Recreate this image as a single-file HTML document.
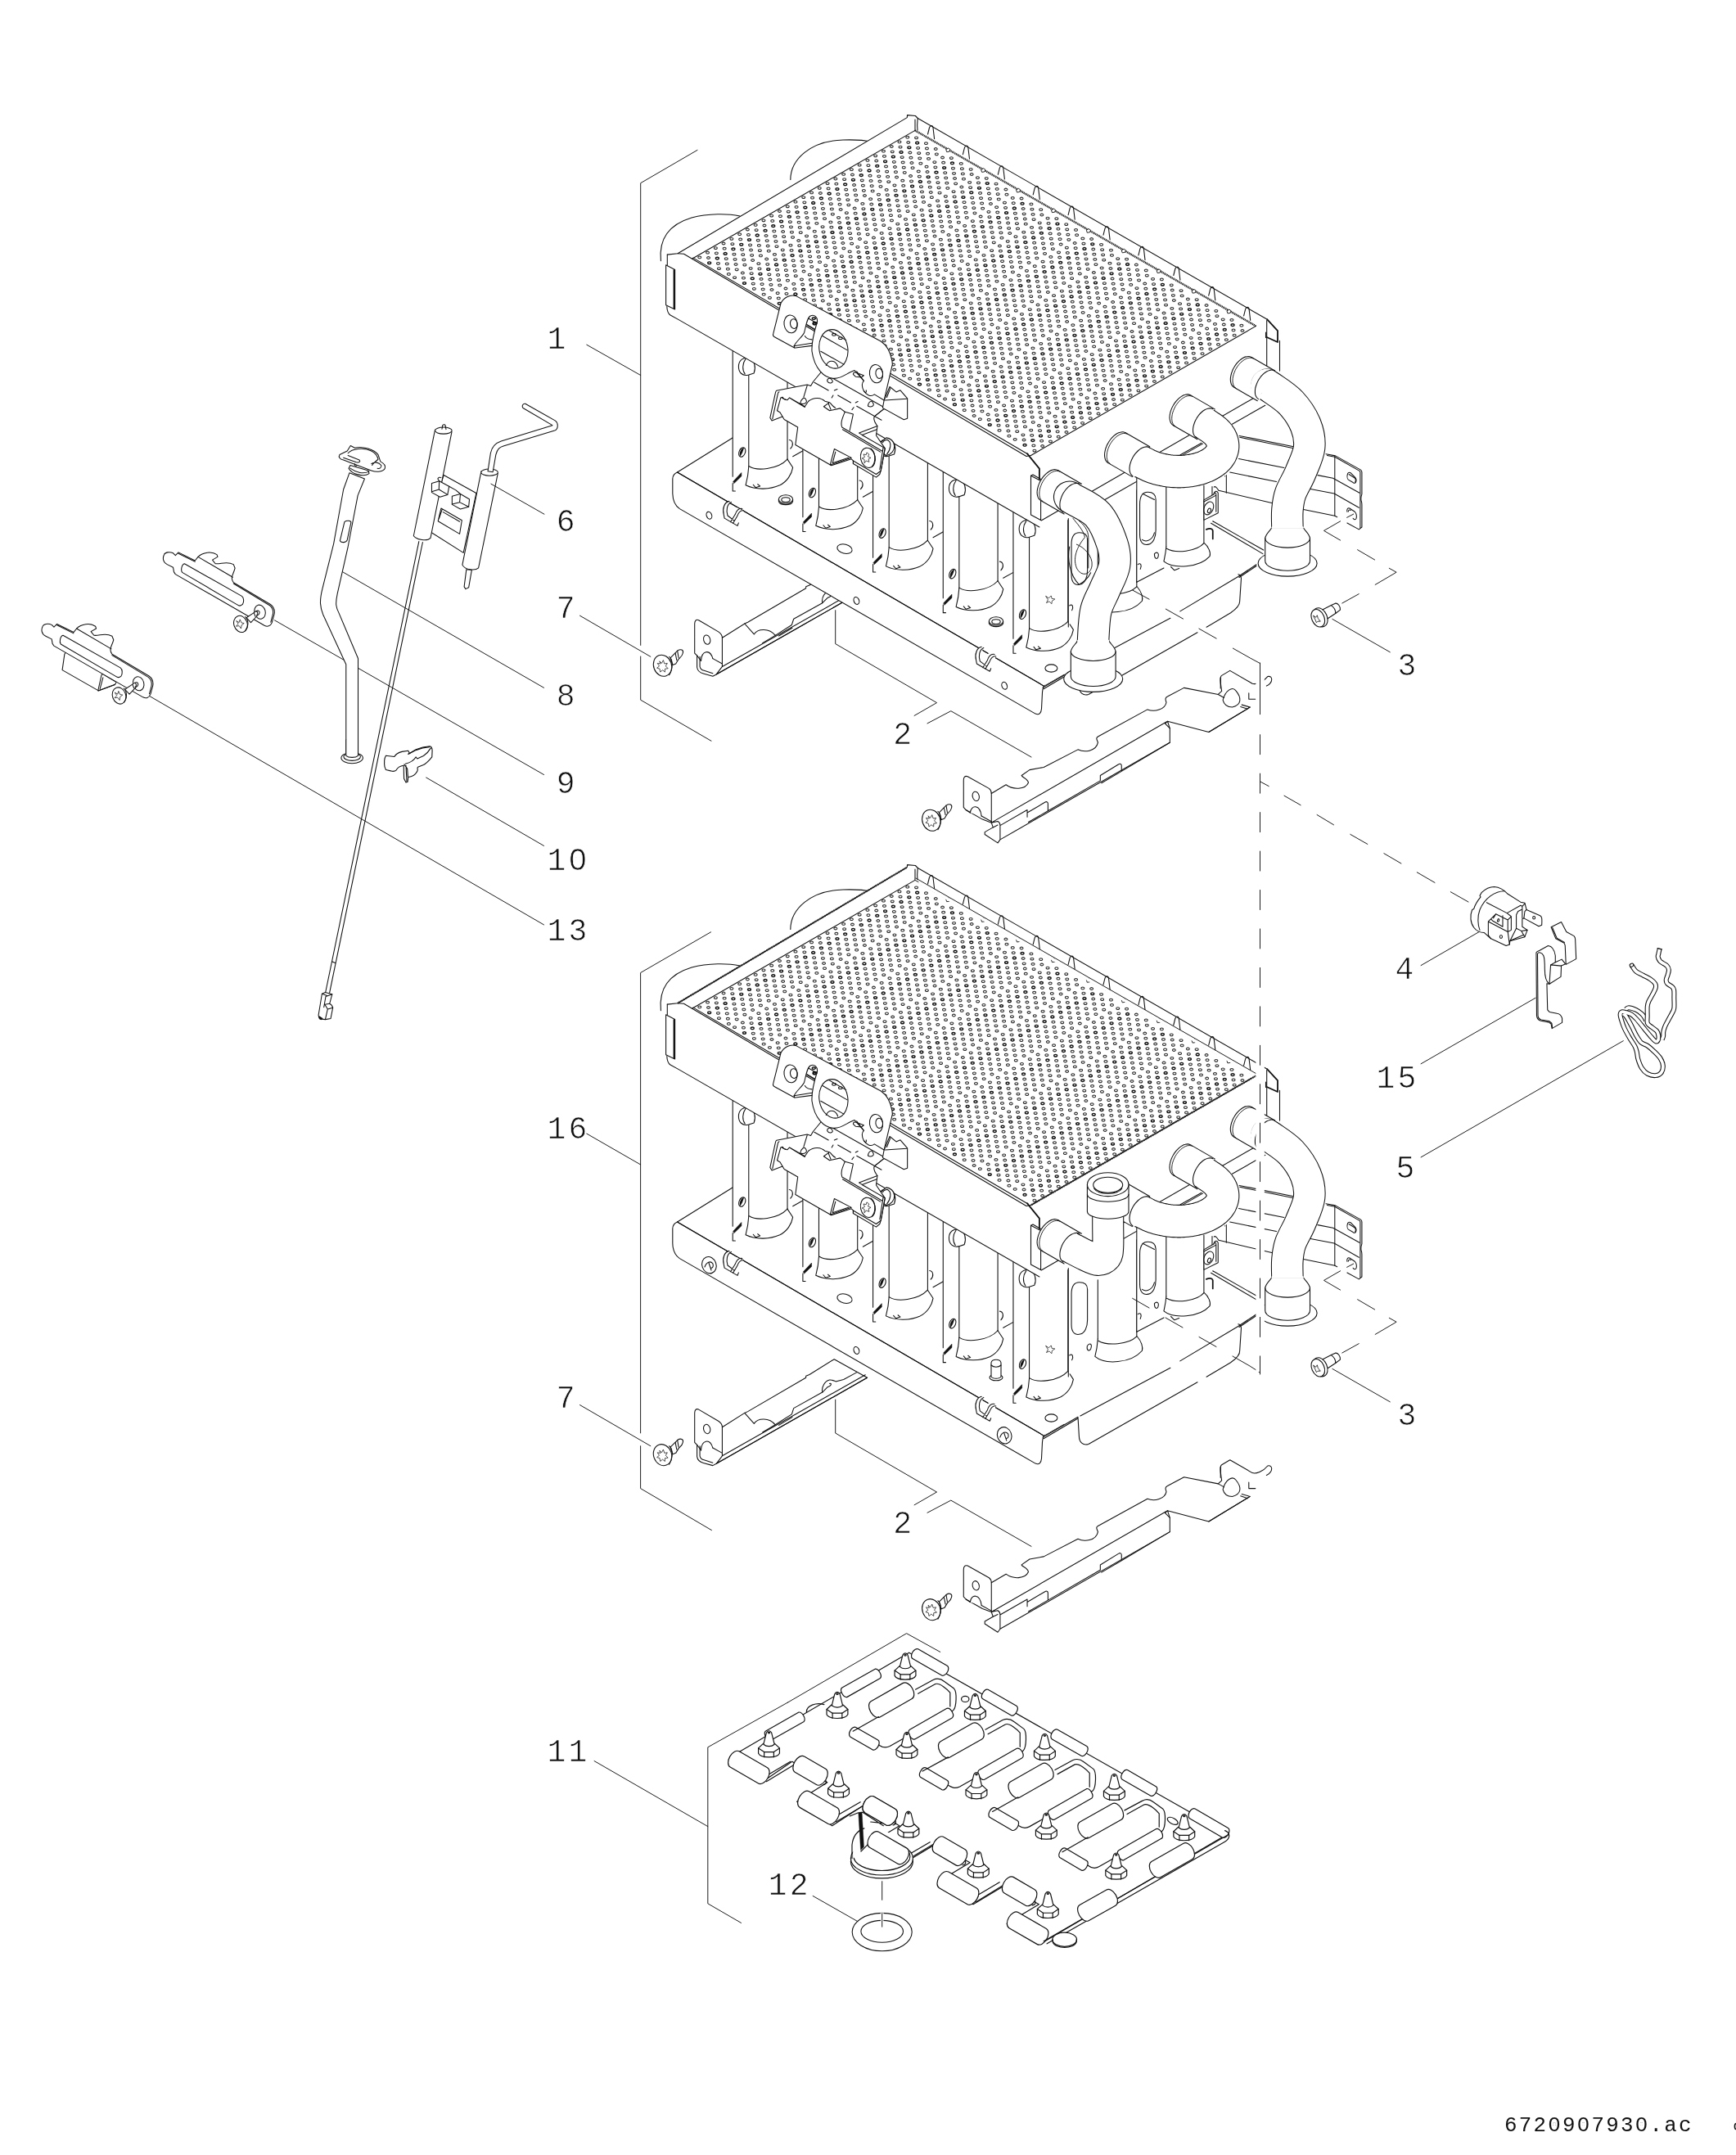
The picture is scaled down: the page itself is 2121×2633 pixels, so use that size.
<!DOCTYPE html>
<html><head><meta charset="utf-8"><title>6720907930</title>
<style>
html,body{margin:0;padding:0;background:#fff}
svg{display:block}
svg *{vector-effect:none}
.L{fill:none;stroke:#111;stroke-width:1.08;stroke-linecap:round;stroke-linejoin:round}
.L .w{fill:#fff}
.L .k{fill:#111}
.L .n{fill:none}
.L .th{stroke-width:.95}
.T3{stroke-width:3.7}
.T3 .th{stroke-width:3.2}
.T3 .b{stroke-width:6.5}
text{filter:url(#gs);font-family:"Liberation Mono",monospace;font-size:38px;fill:#111;stroke:#fff;stroke-width:.7px;letter-spacing:3.2px;}
</style></head><body>
<svg width="2121" height="2633" viewBox="0 0 2121 2633">
<defs><filter id="gs" x="-5%" y="-20%" width="110%" height="140%" color-interpolation-filters="sRGB"><feColorMatrix type="saturate" values="0"/></filter></defs>
<rect width="2121" height="2633" fill="#fff"/>
<g class="L">
<g id="part2">
<g class="T3" transform="translate(760 675.6) scale(.28802)">
<!-- left bracket piece (coords = bottom tile [760,1640]) -->
<path class="w" d="M308 300C308 288 314 280 325 285L410 335C420 342 425 350 425 360L520 300L535 293L780 150V143L795 137L900 72L1040 150L400 515L385 523L345 512C330 508 320 500 318 485V435L308 425Z"/>
<path d="M425 360V482L1032 138M425 482L400 515M400 515L1040 150"/>
<path d="M520 300L560 345C575 320 625 318 650 350L720 305L728 280L850 212C845 190 860 165 880 160C895 158 905 168 910 166L940 158L995 128"/>
<path d="M650 350L596 382M665 352L722 318M880 175C890 172 890 185 872 190L850 212"/>
<ellipse cx="360" cy="368" rx="14" ry="20" transform="rotate(-15 360 368)"/>
<path class="w" d="M335 458C337 415 372 405 385 448"/>
<path d="M318 435L335 458M385 448L425 470"/>
<path d="M330 440V482C332 492 338 497 348 499L385 511"/>
</g>
<g class="T3" transform="translate(1160 720) scale(.28802)">
<!-- right bracket piece -->
<path class="w" style="stroke:none" d="M1275 500L1100 606L925 560L935 590V650L215 1062L205 1076L150 1040V1030L185 1010L178 990L140 976L70 936L60 925V810C60 797 66 790 77 794L168 845C175 850 178 858 178 866L240 829C270 852 322 850 335 820C330 800 310 800 306 790L340 766L400 755L545 680C570 692 622 690 630 650C625 636 620 632 630 625L840 510C870 522 915 510 920 480C915 466 915 460 925 455L995 418L1140 446L1155 432C1150 400 1145 372 1155 366L1190 345L1285 400L1295 440Z"/>
<path d="M1275 500L1100 606L925 560L935 590V650L215 1062L205 1076L150 1040V1030L185 1010L178 990L140 976L70 936L60 925V810C60 797 66 790 77 794L168 845C175 850 178 858 178 866L240 829C270 852 322 850 335 820C330 800 310 800 306 790L340 766L400 755L545 680C570 692 622 690 630 650C625 636 620 632 630 625L840 510C870 522 915 510 920 480C915 466 915 460 925 455L995 418L1140 446L1155 432C1150 400 1145 372 1155 366L1190 345L1285 400C1300 405 1330 395 1350 370C1372 365 1375 395 1345 410"/>
<path d="M178 866V990L925 560M178 990L205 984C212 988 215 994 215 1002V1060M185 1010L205 1000M215 1002L330 936V966M330 948L408 902C414 900 418 904 418 910V940L335 988M418 940L640 812V790L718 742C724 738 730 742 730 748V772L645 822M730 772L935 650M925 560L915 570L935 590"/>
<ellipse cx="112" cy="878" rx="14" ry="20" transform="rotate(-15 112 878)"/>
<path class="w" d="M88 948C92 912 130 912 136 962"/>
<path d="M70 936L88 948M136 962L178 985"/>
<path d="M1160 470C1170 430 1200 410 1215 430C1240 460 1240 490 1200 500C1180 500 1165 490 1160 470Z"/>
<path d="M1140 446L1165 460M1240 490L1275 500L1100 606M1235 498L1265 508M1150 375V420M1270 440V466H1298"/>

</g>
<!-- leader/bracket lines for 2 -->
<g class="th">
<path d="M1020.7 745.7V786.6L1144.5 858.6L1117.1 874.4"/>
<path d="M1133 883.9L1161.8 868.7L1260 925"/>
</g>
<text x="1091.3" y="909">2</text>
<g id="screw7">
<g transform="translate(760 675.6) scale(.28802)" class="T3">
<path class="w" d="M205 445L235 415C250 405 262 412 258 425C255 440 245 445 240 450L228 470L215 475Z"/>
<path d="M235 415L240 445M226 425L232 455"/>
<ellipse class="w" cx="172" cy="478" rx="38" ry="46" transform="rotate(-20 172 478)"/>
<path d="M200 440C215 450 218 490 200 518"/>
<path d="M160 460L168 468L175 455L180 470L192 468L185 480L195 490L182 492L182 505L172 497L162 505L160 492L148 488L158 480L150 468L162 470Z" style="stroke-width:2.6"/>
</g>
</g>
<use href="#screw7" x="328.3" y="189"/>
</g>

<g id="U">
<g id="trayTop">
<!-- tray top surface + front face (src coords) -->
<path class="w" d="M895 535L827.5 577L1275.2 838.1L1517 698L1100 460Z" style="stroke:none"/>
<path d="M895 535L827.5 577"/>
<path class="w" d="M827.5 577C824 578.5 822 581 821.8 585V603C822 612 825 618 830.4 621.6L1265.1 872.1C1270 874 1272 871 1272.5 866L1273.5 846C1273.8 842 1274.5 840 1275.2 838.1Z"/>
<path d="M827.5 577L1275.2 838.1L1300 824"/>
<!-- holes in front face -->
<ellipse cx="866.4" cy="629.7" rx="3.2" ry="4.6" transform="rotate(-20 866.4 629.7)"/>
<ellipse cx="1046.4" cy="733.9" rx="3.2" ry="4.6" transform="rotate(-20 1046.4 733.9)"/>
<ellipse cx="1227.2" cy="837.8" rx="3.2" ry="4.6" transform="rotate(-20 1227.2 837.8)"/>
<!-- washers / oval holes on top -->
<g id="washer"><ellipse cx="960" cy="610" rx="8.6" ry="5.2"/><ellipse cx="960" cy="610.6" rx="5.2" ry="2.9"/><path d="M951.4 610V612.5C953 618 967 618 968.6 612.5V610"/></g>
<use href="#washer" x="257" y="149"/>
<ellipse cx="1032" cy="670.6" rx="9.3" ry="5.6" transform="rotate(14 1032 670.6)"/>
<ellipse cx="1284.4" cy="816.5" rx="7.5" ry="4.6"/>
<!-- clip hooks -->
<g id="hook"><path class="w" style="stroke:none" d="M890.9 612.4C885 613.5 882.3 621.6 884.3 628.8L885.1 633.1L901 642.4L908.5 624L900 620L894 625Z"/><path d="M890.9 612.4C885 613.5 882.3 621.6 884.3 628.8L885.1 633.1L901 642.4L902.4 638.9M893.5 613.5C888 616 887 624 889 630L897 636M906.7 621.6C902.5 620.2 899.5 624.5 898.1 628.8L892.5 637.8M908.5 624C905 623 902 627 900.5 631L895.5 639.5"/></g>
<use href="#hook" x="308.3" y="177.9"/>
</g>

<g id="trayRight">
<path class="w" style="stroke:none" d="M1275.2 838.1L1317 814L1318.4 842.7L1329.9 848.5L1505 749L1516.5 706L1535 690L1480 700L1317 800Z"/>
<path d="M1274.1 840L1317 815.3M1275 841.8L1317 817M1317 815.3L1318.4 839C1318.6 846 1323 850.5 1329.9 848.5L1463 772.7M1474.1 766.3L1503.6 748.8C1512 743 1515 738 1514.7 734L1516.5 706.4C1516 703 1514.5 702 1512.8 701.8"/>
<path d="M1319.9 813.9L1429.9 755.2M1441.8 746.9L1512.8 704.5L1535 689.8M1514 705.5L1535 691.5"/>
</g>

<g id="tubes" class="T3" transform="translate(780 420) scale(.28802)">
<defs>
<g id="tube">
<path d="M655 478L698 454"/>
<path class="w" d="M400 -60V625H412L455 600C500 625 600 620 655 525L632 490V-60Z" style="stroke:none"/>
<path d="M400 -60V563M400 592V625H411M468 130V520M632 60V490"/>
<path class="k" d="M402 584L437 547V562L406 592Z" style="stroke-width:2"/>
<ellipse cx="440" cy="460" rx="13" ry="21" transform="rotate(22 440 460)"/>
<path class="k" d="M431 478C426 462 436 442 448 441C444 455 440 468 431 478Z" style="stroke:none"/>
<path d="M468 520C466 560 459 585 455 600C500 622 560 618 600 600C630 585 650 555 655 525L632 490"/>
<path d="M470 520C500 540 590 535 632 490"/>
<path d="M487 598L497 610L516 604L506 596"/>
<path d="M640 408C655 410 660 430 645 445"/>
<path class="w" d="M468 132C440 140 424 120 425 95C426 70 445 55 470 62C492 68 500 100 490 125Z"/>
<path d="M452 128C440 112 440 85 455 64"/>
</g>
</defs>
<use href="#tube"/>
<use href="#tube" x="297.5" y="172"/>
<use href="#tube" x="595" y="344"/>
<use href="#tube" x="892.5" y="516"/>
<use href="#tube" x="1190" y="688"/>
</g>

<g id="box">
<!-- back cylinders -->
<path d="M965.8 219.4C966 195 990 172 1030 171C1045 170.5 1057 171.5 1065 173.3"/>
<path d="M807.4 318.7C805 295 815 275 845 266C865 260.5 890 261 904 264"/>
<!-- white faces -->
<path class="w" style="stroke:none" d="M815.3 311.1L828 309.7L1108.3 143.6L1108.5 140.6L1118.4 141.5L1121.3 144.5L1548.3 390.3L1547.7 477L1272.2 636L1269.9 644L829.2 390.6L817.1 382.5L814.8 374.5Z"/>
<!-- top frame -->
<path d="M815.3 311.1L828 309.7L1108.3 143.6L1108.5 140.6L1118.4 141.5L1121.3 144.5L1548.3 390.3"/>
<path d="M845.5 316.3L1118 159.4"/>
<path d="M1118 159.4L1534.5 398.4" style="stroke-width:2.4;stroke-dasharray:1.1 .7;stroke-linecap:butt"/>
<path d="M1534.5 398.4L1259.5 556.5"/>
<path d="M847 315.1L1256 555"/>
<path d="M828 309.7L835.5 310.2L1254 557.5L1259.5 556.5"/>
<path d="M1118 159.4L1118 146M1121 159C1120 152 1121 148 1121.3 144.5"/>
<path d="M1133.5 164.0L1135.5 156.0C1136.5 152.6 1139.5 152.6 1140.0 156.0L1141.6 169.7M1176.4 188.7L1178.4 180.7C1179.4 177.2 1182.4 177.2 1182.9 180.7L1184.5 194.3M1219.3 213.3L1221.3 205.3C1222.3 201.9 1225.3 201.9 1225.8 205.3L1227.4 219.0M1262.2 237.9L1264.2 229.9C1265.2 226.5 1268.2 226.5 1268.7 229.9L1270.3 243.6M1305.1 262.6L1307.1 254.6C1308.1 251.2 1311.1 251.2 1311.6 254.6L1313.2 268.3M1348.0 287.2L1350.0 279.2C1351.0 275.9 1354.0 275.9 1354.5 279.2L1356.1 292.9M1390.9 311.9L1392.9 303.9C1393.9 300.5 1396.9 300.5 1397.4 303.9L1399.0 317.6M1433.8 336.5L1435.8 328.5C1436.8 325.1 1439.8 325.1 1440.3 328.5L1441.9 342.2M1476.7 361.2L1478.7 353.2C1479.7 349.8 1482.7 349.8 1483.2 353.2L1484.8 366.9M1519.6 385.9L1521.6 377.9C1522.6 374.4 1525.6 374.4 1526.1 377.9L1527.7 391.5"/>
<path class="w" style="stroke-width:.9" d="M1156.1 182.4l2.6 -1.4l2.2 1.6l-1 2.6l-2.8 .4zM1199.0 207.1l2.6 -1.4l2.2 1.6l-1 2.6l-2.8 .4zM1241.9 231.7l2.6 -1.4l2.2 1.6l-1 2.6l-2.8 .4zM1284.8 256.4l2.6 -1.4l2.2 1.6l-1 2.6l-2.8 .4zM1327.7 281.0l2.6 -1.4l2.2 1.6l-1 2.6l-2.8 .4zM1370.6 305.6l2.6 -1.4l2.2 1.6l-1 2.6l-2.8 .4zM1413.5 330.3l2.6 -1.4l2.2 1.6l-1 2.6l-2.8 .4zM1456.4 354.9l2.6 -1.4l2.2 1.6l-1 2.6l-2.8 .4zM1499.3 379.6l2.6 -1.4l2.2 1.6l-1 2.6l-2.8 .4z"/>
<!-- left face -->
<path d="M815.3 311.1V323.8"/>
<path class="w" d="M813.6 323.8L824.6 329.5V378L813.6 372.7Z"/>
<path d="M823.6 330V377" style="stroke-width:2"/>
<path d="M814.8 374.5C815 380 816 383 819 385L829.2 390.6L1269.9 644"/>
<!-- front corner flap + clip -->
<path d="M1254.9 554.1L1269.9 572.6V585.3" style="stroke-width:1.8"/>
<path class="w" d="M1259.5 581.2L1271.6 587.6V635.4L1259.5 629Z"/>
<path d="M1259.5 581.2L1262 580L1271.6 585.5"/>
<path d="M1272.2 636L1547 477.5"/>
<!-- right corner flap -->
<path d="M1548.3 390.3L1561 404.1V418L1548.3 412.2" style="stroke-width:1.8"/>
<path d="M1547.7 391.5V477M1563.5 416.2V453.1M1546.5 406V412.5"/>
</g>

<g id="plate">
<path class="n" style="stroke-width:1.05;stroke:#2a2a2a" d="M1106.9 167.7a1.9 1.1 0 1 0 3.7 0a1.9 1.1 0 1 0 -3.7 0M1097.1 173.4a1.9 1.1 0 1 0 3.7 0a1.9 1.1 0 1 0 -3.7 0M1087.4 179.0a1.9 1.1 0 1 0 3.7 0a1.9 1.1 0 1 0 -3.7 0M1077.6 184.7a1.9 1.1 0 1 0 3.7 0a1.9 1.1 0 1 0 -3.7 0M1067.8 190.3a1.9 1.1 0 1 0 3.7 0a1.9 1.1 0 1 0 -3.7 0M1058.1 195.9a1.9 1.1 0 1 0 3.7 0a1.9 1.1 0 1 0 -3.7 0M1048.3 201.6a1.9 1.1 0 1 0 3.7 0a1.9 1.1 0 1 0 -3.7 0M1038.5 207.2a1.9 1.1 0 1 0 3.7 0a1.9 1.1 0 1 0 -3.7 0M1028.8 212.9a1.9 1.1 0 1 0 3.7 0a1.9 1.1 0 1 0 -3.7 0M1019.0 218.5a1.9 1.1 0 1 0 3.7 0a1.9 1.1 0 1 0 -3.7 0M1009.2 224.1a1.9 1.1 0 1 0 3.7 0a1.9 1.1 0 1 0 -3.7 0M999.4 229.8a1.9 1.1 0 1 0 3.7 0a1.9 1.1 0 1 0 -3.7 0M989.7 235.4a1.9 1.1 0 1 0 3.7 0a1.9 1.1 0 1 0 -3.7 0M979.9 241.1a1.9 1.1 0 1 0 3.7 0a1.9 1.1 0 1 0 -3.7 0M970.1 246.7a1.9 1.1 0 1 0 3.7 0a1.9 1.1 0 1 0 -3.7 0M960.4 252.3a1.9 1.1 0 1 0 3.7 0a1.9 1.1 0 1 0 -3.7 0M950.6 258.0a1.9 1.1 0 1 0 3.7 0a1.9 1.1 0 1 0 -3.7 0M940.8 263.6a1.9 1.1 0 1 0 3.7 0a1.9 1.1 0 1 0 -3.7 0M931.1 269.3a1.9 1.1 0 1 0 3.7 0a1.9 1.1 0 1 0 -3.7 0M921.3 274.9a1.9 1.1 0 1 0 3.7 0a1.9 1.1 0 1 0 -3.7 0M911.5 280.5a1.9 1.1 0 1 0 3.7 0a1.9 1.1 0 1 0 -3.7 0M901.8 286.2a1.9 1.1 0 1 0 3.7 0a1.9 1.1 0 1 0 -3.7 0M892.0 291.8a1.9 1.1 0 1 0 3.7 0a1.9 1.1 0 1 0 -3.7 0M882.2 297.5a1.9 1.1 0 1 0 3.7 0a1.9 1.1 0 1 0 -3.7 0M872.5 303.1a1.9 1.1 0 1 0 3.7 0a1.9 1.1 0 1 0 -3.7 0M862.7 308.7a1.9 1.1 0 1 0 3.7 0a1.9 1.1 0 1 0 -3.7 0M852.9 314.4a1.9 1.1 0 1 0 3.7 0a1.9 1.1 0 1 0 -3.7 0M1117.7 168.3a1.9 1.1 0 1 0 3.7 0a1.9 1.1 0 1 0 -3.7 0M1107.9 174.0a1.9 1.1 0 1 0 3.7 0a1.9 1.1 0 1 0 -3.7 0M1098.2 179.6a1.9 1.1 0 1 0 3.7 0a1.9 1.1 0 1 0 -3.7 0M1088.4 185.3a1.9 1.1 0 1 0 3.7 0a1.9 1.1 0 1 0 -3.7 0M1078.6 190.9a1.9 1.1 0 1 0 3.7 0a1.9 1.1 0 1 0 -3.7 0M1068.9 196.5a1.9 1.1 0 1 0 3.7 0a1.9 1.1 0 1 0 -3.7 0M1059.1 202.2a1.9 1.1 0 1 0 3.7 0a1.9 1.1 0 1 0 -3.7 0M1049.3 207.8a1.9 1.1 0 1 0 3.7 0a1.9 1.1 0 1 0 -3.7 0M1039.6 213.5a1.9 1.1 0 1 0 3.7 0a1.9 1.1 0 1 0 -3.7 0M1029.8 219.1a1.9 1.1 0 1 0 3.7 0a1.9 1.1 0 1 0 -3.7 0M1020.0 224.7a1.9 1.1 0 1 0 3.7 0a1.9 1.1 0 1 0 -3.7 0M1010.3 230.4a1.9 1.1 0 1 0 3.7 0a1.9 1.1 0 1 0 -3.7 0M1000.5 236.0a1.9 1.1 0 1 0 3.7 0a1.9 1.1 0 1 0 -3.7 0M990.7 241.7a1.9 1.1 0 1 0 3.7 0a1.9 1.1 0 1 0 -3.7 0M981.0 247.3a1.9 1.1 0 1 0 3.7 0a1.9 1.1 0 1 0 -3.7 0M971.2 252.9a1.9 1.1 0 1 0 3.7 0a1.9 1.1 0 1 0 -3.7 0M961.4 258.6a1.9 1.1 0 1 0 3.7 0a1.9 1.1 0 1 0 -3.7 0M951.6 264.2a1.9 1.1 0 1 0 3.7 0a1.9 1.1 0 1 0 -3.7 0M941.9 269.9a1.9 1.1 0 1 0 3.7 0a1.9 1.1 0 1 0 -3.7 0M932.1 275.5a1.9 1.1 0 1 0 3.7 0a1.9 1.1 0 1 0 -3.7 0M922.3 281.1a1.9 1.1 0 1 0 3.7 0a1.9 1.1 0 1 0 -3.7 0M912.6 286.8a1.9 1.1 0 1 0 3.7 0a1.9 1.1 0 1 0 -3.7 0M902.8 292.4a1.9 1.1 0 1 0 3.7 0a1.9 1.1 0 1 0 -3.7 0M893.0 298.1a1.9 1.1 0 1 0 3.7 0a1.9 1.1 0 1 0 -3.7 0M883.3 303.7a1.9 1.1 0 1 0 3.7 0a1.9 1.1 0 1 0 -3.7 0M873.5 309.3a1.9 1.1 0 1 0 3.7 0a1.9 1.1 0 1 0 -3.7 0M863.7 315.0a1.9 1.1 0 1 0 3.7 0a1.9 1.1 0 1 0 -3.7 0M1129.6 175.2a1.9 1.1 0 1 0 3.7 0a1.9 1.1 0 1 0 -3.7 0M1119.8 180.8a1.9 1.1 0 1 0 3.7 0a1.9 1.1 0 1 0 -3.7 0M1110.0 186.5a1.9 1.1 0 1 0 3.7 0a1.9 1.1 0 1 0 -3.7 0M1100.3 192.1a1.9 1.1 0 1 0 3.7 0a1.9 1.1 0 1 0 -3.7 0M1090.5 197.8a1.9 1.1 0 1 0 3.7 0a1.9 1.1 0 1 0 -3.7 0M1080.7 203.4a1.9 1.1 0 1 0 3.7 0a1.9 1.1 0 1 0 -3.7 0M1071.0 209.0a1.9 1.1 0 1 0 3.7 0a1.9 1.1 0 1 0 -3.7 0M1061.2 214.7a1.9 1.1 0 1 0 3.7 0a1.9 1.1 0 1 0 -3.7 0M1051.4 220.3a1.9 1.1 0 1 0 3.7 0a1.9 1.1 0 1 0 -3.7 0M1041.7 226.0a1.9 1.1 0 1 0 3.7 0a1.9 1.1 0 1 0 -3.7 0M1031.9 231.6a1.9 1.1 0 1 0 3.7 0a1.9 1.1 0 1 0 -3.7 0M1022.1 237.2a1.9 1.1 0 1 0 3.7 0a1.9 1.1 0 1 0 -3.7 0M1012.4 242.9a1.9 1.1 0 1 0 3.7 0a1.9 1.1 0 1 0 -3.7 0M1002.6 248.5a1.9 1.1 0 1 0 3.7 0a1.9 1.1 0 1 0 -3.7 0M992.8 254.2a1.9 1.1 0 1 0 3.7 0a1.9 1.1 0 1 0 -3.7 0M983.1 259.8a1.9 1.1 0 1 0 3.7 0a1.9 1.1 0 1 0 -3.7 0M973.3 265.4a1.9 1.1 0 1 0 3.7 0a1.9 1.1 0 1 0 -3.7 0M963.5 271.1a1.9 1.1 0 1 0 3.7 0a1.9 1.1 0 1 0 -3.7 0M953.7 276.7a1.9 1.1 0 1 0 3.7 0a1.9 1.1 0 1 0 -3.7 0M944.0 282.4a1.9 1.1 0 1 0 3.7 0a1.9 1.1 0 1 0 -3.7 0M934.2 288.0a1.9 1.1 0 1 0 3.7 0a1.9 1.1 0 1 0 -3.7 0M924.4 293.6a1.9 1.1 0 1 0 3.7 0a1.9 1.1 0 1 0 -3.7 0M914.7 299.3a1.9 1.1 0 1 0 3.7 0a1.9 1.1 0 1 0 -3.7 0M904.9 304.9a1.9 1.1 0 1 0 3.7 0a1.9 1.1 0 1 0 -3.7 0M895.1 310.6a1.9 1.1 0 1 0 3.7 0a1.9 1.1 0 1 0 -3.7 0M885.4 316.2a1.9 1.1 0 1 0 3.7 0a1.9 1.1 0 1 0 -3.7 0M875.6 321.8a1.9 1.1 0 1 0 3.7 0a1.9 1.1 0 1 0 -3.7 0M1130.6 181.4a1.9 1.1 0 1 0 3.7 0a1.9 1.1 0 1 0 -3.7 0M1120.9 187.1a1.9 1.1 0 1 0 3.7 0a1.9 1.1 0 1 0 -3.7 0M1111.1 192.7a1.9 1.1 0 1 0 3.7 0a1.9 1.1 0 1 0 -3.7 0M1101.3 198.4a1.9 1.1 0 1 0 3.7 0a1.9 1.1 0 1 0 -3.7 0M1091.6 204.0a1.9 1.1 0 1 0 3.7 0a1.9 1.1 0 1 0 -3.7 0M1081.8 209.6a1.9 1.1 0 1 0 3.7 0a1.9 1.1 0 1 0 -3.7 0M1072.0 215.3a1.9 1.1 0 1 0 3.7 0a1.9 1.1 0 1 0 -3.7 0M1062.2 220.9a1.9 1.1 0 1 0 3.7 0a1.9 1.1 0 1 0 -3.7 0M1052.5 226.6a1.9 1.1 0 1 0 3.7 0a1.9 1.1 0 1 0 -3.7 0M1042.7 232.2a1.9 1.1 0 1 0 3.7 0a1.9 1.1 0 1 0 -3.7 0M1032.9 237.8a1.9 1.1 0 1 0 3.7 0a1.9 1.1 0 1 0 -3.7 0M1023.2 243.5a1.9 1.1 0 1 0 3.7 0a1.9 1.1 0 1 0 -3.7 0M1013.4 249.1a1.9 1.1 0 1 0 3.7 0a1.9 1.1 0 1 0 -3.7 0M1003.6 254.8a1.9 1.1 0 1 0 3.7 0a1.9 1.1 0 1 0 -3.7 0M993.9 260.4a1.9 1.1 0 1 0 3.7 0a1.9 1.1 0 1 0 -3.7 0M984.1 266.0a1.9 1.1 0 1 0 3.7 0a1.9 1.1 0 1 0 -3.7 0M974.3 271.7a1.9 1.1 0 1 0 3.7 0a1.9 1.1 0 1 0 -3.7 0M964.6 277.3a1.9 1.1 0 1 0 3.7 0a1.9 1.1 0 1 0 -3.7 0M954.8 283.0a1.9 1.1 0 1 0 3.7 0a1.9 1.1 0 1 0 -3.7 0M945.0 288.6a1.9 1.1 0 1 0 3.7 0a1.9 1.1 0 1 0 -3.7 0M935.3 294.2a1.9 1.1 0 1 0 3.7 0a1.9 1.1 0 1 0 -3.7 0M925.5 299.9a1.9 1.1 0 1 0 3.7 0a1.9 1.1 0 1 0 -3.7 0M915.7 305.5a1.9 1.1 0 1 0 3.7 0a1.9 1.1 0 1 0 -3.7 0M905.9 311.2a1.9 1.1 0 1 0 3.7 0a1.9 1.1 0 1 0 -3.7 0M896.2 316.8a1.9 1.1 0 1 0 3.7 0a1.9 1.1 0 1 0 -3.7 0M886.4 322.4a1.9 1.1 0 1 0 3.7 0a1.9 1.1 0 1 0 -3.7 0M876.6 328.1a1.9 1.1 0 1 0 3.7 0a1.9 1.1 0 1 0 -3.7 0M1141.4 182.0a1.9 1.1 0 1 0 3.7 0a1.9 1.1 0 1 0 -3.7 0M1131.7 187.7a1.9 1.1 0 1 0 3.7 0a1.9 1.1 0 1 0 -3.7 0M1121.9 193.3a1.9 1.1 0 1 0 3.7 0a1.9 1.1 0 1 0 -3.7 0M1112.1 199.0a1.9 1.1 0 1 0 3.7 0a1.9 1.1 0 1 0 -3.7 0M1102.4 204.6a1.9 1.1 0 1 0 3.7 0a1.9 1.1 0 1 0 -3.7 0M1092.6 210.2a1.9 1.1 0 1 0 3.7 0a1.9 1.1 0 1 0 -3.7 0M1082.8 215.9a1.9 1.1 0 1 0 3.7 0a1.9 1.1 0 1 0 -3.7 0M1073.1 221.5a1.9 1.1 0 1 0 3.7 0a1.9 1.1 0 1 0 -3.7 0M1063.3 227.2a1.9 1.1 0 1 0 3.7 0a1.9 1.1 0 1 0 -3.7 0M1053.5 232.8a1.9 1.1 0 1 0 3.7 0a1.9 1.1 0 1 0 -3.7 0M1043.8 238.4a1.9 1.1 0 1 0 3.7 0a1.9 1.1 0 1 0 -3.7 0M1034.0 244.1a1.9 1.1 0 1 0 3.7 0a1.9 1.1 0 1 0 -3.7 0M1024.2 249.7a1.9 1.1 0 1 0 3.7 0a1.9 1.1 0 1 0 -3.7 0M1014.5 255.4a1.9 1.1 0 1 0 3.7 0a1.9 1.1 0 1 0 -3.7 0M1004.7 261.0a1.9 1.1 0 1 0 3.7 0a1.9 1.1 0 1 0 -3.7 0M994.9 266.6a1.9 1.1 0 1 0 3.7 0a1.9 1.1 0 1 0 -3.7 0M985.1 272.3a1.9 1.1 0 1 0 3.7 0a1.9 1.1 0 1 0 -3.7 0M975.4 277.9a1.9 1.1 0 1 0 3.7 0a1.9 1.1 0 1 0 -3.7 0M965.6 283.6a1.9 1.1 0 1 0 3.7 0a1.9 1.1 0 1 0 -3.7 0M955.8 289.2a1.9 1.1 0 1 0 3.7 0a1.9 1.1 0 1 0 -3.7 0M946.1 294.8a1.9 1.1 0 1 0 3.7 0a1.9 1.1 0 1 0 -3.7 0M936.3 300.5a1.9 1.1 0 1 0 3.7 0a1.9 1.1 0 1 0 -3.7 0M926.5 306.1a1.9 1.1 0 1 0 3.7 0a1.9 1.1 0 1 0 -3.7 0M916.8 311.8a1.9 1.1 0 1 0 3.7 0a1.9 1.1 0 1 0 -3.7 0M907.0 317.4a1.9 1.1 0 1 0 3.7 0a1.9 1.1 0 1 0 -3.7 0M897.2 323.0a1.9 1.1 0 1 0 3.7 0a1.9 1.1 0 1 0 -3.7 0M887.5 328.7a1.9 1.1 0 1 0 3.7 0a1.9 1.1 0 1 0 -3.7 0M1142.5 188.3a1.9 1.1 0 1 0 3.7 0a1.9 1.1 0 1 0 -3.7 0M1132.7 193.9a1.9 1.1 0 1 0 3.7 0a1.9 1.1 0 1 0 -3.7 0M1123.0 199.6a1.9 1.1 0 1 0 3.7 0a1.9 1.1 0 1 0 -3.7 0M1113.2 205.2a1.9 1.1 0 1 0 3.7 0a1.9 1.1 0 1 0 -3.7 0M1103.4 210.8a1.9 1.1 0 1 0 3.7 0a1.9 1.1 0 1 0 -3.7 0M1093.7 216.5a1.9 1.1 0 1 0 3.7 0a1.9 1.1 0 1 0 -3.7 0M1083.9 222.1a1.9 1.1 0 1 0 3.7 0a1.9 1.1 0 1 0 -3.7 0M1074.1 227.8a1.9 1.1 0 1 0 3.7 0a1.9 1.1 0 1 0 -3.7 0M1064.3 233.4a1.9 1.1 0 1 0 3.7 0a1.9 1.1 0 1 0 -3.7 0M1054.6 239.0a1.9 1.1 0 1 0 3.7 0a1.9 1.1 0 1 0 -3.7 0M1044.8 244.7a1.9 1.1 0 1 0 3.7 0a1.9 1.1 0 1 0 -3.7 0M1035.0 250.3a1.9 1.1 0 1 0 3.7 0a1.9 1.1 0 1 0 -3.7 0M1025.3 256.0a1.9 1.1 0 1 0 3.7 0a1.9 1.1 0 1 0 -3.7 0M1015.5 261.6a1.9 1.1 0 1 0 3.7 0a1.9 1.1 0 1 0 -3.7 0M1005.7 267.2a1.9 1.1 0 1 0 3.7 0a1.9 1.1 0 1 0 -3.7 0M996.0 272.9a1.9 1.1 0 1 0 3.7 0a1.9 1.1 0 1 0 -3.7 0M986.2 278.5a1.9 1.1 0 1 0 3.7 0a1.9 1.1 0 1 0 -3.7 0M976.4 284.2a1.9 1.1 0 1 0 3.7 0a1.9 1.1 0 1 0 -3.7 0M966.7 289.8a1.9 1.1 0 1 0 3.7 0a1.9 1.1 0 1 0 -3.7 0M956.9 295.4a1.9 1.1 0 1 0 3.7 0a1.9 1.1 0 1 0 -3.7 0M947.1 301.1a1.9 1.1 0 1 0 3.7 0a1.9 1.1 0 1 0 -3.7 0M937.4 306.7a1.9 1.1 0 1 0 3.7 0a1.9 1.1 0 1 0 -3.7 0M927.6 312.4a1.9 1.1 0 1 0 3.7 0a1.9 1.1 0 1 0 -3.7 0M917.8 318.0a1.9 1.1 0 1 0 3.7 0a1.9 1.1 0 1 0 -3.7 0M908.0 323.6a1.9 1.1 0 1 0 3.7 0a1.9 1.1 0 1 0 -3.7 0M898.3 329.3a1.9 1.1 0 1 0 3.7 0a1.9 1.1 0 1 0 -3.7 0M888.5 334.9a1.9 1.1 0 1 0 3.7 0a1.9 1.1 0 1 0 -3.7 0M1149.7 192.5a1.9 1.1 0 1 0 3.7 0a1.9 1.1 0 1 0 -3.7 0M1140.0 198.1a1.9 1.1 0 1 0 3.7 0a1.9 1.1 0 1 0 -3.7 0M1130.2 203.7a1.9 1.1 0 1 0 3.7 0a1.9 1.1 0 1 0 -3.7 0M1120.4 209.4a1.9 1.1 0 1 0 3.7 0a1.9 1.1 0 1 0 -3.7 0M1110.7 215.0a1.9 1.1 0 1 0 3.7 0a1.9 1.1 0 1 0 -3.7 0M1100.9 220.7a1.9 1.1 0 1 0 3.7 0a1.9 1.1 0 1 0 -3.7 0M1091.1 226.3a1.9 1.1 0 1 0 3.7 0a1.9 1.1 0 1 0 -3.7 0M1081.3 231.9a1.9 1.1 0 1 0 3.7 0a1.9 1.1 0 1 0 -3.7 0M1071.6 237.6a1.9 1.1 0 1 0 3.7 0a1.9 1.1 0 1 0 -3.7 0M1061.8 243.2a1.9 1.1 0 1 0 3.7 0a1.9 1.1 0 1 0 -3.7 0M1052.0 248.9a1.9 1.1 0 1 0 3.7 0a1.9 1.1 0 1 0 -3.7 0M1042.3 254.5a1.9 1.1 0 1 0 3.7 0a1.9 1.1 0 1 0 -3.7 0M1032.5 260.1a1.9 1.1 0 1 0 3.7 0a1.9 1.1 0 1 0 -3.7 0M1022.7 265.8a1.9 1.1 0 1 0 3.7 0a1.9 1.1 0 1 0 -3.7 0M1013.0 271.4a1.9 1.1 0 1 0 3.7 0a1.9 1.1 0 1 0 -3.7 0M1003.2 277.1a1.9 1.1 0 1 0 3.7 0a1.9 1.1 0 1 0 -3.7 0M993.4 282.7a1.9 1.1 0 1 0 3.7 0a1.9 1.1 0 1 0 -3.7 0M983.7 288.3a1.9 1.1 0 1 0 3.7 0a1.9 1.1 0 1 0 -3.7 0M973.9 294.0a1.9 1.1 0 1 0 3.7 0a1.9 1.1 0 1 0 -3.7 0M964.1 299.6a1.9 1.1 0 1 0 3.7 0a1.9 1.1 0 1 0 -3.7 0M954.4 305.3a1.9 1.1 0 1 0 3.7 0a1.9 1.1 0 1 0 -3.7 0M944.6 310.9a1.9 1.1 0 1 0 3.7 0a1.9 1.1 0 1 0 -3.7 0M934.8 316.5a1.9 1.1 0 1 0 3.7 0a1.9 1.1 0 1 0 -3.7 0M925.0 322.2a1.9 1.1 0 1 0 3.7 0a1.9 1.1 0 1 0 -3.7 0M915.3 327.8a1.9 1.1 0 1 0 3.7 0a1.9 1.1 0 1 0 -3.7 0M905.5 333.5a1.9 1.1 0 1 0 3.7 0a1.9 1.1 0 1 0 -3.7 0M895.7 339.1a1.9 1.1 0 1 0 3.7 0a1.9 1.1 0 1 0 -3.7 0M1160.5 193.1a1.9 1.1 0 1 0 3.7 0a1.9 1.1 0 1 0 -3.7 0M1150.8 198.7a1.9 1.1 0 1 0 3.7 0a1.9 1.1 0 1 0 -3.7 0M1141.0 204.3a1.9 1.1 0 1 0 3.7 0a1.9 1.1 0 1 0 -3.7 0M1131.2 210.0a1.9 1.1 0 1 0 3.7 0a1.9 1.1 0 1 0 -3.7 0M1121.5 215.6a1.9 1.1 0 1 0 3.7 0a1.9 1.1 0 1 0 -3.7 0M1111.7 221.3a1.9 1.1 0 1 0 3.7 0a1.9 1.1 0 1 0 -3.7 0M1101.9 226.9a1.9 1.1 0 1 0 3.7 0a1.9 1.1 0 1 0 -3.7 0M1092.2 232.6a1.9 1.1 0 1 0 3.7 0a1.9 1.1 0 1 0 -3.7 0M1082.4 238.2a1.9 1.1 0 1 0 3.7 0a1.9 1.1 0 1 0 -3.7 0M1072.6 243.8a1.9 1.1 0 1 0 3.7 0a1.9 1.1 0 1 0 -3.7 0M1062.9 249.5a1.9 1.1 0 1 0 3.7 0a1.9 1.1 0 1 0 -3.7 0M1053.1 255.1a1.9 1.1 0 1 0 3.7 0a1.9 1.1 0 1 0 -3.7 0M1043.3 260.7a1.9 1.1 0 1 0 3.7 0a1.9 1.1 0 1 0 -3.7 0M1033.5 266.4a1.9 1.1 0 1 0 3.7 0a1.9 1.1 0 1 0 -3.7 0M1023.8 272.0a1.9 1.1 0 1 0 3.7 0a1.9 1.1 0 1 0 -3.7 0M1014.0 277.7a1.9 1.1 0 1 0 3.7 0a1.9 1.1 0 1 0 -3.7 0M1004.2 283.3a1.9 1.1 0 1 0 3.7 0a1.9 1.1 0 1 0 -3.7 0M994.5 288.9a1.9 1.1 0 1 0 3.7 0a1.9 1.1 0 1 0 -3.7 0M984.7 294.6a1.9 1.1 0 1 0 3.7 0a1.9 1.1 0 1 0 -3.7 0M974.9 300.2a1.9 1.1 0 1 0 3.7 0a1.9 1.1 0 1 0 -3.7 0M965.2 305.9a1.9 1.1 0 1 0 3.7 0a1.9 1.1 0 1 0 -3.7 0M955.4 311.5a1.9 1.1 0 1 0 3.7 0a1.9 1.1 0 1 0 -3.7 0M945.6 317.1a1.9 1.1 0 1 0 3.7 0a1.9 1.1 0 1 0 -3.7 0M935.9 322.8a1.9 1.1 0 1 0 3.7 0a1.9 1.1 0 1 0 -3.7 0M926.1 328.4a1.9 1.1 0 1 0 3.7 0a1.9 1.1 0 1 0 -3.7 0M916.3 334.1a1.9 1.1 0 1 0 3.7 0a1.9 1.1 0 1 0 -3.7 0M906.6 339.7a1.9 1.1 0 1 0 3.7 0a1.9 1.1 0 1 0 -3.7 0M1172.4 199.9a1.9 1.1 0 1 0 3.7 0a1.9 1.1 0 1 0 -3.7 0M1162.6 205.6a1.9 1.1 0 1 0 3.7 0a1.9 1.1 0 1 0 -3.7 0M1152.9 211.2a1.9 1.1 0 1 0 3.7 0a1.9 1.1 0 1 0 -3.7 0M1143.1 216.8a1.9 1.1 0 1 0 3.7 0a1.9 1.1 0 1 0 -3.7 0M1133.3 222.5a1.9 1.1 0 1 0 3.7 0a1.9 1.1 0 1 0 -3.7 0M1123.6 228.1a1.9 1.1 0 1 0 3.7 0a1.9 1.1 0 1 0 -3.7 0M1113.8 233.8a1.9 1.1 0 1 0 3.7 0a1.9 1.1 0 1 0 -3.7 0M1104.0 239.4a1.9 1.1 0 1 0 3.7 0a1.9 1.1 0 1 0 -3.7 0M1094.3 245.0a1.9 1.1 0 1 0 3.7 0a1.9 1.1 0 1 0 -3.7 0M1084.5 250.7a1.9 1.1 0 1 0 3.7 0a1.9 1.1 0 1 0 -3.7 0M1074.7 256.3a1.9 1.1 0 1 0 3.7 0a1.9 1.1 0 1 0 -3.7 0M1065.0 262.0a1.9 1.1 0 1 0 3.7 0a1.9 1.1 0 1 0 -3.7 0M1055.2 267.6a1.9 1.1 0 1 0 3.7 0a1.9 1.1 0 1 0 -3.7 0M1045.4 273.2a1.9 1.1 0 1 0 3.7 0a1.9 1.1 0 1 0 -3.7 0M1035.6 278.9a1.9 1.1 0 1 0 3.7 0a1.9 1.1 0 1 0 -3.7 0M1025.9 284.5a1.9 1.1 0 1 0 3.7 0a1.9 1.1 0 1 0 -3.7 0M1016.1 290.2a1.9 1.1 0 1 0 3.7 0a1.9 1.1 0 1 0 -3.7 0M1006.3 295.8a1.9 1.1 0 1 0 3.7 0a1.9 1.1 0 1 0 -3.7 0M996.6 301.4a1.9 1.1 0 1 0 3.7 0a1.9 1.1 0 1 0 -3.7 0M986.8 307.1a1.9 1.1 0 1 0 3.7 0a1.9 1.1 0 1 0 -3.7 0M977.0 312.7a1.9 1.1 0 1 0 3.7 0a1.9 1.1 0 1 0 -3.7 0M967.3 318.4a1.9 1.1 0 1 0 3.7 0a1.9 1.1 0 1 0 -3.7 0M957.5 324.0a1.9 1.1 0 1 0 3.7 0a1.9 1.1 0 1 0 -3.7 0M947.7 329.6a1.9 1.1 0 1 0 3.7 0a1.9 1.1 0 1 0 -3.7 0M938.0 335.3a1.9 1.1 0 1 0 3.7 0a1.9 1.1 0 1 0 -3.7 0M928.2 340.9a1.9 1.1 0 1 0 3.7 0a1.9 1.1 0 1 0 -3.7 0M918.4 346.6a1.9 1.1 0 1 0 3.7 0a1.9 1.1 0 1 0 -3.7 0M1173.5 206.2a1.9 1.1 0 1 0 3.7 0a1.9 1.1 0 1 0 -3.7 0M1163.7 211.8a1.9 1.1 0 1 0 3.7 0a1.9 1.1 0 1 0 -3.7 0M1153.9 217.4a1.9 1.1 0 1 0 3.7 0a1.9 1.1 0 1 0 -3.7 0M1144.1 223.1a1.9 1.1 0 1 0 3.7 0a1.9 1.1 0 1 0 -3.7 0M1134.4 228.7a1.9 1.1 0 1 0 3.7 0a1.9 1.1 0 1 0 -3.7 0M1124.6 234.4a1.9 1.1 0 1 0 3.7 0a1.9 1.1 0 1 0 -3.7 0M1114.8 240.0a1.9 1.1 0 1 0 3.7 0a1.9 1.1 0 1 0 -3.7 0M1105.1 245.6a1.9 1.1 0 1 0 3.7 0a1.9 1.1 0 1 0 -3.7 0M1095.3 251.3a1.9 1.1 0 1 0 3.7 0a1.9 1.1 0 1 0 -3.7 0M1085.5 256.9a1.9 1.1 0 1 0 3.7 0a1.9 1.1 0 1 0 -3.7 0M1075.8 262.6a1.9 1.1 0 1 0 3.7 0a1.9 1.1 0 1 0 -3.7 0M1066.0 268.2a1.9 1.1 0 1 0 3.7 0a1.9 1.1 0 1 0 -3.7 0M1056.2 273.8a1.9 1.1 0 1 0 3.7 0a1.9 1.1 0 1 0 -3.7 0M1046.5 279.5a1.9 1.1 0 1 0 3.7 0a1.9 1.1 0 1 0 -3.7 0M1036.7 285.1a1.9 1.1 0 1 0 3.7 0a1.9 1.1 0 1 0 -3.7 0M1026.9 290.8a1.9 1.1 0 1 0 3.7 0a1.9 1.1 0 1 0 -3.7 0M1017.2 296.4a1.9 1.1 0 1 0 3.7 0a1.9 1.1 0 1 0 -3.7 0M1007.4 302.0a1.9 1.1 0 1 0 3.7 0a1.9 1.1 0 1 0 -3.7 0M997.6 307.7a1.9 1.1 0 1 0 3.7 0a1.9 1.1 0 1 0 -3.7 0M987.8 313.3a1.9 1.1 0 1 0 3.7 0a1.9 1.1 0 1 0 -3.7 0M978.1 319.0a1.9 1.1 0 1 0 3.7 0a1.9 1.1 0 1 0 -3.7 0M968.3 324.6a1.9 1.1 0 1 0 3.7 0a1.9 1.1 0 1 0 -3.7 0M958.5 330.2a1.9 1.1 0 1 0 3.7 0a1.9 1.1 0 1 0 -3.7 0M948.8 335.9a1.9 1.1 0 1 0 3.7 0a1.9 1.1 0 1 0 -3.7 0M939.0 341.5a1.9 1.1 0 1 0 3.7 0a1.9 1.1 0 1 0 -3.7 0M929.2 347.2a1.9 1.1 0 1 0 3.7 0a1.9 1.1 0 1 0 -3.7 0M919.5 352.8a1.9 1.1 0 1 0 3.7 0a1.9 1.1 0 1 0 -3.7 0M1184.3 206.8a1.9 1.1 0 1 0 3.7 0a1.9 1.1 0 1 0 -3.7 0M1174.5 212.4a1.9 1.1 0 1 0 3.7 0a1.9 1.1 0 1 0 -3.7 0M1164.7 218.0a1.9 1.1 0 1 0 3.7 0a1.9 1.1 0 1 0 -3.7 0M1155.0 223.7a1.9 1.1 0 1 0 3.7 0a1.9 1.1 0 1 0 -3.7 0M1145.2 229.3a1.9 1.1 0 1 0 3.7 0a1.9 1.1 0 1 0 -3.7 0M1135.4 235.0a1.9 1.1 0 1 0 3.7 0a1.9 1.1 0 1 0 -3.7 0M1125.7 240.6a1.9 1.1 0 1 0 3.7 0a1.9 1.1 0 1 0 -3.7 0M1115.9 246.2a1.9 1.1 0 1 0 3.7 0a1.9 1.1 0 1 0 -3.7 0M1106.1 251.9a1.9 1.1 0 1 0 3.7 0a1.9 1.1 0 1 0 -3.7 0M1096.4 257.5a1.9 1.1 0 1 0 3.7 0a1.9 1.1 0 1 0 -3.7 0M1086.6 263.2a1.9 1.1 0 1 0 3.7 0a1.9 1.1 0 1 0 -3.7 0M1076.8 268.8a1.9 1.1 0 1 0 3.7 0a1.9 1.1 0 1 0 -3.7 0M1067.0 274.4a1.9 1.1 0 1 0 3.7 0a1.9 1.1 0 1 0 -3.7 0M1057.3 280.1a1.9 1.1 0 1 0 3.7 0a1.9 1.1 0 1 0 -3.7 0M1047.5 285.7a1.9 1.1 0 1 0 3.7 0a1.9 1.1 0 1 0 -3.7 0M1037.7 291.4a1.9 1.1 0 1 0 3.7 0a1.9 1.1 0 1 0 -3.7 0M1028.0 297.0a1.9 1.1 0 1 0 3.7 0a1.9 1.1 0 1 0 -3.7 0M1018.2 302.6a1.9 1.1 0 1 0 3.7 0a1.9 1.1 0 1 0 -3.7 0M1008.4 308.3a1.9 1.1 0 1 0 3.7 0a1.9 1.1 0 1 0 -3.7 0M998.7 313.9a1.9 1.1 0 1 0 3.7 0a1.9 1.1 0 1 0 -3.7 0M988.9 319.6a1.9 1.1 0 1 0 3.7 0a1.9 1.1 0 1 0 -3.7 0M979.1 325.2a1.9 1.1 0 1 0 3.7 0a1.9 1.1 0 1 0 -3.7 0M969.4 330.9a1.9 1.1 0 1 0 3.7 0a1.9 1.1 0 1 0 -3.7 0M959.6 336.5a1.9 1.1 0 1 0 3.7 0a1.9 1.1 0 1 0 -3.7 0M949.8 342.1a1.9 1.1 0 1 0 3.7 0a1.9 1.1 0 1 0 -3.7 0M940.1 347.8a1.9 1.1 0 1 0 3.7 0a1.9 1.1 0 1 0 -3.7 0M930.3 353.4a1.9 1.1 0 1 0 3.7 0a1.9 1.1 0 1 0 -3.7 0M1185.3 213.0a1.9 1.1 0 1 0 3.7 0a1.9 1.1 0 1 0 -3.7 0M1175.6 218.7a1.9 1.1 0 1 0 3.7 0a1.9 1.1 0 1 0 -3.7 0M1165.8 224.3a1.9 1.1 0 1 0 3.7 0a1.9 1.1 0 1 0 -3.7 0M1156.0 229.9a1.9 1.1 0 1 0 3.7 0a1.9 1.1 0 1 0 -3.7 0M1146.2 235.6a1.9 1.1 0 1 0 3.7 0a1.9 1.1 0 1 0 -3.7 0M1136.5 241.2a1.9 1.1 0 1 0 3.7 0a1.9 1.1 0 1 0 -3.7 0M1126.7 246.9a1.9 1.1 0 1 0 3.7 0a1.9 1.1 0 1 0 -3.7 0M1116.9 252.5a1.9 1.1 0 1 0 3.7 0a1.9 1.1 0 1 0 -3.7 0M1107.2 258.1a1.9 1.1 0 1 0 3.7 0a1.9 1.1 0 1 0 -3.7 0M1097.4 263.8a1.9 1.1 0 1 0 3.7 0a1.9 1.1 0 1 0 -3.7 0M1087.6 269.4a1.9 1.1 0 1 0 3.7 0a1.9 1.1 0 1 0 -3.7 0M1077.9 275.1a1.9 1.1 0 1 0 3.7 0a1.9 1.1 0 1 0 -3.7 0M1068.1 280.7a1.9 1.1 0 1 0 3.7 0a1.9 1.1 0 1 0 -3.7 0M1058.3 286.3a1.9 1.1 0 1 0 3.7 0a1.9 1.1 0 1 0 -3.7 0M1048.6 292.0a1.9 1.1 0 1 0 3.7 0a1.9 1.1 0 1 0 -3.7 0M1038.8 297.6a1.9 1.1 0 1 0 3.7 0a1.9 1.1 0 1 0 -3.7 0M1029.0 303.3a1.9 1.1 0 1 0 3.7 0a1.9 1.1 0 1 0 -3.7 0M1019.3 308.9a1.9 1.1 0 1 0 3.7 0a1.9 1.1 0 1 0 -3.7 0M1009.5 314.5a1.9 1.1 0 1 0 3.7 0a1.9 1.1 0 1 0 -3.7 0M999.7 320.2a1.9 1.1 0 1 0 3.7 0a1.9 1.1 0 1 0 -3.7 0M989.9 325.8a1.9 1.1 0 1 0 3.7 0a1.9 1.1 0 1 0 -3.7 0M980.2 331.5a1.9 1.1 0 1 0 3.7 0a1.9 1.1 0 1 0 -3.7 0M970.4 337.1a1.9 1.1 0 1 0 3.7 0a1.9 1.1 0 1 0 -3.7 0M960.6 342.7a1.9 1.1 0 1 0 3.7 0a1.9 1.1 0 1 0 -3.7 0M950.9 348.4a1.9 1.1 0 1 0 3.7 0a1.9 1.1 0 1 0 -3.7 0M941.1 354.0a1.9 1.1 0 1 0 3.7 0a1.9 1.1 0 1 0 -3.7 0M931.3 359.7a1.9 1.1 0 1 0 3.7 0a1.9 1.1 0 1 0 -3.7 0M1192.6 217.2a1.9 1.1 0 1 0 3.7 0a1.9 1.1 0 1 0 -3.7 0M1182.8 222.8a1.9 1.1 0 1 0 3.7 0a1.9 1.1 0 1 0 -3.7 0M1173.0 228.5a1.9 1.1 0 1 0 3.7 0a1.9 1.1 0 1 0 -3.7 0M1163.2 234.1a1.9 1.1 0 1 0 3.7 0a1.9 1.1 0 1 0 -3.7 0M1153.5 239.8a1.9 1.1 0 1 0 3.7 0a1.9 1.1 0 1 0 -3.7 0M1143.7 245.4a1.9 1.1 0 1 0 3.7 0a1.9 1.1 0 1 0 -3.7 0M1133.9 251.0a1.9 1.1 0 1 0 3.7 0a1.9 1.1 0 1 0 -3.7 0M1124.2 256.7a1.9 1.1 0 1 0 3.7 0a1.9 1.1 0 1 0 -3.7 0M1114.4 262.3a1.9 1.1 0 1 0 3.7 0a1.9 1.1 0 1 0 -3.7 0M1104.6 267.9a1.9 1.1 0 1 0 3.7 0a1.9 1.1 0 1 0 -3.7 0M1094.9 273.6a1.9 1.1 0 1 0 3.7 0a1.9 1.1 0 1 0 -3.7 0M1085.1 279.2a1.9 1.1 0 1 0 3.7 0a1.9 1.1 0 1 0 -3.7 0M1075.3 284.9a1.9 1.1 0 1 0 3.7 0a1.9 1.1 0 1 0 -3.7 0M1065.6 290.5a1.9 1.1 0 1 0 3.7 0a1.9 1.1 0 1 0 -3.7 0M1055.8 296.1a1.9 1.1 0 1 0 3.7 0a1.9 1.1 0 1 0 -3.7 0M1046.0 301.8a1.9 1.1 0 1 0 3.7 0a1.9 1.1 0 1 0 -3.7 0M1036.3 307.4a1.9 1.1 0 1 0 3.7 0a1.9 1.1 0 1 0 -3.7 0M1026.5 313.1a1.9 1.1 0 1 0 3.7 0a1.9 1.1 0 1 0 -3.7 0M1016.7 318.7a1.9 1.1 0 1 0 3.7 0a1.9 1.1 0 1 0 -3.7 0M1006.9 324.3a1.9 1.1 0 1 0 3.7 0a1.9 1.1 0 1 0 -3.7 0M997.2 330.0a1.9 1.1 0 1 0 3.7 0a1.9 1.1 0 1 0 -3.7 0M987.4 335.6a1.9 1.1 0 1 0 3.7 0a1.9 1.1 0 1 0 -3.7 0M977.6 341.3a1.9 1.1 0 1 0 3.7 0a1.9 1.1 0 1 0 -3.7 0M967.9 346.9a1.9 1.1 0 1 0 3.7 0a1.9 1.1 0 1 0 -3.7 0M958.1 352.5a1.9 1.1 0 1 0 3.7 0a1.9 1.1 0 1 0 -3.7 0M948.3 358.2a1.9 1.1 0 1 0 3.7 0a1.9 1.1 0 1 0 -3.7 0M938.6 363.8a1.9 1.1 0 1 0 3.7 0a1.9 1.1 0 1 0 -3.7 0M1203.4 217.8a1.9 1.1 0 1 0 3.7 0a1.9 1.1 0 1 0 -3.7 0M1193.6 223.4a1.9 1.1 0 1 0 3.7 0a1.9 1.1 0 1 0 -3.7 0M1183.8 229.1a1.9 1.1 0 1 0 3.7 0a1.9 1.1 0 1 0 -3.7 0M1174.1 234.7a1.9 1.1 0 1 0 3.7 0a1.9 1.1 0 1 0 -3.7 0M1164.3 240.4a1.9 1.1 0 1 0 3.7 0a1.9 1.1 0 1 0 -3.7 0M1154.5 246.0a1.9 1.1 0 1 0 3.7 0a1.9 1.1 0 1 0 -3.7 0M1144.8 251.6a1.9 1.1 0 1 0 3.7 0a1.9 1.1 0 1 0 -3.7 0M1135.0 257.3a1.9 1.1 0 1 0 3.7 0a1.9 1.1 0 1 0 -3.7 0M1125.2 262.9a1.9 1.1 0 1 0 3.7 0a1.9 1.1 0 1 0 -3.7 0M1115.4 268.6a1.9 1.1 0 1 0 3.7 0a1.9 1.1 0 1 0 -3.7 0M1105.7 274.2a1.9 1.1 0 1 0 3.7 0a1.9 1.1 0 1 0 -3.7 0M1095.9 279.8a1.9 1.1 0 1 0 3.7 0a1.9 1.1 0 1 0 -3.7 0M1086.1 285.5a1.9 1.1 0 1 0 3.7 0a1.9 1.1 0 1 0 -3.7 0M1076.4 291.1a1.9 1.1 0 1 0 3.7 0a1.9 1.1 0 1 0 -3.7 0M1066.6 296.8a1.9 1.1 0 1 0 3.7 0a1.9 1.1 0 1 0 -3.7 0M1056.8 302.4a1.9 1.1 0 1 0 3.7 0a1.9 1.1 0 1 0 -3.7 0M1047.1 308.0a1.9 1.1 0 1 0 3.7 0a1.9 1.1 0 1 0 -3.7 0M1037.3 313.7a1.9 1.1 0 1 0 3.7 0a1.9 1.1 0 1 0 -3.7 0M1027.5 319.3a1.9 1.1 0 1 0 3.7 0a1.9 1.1 0 1 0 -3.7 0M1017.8 325.0a1.9 1.1 0 1 0 3.7 0a1.9 1.1 0 1 0 -3.7 0M1008.0 330.6a1.9 1.1 0 1 0 3.7 0a1.9 1.1 0 1 0 -3.7 0M998.2 336.2a1.9 1.1 0 1 0 3.7 0a1.9 1.1 0 1 0 -3.7 0M988.5 341.9a1.9 1.1 0 1 0 3.7 0a1.9 1.1 0 1 0 -3.7 0M978.7 347.5a1.9 1.1 0 1 0 3.7 0a1.9 1.1 0 1 0 -3.7 0M968.9 353.2a1.9 1.1 0 1 0 3.7 0a1.9 1.1 0 1 0 -3.7 0M959.1 358.8a1.9 1.1 0 1 0 3.7 0a1.9 1.1 0 1 0 -3.7 0M949.4 364.4a1.9 1.1 0 1 0 3.7 0a1.9 1.1 0 1 0 -3.7 0M1215.2 224.6a1.9 1.1 0 1 0 3.7 0a1.9 1.1 0 1 0 -3.7 0M1205.5 230.3a1.9 1.1 0 1 0 3.7 0a1.9 1.1 0 1 0 -3.7 0M1195.7 235.9a1.9 1.1 0 1 0 3.7 0a1.9 1.1 0 1 0 -3.7 0M1185.9 241.6a1.9 1.1 0 1 0 3.7 0a1.9 1.1 0 1 0 -3.7 0M1176.2 247.2a1.9 1.1 0 1 0 3.7 0a1.9 1.1 0 1 0 -3.7 0M1166.4 252.8a1.9 1.1 0 1 0 3.7 0a1.9 1.1 0 1 0 -3.7 0M1156.6 258.5a1.9 1.1 0 1 0 3.7 0a1.9 1.1 0 1 0 -3.7 0M1146.9 264.1a1.9 1.1 0 1 0 3.7 0a1.9 1.1 0 1 0 -3.7 0M1137.1 269.8a1.9 1.1 0 1 0 3.7 0a1.9 1.1 0 1 0 -3.7 0M1127.3 275.4a1.9 1.1 0 1 0 3.7 0a1.9 1.1 0 1 0 -3.7 0M1117.5 281.0a1.9 1.1 0 1 0 3.7 0a1.9 1.1 0 1 0 -3.7 0M1107.8 286.7a1.9 1.1 0 1 0 3.7 0a1.9 1.1 0 1 0 -3.7 0M1098.0 292.3a1.9 1.1 0 1 0 3.7 0a1.9 1.1 0 1 0 -3.7 0M1088.2 298.0a1.9 1.1 0 1 0 3.7 0a1.9 1.1 0 1 0 -3.7 0M1078.5 303.6a1.9 1.1 0 1 0 3.7 0a1.9 1.1 0 1 0 -3.7 0M1068.7 309.2a1.9 1.1 0 1 0 3.7 0a1.9 1.1 0 1 0 -3.7 0M1058.9 314.9a1.9 1.1 0 1 0 3.7 0a1.9 1.1 0 1 0 -3.7 0M1049.2 320.5a1.9 1.1 0 1 0 3.7 0a1.9 1.1 0 1 0 -3.7 0M1039.4 326.2a1.9 1.1 0 1 0 3.7 0a1.9 1.1 0 1 0 -3.7 0M1029.6 331.8a1.9 1.1 0 1 0 3.7 0a1.9 1.1 0 1 0 -3.7 0M1019.9 337.4a1.9 1.1 0 1 0 3.7 0a1.9 1.1 0 1 0 -3.7 0M1010.1 343.1a1.9 1.1 0 1 0 3.7 0a1.9 1.1 0 1 0 -3.7 0M1000.3 348.7a1.9 1.1 0 1 0 3.7 0a1.9 1.1 0 1 0 -3.7 0M990.6 354.4a1.9 1.1 0 1 0 3.7 0a1.9 1.1 0 1 0 -3.7 0M980.8 360.0a1.9 1.1 0 1 0 3.7 0a1.9 1.1 0 1 0 -3.7 0M971.0 365.6a1.9 1.1 0 1 0 3.7 0a1.9 1.1 0 1 0 -3.7 0M961.2 371.3a1.9 1.1 0 1 0 3.7 0a1.9 1.1 0 1 0 -3.7 0M1216.3 230.9a1.9 1.1 0 1 0 3.7 0a1.9 1.1 0 1 0 -3.7 0M1206.5 236.5a1.9 1.1 0 1 0 3.7 0a1.9 1.1 0 1 0 -3.7 0M1196.7 242.2a1.9 1.1 0 1 0 3.7 0a1.9 1.1 0 1 0 -3.7 0M1187.0 247.8a1.9 1.1 0 1 0 3.7 0a1.9 1.1 0 1 0 -3.7 0M1177.2 253.4a1.9 1.1 0 1 0 3.7 0a1.9 1.1 0 1 0 -3.7 0M1167.4 259.1a1.9 1.1 0 1 0 3.7 0a1.9 1.1 0 1 0 -3.7 0M1157.7 264.7a1.9 1.1 0 1 0 3.7 0a1.9 1.1 0 1 0 -3.7 0M1147.9 270.4a1.9 1.1 0 1 0 3.7 0a1.9 1.1 0 1 0 -3.7 0M1138.1 276.0a1.9 1.1 0 1 0 3.7 0a1.9 1.1 0 1 0 -3.7 0M1128.4 281.6a1.9 1.1 0 1 0 3.7 0a1.9 1.1 0 1 0 -3.7 0M1118.6 287.3a1.9 1.1 0 1 0 3.7 0a1.9 1.1 0 1 0 -3.7 0M1108.8 292.9a1.9 1.1 0 1 0 3.7 0a1.9 1.1 0 1 0 -3.7 0M1099.1 298.6a1.9 1.1 0 1 0 3.7 0a1.9 1.1 0 1 0 -3.7 0M1089.3 304.2a1.9 1.1 0 1 0 3.7 0a1.9 1.1 0 1 0 -3.7 0M1079.5 309.8a1.9 1.1 0 1 0 3.7 0a1.9 1.1 0 1 0 -3.7 0M1069.7 315.5a1.9 1.1 0 1 0 3.7 0a1.9 1.1 0 1 0 -3.7 0M1060.0 321.1a1.9 1.1 0 1 0 3.7 0a1.9 1.1 0 1 0 -3.7 0M1050.2 326.8a1.9 1.1 0 1 0 3.7 0a1.9 1.1 0 1 0 -3.7 0M1040.4 332.4a1.9 1.1 0 1 0 3.7 0a1.9 1.1 0 1 0 -3.7 0M1030.7 338.0a1.9 1.1 0 1 0 3.7 0a1.9 1.1 0 1 0 -3.7 0M1020.9 343.7a1.9 1.1 0 1 0 3.7 0a1.9 1.1 0 1 0 -3.7 0M1011.1 349.3a1.9 1.1 0 1 0 3.7 0a1.9 1.1 0 1 0 -3.7 0M1001.4 355.0a1.9 1.1 0 1 0 3.7 0a1.9 1.1 0 1 0 -3.7 0M991.6 360.6a1.9 1.1 0 1 0 3.7 0a1.9 1.1 0 1 0 -3.7 0M981.8 366.2a1.9 1.1 0 1 0 3.7 0a1.9 1.1 0 1 0 -3.7 0M972.1 371.9a1.9 1.1 0 1 0 3.7 0a1.9 1.1 0 1 0 -3.7 0M962.3 377.5a1.9 1.1 0 1 0 3.7 0a1.9 1.1 0 1 0 -3.7 0M1227.1 231.5a1.9 1.1 0 1 0 3.7 0a1.9 1.1 0 1 0 -3.7 0M1217.3 237.1a1.9 1.1 0 1 0 3.7 0a1.9 1.1 0 1 0 -3.7 0M1207.6 242.8a1.9 1.1 0 1 0 3.7 0a1.9 1.1 0 1 0 -3.7 0M1197.8 248.4a1.9 1.1 0 1 0 3.7 0a1.9 1.1 0 1 0 -3.7 0M1188.0 254.1a1.9 1.1 0 1 0 3.7 0a1.9 1.1 0 1 0 -3.7 0M1178.3 259.7a1.9 1.1 0 1 0 3.7 0a1.9 1.1 0 1 0 -3.7 0M1168.5 265.3a1.9 1.1 0 1 0 3.7 0a1.9 1.1 0 1 0 -3.7 0M1158.7 271.0a1.9 1.1 0 1 0 3.7 0a1.9 1.1 0 1 0 -3.7 0M1148.9 276.6a1.9 1.1 0 1 0 3.7 0a1.9 1.1 0 1 0 -3.7 0M1139.2 282.3a1.9 1.1 0 1 0 3.7 0a1.9 1.1 0 1 0 -3.7 0M1129.4 287.9a1.9 1.1 0 1 0 3.7 0a1.9 1.1 0 1 0 -3.7 0M1119.6 293.5a1.9 1.1 0 1 0 3.7 0a1.9 1.1 0 1 0 -3.7 0M1109.9 299.2a1.9 1.1 0 1 0 3.7 0a1.9 1.1 0 1 0 -3.7 0M1100.1 304.8a1.9 1.1 0 1 0 3.7 0a1.9 1.1 0 1 0 -3.7 0M1090.3 310.5a1.9 1.1 0 1 0 3.7 0a1.9 1.1 0 1 0 -3.7 0M1080.6 316.1a1.9 1.1 0 1 0 3.7 0a1.9 1.1 0 1 0 -3.7 0M1070.8 321.7a1.9 1.1 0 1 0 3.7 0a1.9 1.1 0 1 0 -3.7 0M1061.0 327.4a1.9 1.1 0 1 0 3.7 0a1.9 1.1 0 1 0 -3.7 0M1051.3 333.0a1.9 1.1 0 1 0 3.7 0a1.9 1.1 0 1 0 -3.7 0M1041.5 338.7a1.9 1.1 0 1 0 3.7 0a1.9 1.1 0 1 0 -3.7 0M1031.7 344.3a1.9 1.1 0 1 0 3.7 0a1.9 1.1 0 1 0 -3.7 0M1022.0 349.9a1.9 1.1 0 1 0 3.7 0a1.9 1.1 0 1 0 -3.7 0M1012.2 355.6a1.9 1.1 0 1 0 3.7 0a1.9 1.1 0 1 0 -3.7 0M1002.4 361.2a1.9 1.1 0 1 0 3.7 0a1.9 1.1 0 1 0 -3.7 0M992.6 366.9a1.9 1.1 0 1 0 3.7 0a1.9 1.1 0 1 0 -3.7 0M982.9 372.5a1.9 1.1 0 1 0 3.7 0a1.9 1.1 0 1 0 -3.7 0M973.1 378.1a1.9 1.1 0 1 0 3.7 0a1.9 1.1 0 1 0 -3.7 0M1228.1 237.7a1.9 1.1 0 1 0 3.7 0a1.9 1.1 0 1 0 -3.7 0M1218.4 243.4a1.9 1.1 0 1 0 3.7 0a1.9 1.1 0 1 0 -3.7 0M1208.6 249.0a1.9 1.1 0 1 0 3.7 0a1.9 1.1 0 1 0 -3.7 0M1198.8 254.7a1.9 1.1 0 1 0 3.7 0a1.9 1.1 0 1 0 -3.7 0M1189.1 260.3a1.9 1.1 0 1 0 3.7 0a1.9 1.1 0 1 0 -3.7 0M1179.3 265.9a1.9 1.1 0 1 0 3.7 0a1.9 1.1 0 1 0 -3.7 0M1169.5 271.6a1.9 1.1 0 1 0 3.7 0a1.9 1.1 0 1 0 -3.7 0M1159.8 277.2a1.9 1.1 0 1 0 3.7 0a1.9 1.1 0 1 0 -3.7 0M1150.0 282.9a1.9 1.1 0 1 0 3.7 0a1.9 1.1 0 1 0 -3.7 0M1140.2 288.5a1.9 1.1 0 1 0 3.7 0a1.9 1.1 0 1 0 -3.7 0M1130.5 294.1a1.9 1.1 0 1 0 3.7 0a1.9 1.1 0 1 0 -3.7 0M1120.7 299.8a1.9 1.1 0 1 0 3.7 0a1.9 1.1 0 1 0 -3.7 0M1110.9 305.4a1.9 1.1 0 1 0 3.7 0a1.9 1.1 0 1 0 -3.7 0M1101.2 311.1a1.9 1.1 0 1 0 3.7 0a1.9 1.1 0 1 0 -3.7 0M1091.4 316.7a1.9 1.1 0 1 0 3.7 0a1.9 1.1 0 1 0 -3.7 0M1081.6 322.3a1.9 1.1 0 1 0 3.7 0a1.9 1.1 0 1 0 -3.7 0M1071.8 328.0a1.9 1.1 0 1 0 3.7 0a1.9 1.1 0 1 0 -3.7 0M1062.1 333.6a1.9 1.1 0 1 0 3.7 0a1.9 1.1 0 1 0 -3.7 0M1052.3 339.3a1.9 1.1 0 1 0 3.7 0a1.9 1.1 0 1 0 -3.7 0M1042.5 344.9a1.9 1.1 0 1 0 3.7 0a1.9 1.1 0 1 0 -3.7 0M1032.8 350.5a1.9 1.1 0 1 0 3.7 0a1.9 1.1 0 1 0 -3.7 0M1023.0 356.2a1.9 1.1 0 1 0 3.7 0a1.9 1.1 0 1 0 -3.7 0M1013.2 361.8a1.9 1.1 0 1 0 3.7 0a1.9 1.1 0 1 0 -3.7 0M1003.5 367.5a1.9 1.1 0 1 0 3.7 0a1.9 1.1 0 1 0 -3.7 0M993.7 373.1a1.9 1.1 0 1 0 3.7 0a1.9 1.1 0 1 0 -3.7 0M983.9 378.7a1.9 1.1 0 1 0 3.7 0a1.9 1.1 0 1 0 -3.7 0M974.2 384.4a1.9 1.1 0 1 0 3.7 0a1.9 1.1 0 1 0 -3.7 0M1235.4 241.9a1.9 1.1 0 1 0 3.7 0a1.9 1.1 0 1 0 -3.7 0M1225.6 247.6a1.9 1.1 0 1 0 3.7 0a1.9 1.1 0 1 0 -3.7 0M1215.8 253.2a1.9 1.1 0 1 0 3.7 0a1.9 1.1 0 1 0 -3.7 0M1206.1 258.8a1.9 1.1 0 1 0 3.7 0a1.9 1.1 0 1 0 -3.7 0M1196.3 264.5a1.9 1.1 0 1 0 3.7 0a1.9 1.1 0 1 0 -3.7 0M1186.5 270.1a1.9 1.1 0 1 0 3.7 0a1.9 1.1 0 1 0 -3.7 0M1176.8 275.8a1.9 1.1 0 1 0 3.7 0a1.9 1.1 0 1 0 -3.7 0M1167.0 281.4a1.9 1.1 0 1 0 3.7 0a1.9 1.1 0 1 0 -3.7 0M1157.2 287.0a1.9 1.1 0 1 0 3.7 0a1.9 1.1 0 1 0 -3.7 0M1147.5 292.7a1.9 1.1 0 1 0 3.7 0a1.9 1.1 0 1 0 -3.7 0M1137.7 298.3a1.9 1.1 0 1 0 3.7 0a1.9 1.1 0 1 0 -3.7 0M1127.9 304.0a1.9 1.1 0 1 0 3.7 0a1.9 1.1 0 1 0 -3.7 0M1118.2 309.6a1.9 1.1 0 1 0 3.7 0a1.9 1.1 0 1 0 -3.7 0M1108.4 315.2a1.9 1.1 0 1 0 3.7 0a1.9 1.1 0 1 0 -3.7 0M1098.6 320.9a1.9 1.1 0 1 0 3.7 0a1.9 1.1 0 1 0 -3.7 0M1088.8 326.5a1.9 1.1 0 1 0 3.7 0a1.9 1.1 0 1 0 -3.7 0M1079.1 332.2a1.9 1.1 0 1 0 3.7 0a1.9 1.1 0 1 0 -3.7 0M1069.3 337.8a1.9 1.1 0 1 0 3.7 0a1.9 1.1 0 1 0 -3.7 0M1059.5 343.4a1.9 1.1 0 1 0 3.7 0a1.9 1.1 0 1 0 -3.7 0M1049.8 349.1a1.9 1.1 0 1 0 3.7 0a1.9 1.1 0 1 0 -3.7 0M1040.0 354.7a1.9 1.1 0 1 0 3.7 0a1.9 1.1 0 1 0 -3.7 0M1030.2 360.4a1.9 1.1 0 1 0 3.7 0a1.9 1.1 0 1 0 -3.7 0M1020.5 366.0a1.9 1.1 0 1 0 3.7 0a1.9 1.1 0 1 0 -3.7 0M1010.7 371.6a1.9 1.1 0 1 0 3.7 0a1.9 1.1 0 1 0 -3.7 0M1000.9 377.3a1.9 1.1 0 1 0 3.7 0a1.9 1.1 0 1 0 -3.7 0M991.2 382.9a1.9 1.1 0 1 0 3.7 0a1.9 1.1 0 1 0 -3.7 0M981.4 388.6a1.9 1.1 0 1 0 3.7 0a1.9 1.1 0 1 0 -3.7 0M1246.2 242.5a1.9 1.1 0 1 0 3.7 0a1.9 1.1 0 1 0 -3.7 0M1236.4 248.2a1.9 1.1 0 1 0 3.7 0a1.9 1.1 0 1 0 -3.7 0M1226.7 253.8a1.9 1.1 0 1 0 3.7 0a1.9 1.1 0 1 0 -3.7 0M1216.9 259.4a1.9 1.1 0 1 0 3.7 0a1.9 1.1 0 1 0 -3.7 0M1207.1 265.1a1.9 1.1 0 1 0 3.7 0a1.9 1.1 0 1 0 -3.7 0M1197.3 270.7a1.9 1.1 0 1 0 3.7 0a1.9 1.1 0 1 0 -3.7 0M1187.6 276.4a1.9 1.1 0 1 0 3.7 0a1.9 1.1 0 1 0 -3.7 0M1177.8 282.0a1.9 1.1 0 1 0 3.7 0a1.9 1.1 0 1 0 -3.7 0M1168.0 287.6a1.9 1.1 0 1 0 3.7 0a1.9 1.1 0 1 0 -3.7 0M1158.3 293.3a1.9 1.1 0 1 0 3.7 0a1.9 1.1 0 1 0 -3.7 0M1148.5 298.9a1.9 1.1 0 1 0 3.7 0a1.9 1.1 0 1 0 -3.7 0M1138.7 304.6a1.9 1.1 0 1 0 3.7 0a1.9 1.1 0 1 0 -3.7 0M1129.0 310.2a1.9 1.1 0 1 0 3.7 0a1.9 1.1 0 1 0 -3.7 0M1119.2 315.8a1.9 1.1 0 1 0 3.7 0a1.9 1.1 0 1 0 -3.7 0M1109.4 321.5a1.9 1.1 0 1 0 3.7 0a1.9 1.1 0 1 0 -3.7 0M1099.7 327.1a1.9 1.1 0 1 0 3.7 0a1.9 1.1 0 1 0 -3.7 0M1089.9 332.8a1.9 1.1 0 1 0 3.7 0a1.9 1.1 0 1 0 -3.7 0M1080.1 338.4a1.9 1.1 0 1 0 3.7 0a1.9 1.1 0 1 0 -3.7 0M1070.4 344.0a1.9 1.1 0 1 0 3.7 0a1.9 1.1 0 1 0 -3.7 0M1060.6 349.7a1.9 1.1 0 1 0 3.7 0a1.9 1.1 0 1 0 -3.7 0M1050.8 355.3a1.9 1.1 0 1 0 3.7 0a1.9 1.1 0 1 0 -3.7 0M1041.0 361.0a1.9 1.1 0 1 0 3.7 0a1.9 1.1 0 1 0 -3.7 0M1031.3 366.6a1.9 1.1 0 1 0 3.7 0a1.9 1.1 0 1 0 -3.7 0M1021.5 372.2a1.9 1.1 0 1 0 3.7 0a1.9 1.1 0 1 0 -3.7 0M1011.7 377.9a1.9 1.1 0 1 0 3.7 0a1.9 1.1 0 1 0 -3.7 0M1002.0 383.5a1.9 1.1 0 1 0 3.7 0a1.9 1.1 0 1 0 -3.7 0M992.2 389.2a1.9 1.1 0 1 0 3.7 0a1.9 1.1 0 1 0 -3.7 0M1258.1 249.4a1.9 1.1 0 1 0 3.7 0a1.9 1.1 0 1 0 -3.7 0M1248.3 255.0a1.9 1.1 0 1 0 3.7 0a1.9 1.1 0 1 0 -3.7 0M1238.5 260.6a1.9 1.1 0 1 0 3.7 0a1.9 1.1 0 1 0 -3.7 0M1228.8 266.3a1.9 1.1 0 1 0 3.7 0a1.9 1.1 0 1 0 -3.7 0M1219.0 271.9a1.9 1.1 0 1 0 3.7 0a1.9 1.1 0 1 0 -3.7 0M1209.2 277.6a1.9 1.1 0 1 0 3.7 0a1.9 1.1 0 1 0 -3.7 0M1199.4 283.2a1.9 1.1 0 1 0 3.7 0a1.9 1.1 0 1 0 -3.7 0M1189.7 288.9a1.9 1.1 0 1 0 3.7 0a1.9 1.1 0 1 0 -3.7 0M1179.9 294.5a1.9 1.1 0 1 0 3.7 0a1.9 1.1 0 1 0 -3.7 0M1170.1 300.1a1.9 1.1 0 1 0 3.7 0a1.9 1.1 0 1 0 -3.7 0M1160.4 305.8a1.9 1.1 0 1 0 3.7 0a1.9 1.1 0 1 0 -3.7 0M1150.6 311.4a1.9 1.1 0 1 0 3.7 0a1.9 1.1 0 1 0 -3.7 0M1140.8 317.0a1.9 1.1 0 1 0 3.7 0a1.9 1.1 0 1 0 -3.7 0M1131.1 322.7a1.9 1.1 0 1 0 3.7 0a1.9 1.1 0 1 0 -3.7 0M1121.3 328.3a1.9 1.1 0 1 0 3.7 0a1.9 1.1 0 1 0 -3.7 0M1111.5 334.0a1.9 1.1 0 1 0 3.7 0a1.9 1.1 0 1 0 -3.7 0M1101.8 339.6a1.9 1.1 0 1 0 3.7 0a1.9 1.1 0 1 0 -3.7 0M1092.0 345.2a1.9 1.1 0 1 0 3.7 0a1.9 1.1 0 1 0 -3.7 0M1082.2 350.9a1.9 1.1 0 1 0 3.7 0a1.9 1.1 0 1 0 -3.7 0M1072.5 356.5a1.9 1.1 0 1 0 3.7 0a1.9 1.1 0 1 0 -3.7 0M1062.7 362.2a1.9 1.1 0 1 0 3.7 0a1.9 1.1 0 1 0 -3.7 0M1052.9 367.8a1.9 1.1 0 1 0 3.7 0a1.9 1.1 0 1 0 -3.7 0M1043.1 373.4a1.9 1.1 0 1 0 3.7 0a1.9 1.1 0 1 0 -3.7 0M1033.4 379.1a1.9 1.1 0 1 0 3.7 0a1.9 1.1 0 1 0 -3.7 0M1023.6 384.7a1.9 1.1 0 1 0 3.7 0a1.9 1.1 0 1 0 -3.7 0M1013.8 390.4a1.9 1.1 0 1 0 3.7 0a1.9 1.1 0 1 0 -3.7 0M1004.1 396.0a1.9 1.1 0 1 0 3.7 0a1.9 1.1 0 1 0 -3.7 0M1259.1 255.6a1.9 1.1 0 1 0 3.7 0a1.9 1.1 0 1 0 -3.7 0M1249.3 261.3a1.9 1.1 0 1 0 3.7 0a1.9 1.1 0 1 0 -3.7 0M1239.6 266.9a1.9 1.1 0 1 0 3.7 0a1.9 1.1 0 1 0 -3.7 0M1229.8 272.5a1.9 1.1 0 1 0 3.7 0a1.9 1.1 0 1 0 -3.7 0M1220.0 278.2a1.9 1.1 0 1 0 3.7 0a1.9 1.1 0 1 0 -3.7 0M1210.3 283.8a1.9 1.1 0 1 0 3.7 0a1.9 1.1 0 1 0 -3.7 0M1200.5 289.5a1.9 1.1 0 1 0 3.7 0a1.9 1.1 0 1 0 -3.7 0M1190.7 295.1a1.9 1.1 0 1 0 3.7 0a1.9 1.1 0 1 0 -3.7 0M1181.0 300.7a1.9 1.1 0 1 0 3.7 0a1.9 1.1 0 1 0 -3.7 0M1171.2 306.4a1.9 1.1 0 1 0 3.7 0a1.9 1.1 0 1 0 -3.7 0M1161.4 312.0a1.9 1.1 0 1 0 3.7 0a1.9 1.1 0 1 0 -3.7 0M1151.6 317.7a1.9 1.1 0 1 0 3.7 0a1.9 1.1 0 1 0 -3.7 0M1141.9 323.3a1.9 1.1 0 1 0 3.7 0a1.9 1.1 0 1 0 -3.7 0M1132.1 328.9a1.9 1.1 0 1 0 3.7 0a1.9 1.1 0 1 0 -3.7 0M1122.3 334.6a1.9 1.1 0 1 0 3.7 0a1.9 1.1 0 1 0 -3.7 0M1112.6 340.2a1.9 1.1 0 1 0 3.7 0a1.9 1.1 0 1 0 -3.7 0M1102.8 345.9a1.9 1.1 0 1 0 3.7 0a1.9 1.1 0 1 0 -3.7 0M1093.0 351.5a1.9 1.1 0 1 0 3.7 0a1.9 1.1 0 1 0 -3.7 0M1083.3 357.1a1.9 1.1 0 1 0 3.7 0a1.9 1.1 0 1 0 -3.7 0M1073.5 362.8a1.9 1.1 0 1 0 3.7 0a1.9 1.1 0 1 0 -3.7 0M1063.7 368.4a1.9 1.1 0 1 0 3.7 0a1.9 1.1 0 1 0 -3.7 0M1054.0 374.1a1.9 1.1 0 1 0 3.7 0a1.9 1.1 0 1 0 -3.7 0M1044.2 379.7a1.9 1.1 0 1 0 3.7 0a1.9 1.1 0 1 0 -3.7 0M1034.4 385.3a1.9 1.1 0 1 0 3.7 0a1.9 1.1 0 1 0 -3.7 0M1024.7 391.0a1.9 1.1 0 1 0 3.7 0a1.9 1.1 0 1 0 -3.7 0M1014.9 396.6a1.9 1.1 0 1 0 3.7 0a1.9 1.1 0 1 0 -3.7 0M1005.1 402.3a1.9 1.1 0 1 0 3.7 0a1.9 1.1 0 1 0 -3.7 0M1269.9 256.2a1.9 1.1 0 1 0 3.7 0a1.9 1.1 0 1 0 -3.7 0M1260.2 261.9a1.9 1.1 0 1 0 3.7 0a1.9 1.1 0 1 0 -3.7 0M1250.4 267.5a1.9 1.1 0 1 0 3.7 0a1.9 1.1 0 1 0 -3.7 0M1240.6 273.1a1.9 1.1 0 1 0 3.7 0a1.9 1.1 0 1 0 -3.7 0M1230.8 278.8a1.9 1.1 0 1 0 3.7 0a1.9 1.1 0 1 0 -3.7 0M1221.1 284.4a1.9 1.1 0 1 0 3.7 0a1.9 1.1 0 1 0 -3.7 0M1211.3 290.1a1.9 1.1 0 1 0 3.7 0a1.9 1.1 0 1 0 -3.7 0M1201.5 295.7a1.9 1.1 0 1 0 3.7 0a1.9 1.1 0 1 0 -3.7 0M1191.8 301.3a1.9 1.1 0 1 0 3.7 0a1.9 1.1 0 1 0 -3.7 0M1182.0 307.0a1.9 1.1 0 1 0 3.7 0a1.9 1.1 0 1 0 -3.7 0M1172.2 312.6a1.9 1.1 0 1 0 3.7 0a1.9 1.1 0 1 0 -3.7 0M1162.5 318.3a1.9 1.1 0 1 0 3.7 0a1.9 1.1 0 1 0 -3.7 0M1152.7 323.9a1.9 1.1 0 1 0 3.7 0a1.9 1.1 0 1 0 -3.7 0M1142.9 329.5a1.9 1.1 0 1 0 3.7 0a1.9 1.1 0 1 0 -3.7 0M1133.2 335.2a1.9 1.1 0 1 0 3.7 0a1.9 1.1 0 1 0 -3.7 0M1123.4 340.8a1.9 1.1 0 1 0 3.7 0a1.9 1.1 0 1 0 -3.7 0M1113.6 346.5a1.9 1.1 0 1 0 3.7 0a1.9 1.1 0 1 0 -3.7 0M1103.9 352.1a1.9 1.1 0 1 0 3.7 0a1.9 1.1 0 1 0 -3.7 0M1094.1 357.7a1.9 1.1 0 1 0 3.7 0a1.9 1.1 0 1 0 -3.7 0M1084.3 363.4a1.9 1.1 0 1 0 3.7 0a1.9 1.1 0 1 0 -3.7 0M1074.5 369.0a1.9 1.1 0 1 0 3.7 0a1.9 1.1 0 1 0 -3.7 0M1064.8 374.7a1.9 1.1 0 1 0 3.7 0a1.9 1.1 0 1 0 -3.7 0M1055.0 380.3a1.9 1.1 0 1 0 3.7 0a1.9 1.1 0 1 0 -3.7 0M1045.2 385.9a1.9 1.1 0 1 0 3.7 0a1.9 1.1 0 1 0 -3.7 0M1035.5 391.6a1.9 1.1 0 1 0 3.7 0a1.9 1.1 0 1 0 -3.7 0M1025.7 397.2a1.9 1.1 0 1 0 3.7 0a1.9 1.1 0 1 0 -3.7 0M1015.9 402.9a1.9 1.1 0 1 0 3.7 0a1.9 1.1 0 1 0 -3.7 0M1271.0 262.5a1.9 1.1 0 1 0 3.7 0a1.9 1.1 0 1 0 -3.7 0M1261.2 268.1a1.9 1.1 0 1 0 3.7 0a1.9 1.1 0 1 0 -3.7 0M1251.4 273.7a1.9 1.1 0 1 0 3.7 0a1.9 1.1 0 1 0 -3.7 0M1241.7 279.4a1.9 1.1 0 1 0 3.7 0a1.9 1.1 0 1 0 -3.7 0M1231.9 285.0a1.9 1.1 0 1 0 3.7 0a1.9 1.1 0 1 0 -3.7 0M1222.1 290.7a1.9 1.1 0 1 0 3.7 0a1.9 1.1 0 1 0 -3.7 0M1212.4 296.3a1.9 1.1 0 1 0 3.7 0a1.9 1.1 0 1 0 -3.7 0M1202.6 301.9a1.9 1.1 0 1 0 3.7 0a1.9 1.1 0 1 0 -3.7 0M1192.8 307.6a1.9 1.1 0 1 0 3.7 0a1.9 1.1 0 1 0 -3.7 0M1183.1 313.2a1.9 1.1 0 1 0 3.7 0a1.9 1.1 0 1 0 -3.7 0M1173.3 318.9a1.9 1.1 0 1 0 3.7 0a1.9 1.1 0 1 0 -3.7 0M1163.5 324.5a1.9 1.1 0 1 0 3.7 0a1.9 1.1 0 1 0 -3.7 0M1153.7 330.1a1.9 1.1 0 1 0 3.7 0a1.9 1.1 0 1 0 -3.7 0M1144.0 335.8a1.9 1.1 0 1 0 3.7 0a1.9 1.1 0 1 0 -3.7 0M1134.2 341.4a1.9 1.1 0 1 0 3.7 0a1.9 1.1 0 1 0 -3.7 0M1124.4 347.1a1.9 1.1 0 1 0 3.7 0a1.9 1.1 0 1 0 -3.7 0M1114.7 352.7a1.9 1.1 0 1 0 3.7 0a1.9 1.1 0 1 0 -3.7 0M1104.9 358.3a1.9 1.1 0 1 0 3.7 0a1.9 1.1 0 1 0 -3.7 0M1095.1 364.0a1.9 1.1 0 1 0 3.7 0a1.9 1.1 0 1 0 -3.7 0M1085.4 369.6a1.9 1.1 0 1 0 3.7 0a1.9 1.1 0 1 0 -3.7 0M1075.6 375.3a1.9 1.1 0 1 0 3.7 0a1.9 1.1 0 1 0 -3.7 0M1065.8 380.9a1.9 1.1 0 1 0 3.7 0a1.9 1.1 0 1 0 -3.7 0M1056.1 386.5a1.9 1.1 0 1 0 3.7 0a1.9 1.1 0 1 0 -3.7 0M1046.3 392.2a1.9 1.1 0 1 0 3.7 0a1.9 1.1 0 1 0 -3.7 0M1036.5 397.8a1.9 1.1 0 1 0 3.7 0a1.9 1.1 0 1 0 -3.7 0M1026.8 403.5a1.9 1.1 0 1 0 3.7 0a1.9 1.1 0 1 0 -3.7 0M1017.0 409.1a1.9 1.1 0 1 0 3.7 0a1.9 1.1 0 1 0 -3.7 0M1278.2 266.6a1.9 1.1 0 1 0 3.7 0a1.9 1.1 0 1 0 -3.7 0M1268.4 272.3a1.9 1.1 0 1 0 3.7 0a1.9 1.1 0 1 0 -3.7 0M1258.7 277.9a1.9 1.1 0 1 0 3.7 0a1.9 1.1 0 1 0 -3.7 0M1248.9 283.6a1.9 1.1 0 1 0 3.7 0a1.9 1.1 0 1 0 -3.7 0M1239.1 289.2a1.9 1.1 0 1 0 3.7 0a1.9 1.1 0 1 0 -3.7 0M1229.4 294.8a1.9 1.1 0 1 0 3.7 0a1.9 1.1 0 1 0 -3.7 0M1219.6 300.5a1.9 1.1 0 1 0 3.7 0a1.9 1.1 0 1 0 -3.7 0M1209.8 306.1a1.9 1.1 0 1 0 3.7 0a1.9 1.1 0 1 0 -3.7 0M1200.1 311.8a1.9 1.1 0 1 0 3.7 0a1.9 1.1 0 1 0 -3.7 0M1190.3 317.4a1.9 1.1 0 1 0 3.7 0a1.9 1.1 0 1 0 -3.7 0M1180.5 323.0a1.9 1.1 0 1 0 3.7 0a1.9 1.1 0 1 0 -3.7 0M1170.7 328.7a1.9 1.1 0 1 0 3.7 0a1.9 1.1 0 1 0 -3.7 0M1161.0 334.3a1.9 1.1 0 1 0 3.7 0a1.9 1.1 0 1 0 -3.7 0M1151.2 340.0a1.9 1.1 0 1 0 3.7 0a1.9 1.1 0 1 0 -3.7 0M1141.4 345.6a1.9 1.1 0 1 0 3.7 0a1.9 1.1 0 1 0 -3.7 0M1131.7 351.2a1.9 1.1 0 1 0 3.7 0a1.9 1.1 0 1 0 -3.7 0M1121.9 356.9a1.9 1.1 0 1 0 3.7 0a1.9 1.1 0 1 0 -3.7 0M1112.1 362.5a1.9 1.1 0 1 0 3.7 0a1.9 1.1 0 1 0 -3.7 0M1102.4 368.2a1.9 1.1 0 1 0 3.7 0a1.9 1.1 0 1 0 -3.7 0M1092.6 373.8a1.9 1.1 0 1 0 3.7 0a1.9 1.1 0 1 0 -3.7 0M1082.8 379.4a1.9 1.1 0 1 0 3.7 0a1.9 1.1 0 1 0 -3.7 0M1073.1 385.1a1.9 1.1 0 1 0 3.7 0a1.9 1.1 0 1 0 -3.7 0M1063.3 390.7a1.9 1.1 0 1 0 3.7 0a1.9 1.1 0 1 0 -3.7 0M1053.5 396.4a1.9 1.1 0 1 0 3.7 0a1.9 1.1 0 1 0 -3.7 0M1043.8 402.0a1.9 1.1 0 1 0 3.7 0a1.9 1.1 0 1 0 -3.7 0M1034.0 407.6a1.9 1.1 0 1 0 3.7 0a1.9 1.1 0 1 0 -3.7 0M1024.2 413.3a1.9 1.1 0 1 0 3.7 0a1.9 1.1 0 1 0 -3.7 0M1289.0 267.2a1.9 1.1 0 1 0 3.7 0a1.9 1.1 0 1 0 -3.7 0M1279.2 272.9a1.9 1.1 0 1 0 3.7 0a1.9 1.1 0 1 0 -3.7 0M1269.5 278.5a1.9 1.1 0 1 0 3.7 0a1.9 1.1 0 1 0 -3.7 0M1259.7 284.2a1.9 1.1 0 1 0 3.7 0a1.9 1.1 0 1 0 -3.7 0M1249.9 289.8a1.9 1.1 0 1 0 3.7 0a1.9 1.1 0 1 0 -3.7 0M1240.2 295.4a1.9 1.1 0 1 0 3.7 0a1.9 1.1 0 1 0 -3.7 0M1230.4 301.1a1.9 1.1 0 1 0 3.7 0a1.9 1.1 0 1 0 -3.7 0M1220.6 306.7a1.9 1.1 0 1 0 3.7 0a1.9 1.1 0 1 0 -3.7 0M1210.9 312.4a1.9 1.1 0 1 0 3.7 0a1.9 1.1 0 1 0 -3.7 0M1201.1 318.0a1.9 1.1 0 1 0 3.7 0a1.9 1.1 0 1 0 -3.7 0M1191.3 323.6a1.9 1.1 0 1 0 3.7 0a1.9 1.1 0 1 0 -3.7 0M1181.6 329.3a1.9 1.1 0 1 0 3.7 0a1.9 1.1 0 1 0 -3.7 0M1171.8 334.9a1.9 1.1 0 1 0 3.7 0a1.9 1.1 0 1 0 -3.7 0M1162.0 340.6a1.9 1.1 0 1 0 3.7 0a1.9 1.1 0 1 0 -3.7 0M1152.3 346.2a1.9 1.1 0 1 0 3.7 0a1.9 1.1 0 1 0 -3.7 0M1142.5 351.8a1.9 1.1 0 1 0 3.7 0a1.9 1.1 0 1 0 -3.7 0M1132.7 357.5a1.9 1.1 0 1 0 3.7 0a1.9 1.1 0 1 0 -3.7 0M1122.9 363.1a1.9 1.1 0 1 0 3.7 0a1.9 1.1 0 1 0 -3.7 0M1113.2 368.8a1.9 1.1 0 1 0 3.7 0a1.9 1.1 0 1 0 -3.7 0M1103.4 374.4a1.9 1.1 0 1 0 3.7 0a1.9 1.1 0 1 0 -3.7 0M1093.6 380.0a1.9 1.1 0 1 0 3.7 0a1.9 1.1 0 1 0 -3.7 0M1083.9 385.7a1.9 1.1 0 1 0 3.7 0a1.9 1.1 0 1 0 -3.7 0M1074.1 391.3a1.9 1.1 0 1 0 3.7 0a1.9 1.1 0 1 0 -3.7 0M1064.3 397.0a1.9 1.1 0 1 0 3.7 0a1.9 1.1 0 1 0 -3.7 0M1054.6 402.6a1.9 1.1 0 1 0 3.7 0a1.9 1.1 0 1 0 -3.7 0M1044.8 408.2a1.9 1.1 0 1 0 3.7 0a1.9 1.1 0 1 0 -3.7 0M1035.0 413.9a1.9 1.1 0 1 0 3.7 0a1.9 1.1 0 1 0 -3.7 0M1300.9 274.1a1.9 1.1 0 1 0 3.7 0a1.9 1.1 0 1 0 -3.7 0M1291.1 279.7a1.9 1.1 0 1 0 3.7 0a1.9 1.1 0 1 0 -3.7 0M1281.3 285.4a1.9 1.1 0 1 0 3.7 0a1.9 1.1 0 1 0 -3.7 0M1271.6 291.0a1.9 1.1 0 1 0 3.7 0a1.9 1.1 0 1 0 -3.7 0M1261.8 296.7a1.9 1.1 0 1 0 3.7 0a1.9 1.1 0 1 0 -3.7 0M1252.0 302.3a1.9 1.1 0 1 0 3.7 0a1.9 1.1 0 1 0 -3.7 0M1242.3 307.9a1.9 1.1 0 1 0 3.7 0a1.9 1.1 0 1 0 -3.7 0M1232.5 313.6a1.9 1.1 0 1 0 3.7 0a1.9 1.1 0 1 0 -3.7 0M1222.7 319.2a1.9 1.1 0 1 0 3.7 0a1.9 1.1 0 1 0 -3.7 0M1213.0 324.9a1.9 1.1 0 1 0 3.7 0a1.9 1.1 0 1 0 -3.7 0M1203.2 330.5a1.9 1.1 0 1 0 3.7 0a1.9 1.1 0 1 0 -3.7 0M1193.4 336.1a1.9 1.1 0 1 0 3.7 0a1.9 1.1 0 1 0 -3.7 0M1183.7 341.8a1.9 1.1 0 1 0 3.7 0a1.9 1.1 0 1 0 -3.7 0M1173.9 347.4a1.9 1.1 0 1 0 3.7 0a1.9 1.1 0 1 0 -3.7 0M1164.1 353.1a1.9 1.1 0 1 0 3.7 0a1.9 1.1 0 1 0 -3.7 0M1154.4 358.7a1.9 1.1 0 1 0 3.7 0a1.9 1.1 0 1 0 -3.7 0M1144.6 364.3a1.9 1.1 0 1 0 3.7 0a1.9 1.1 0 1 0 -3.7 0M1134.8 370.0a1.9 1.1 0 1 0 3.7 0a1.9 1.1 0 1 0 -3.7 0M1125.0 375.6a1.9 1.1 0 1 0 3.7 0a1.9 1.1 0 1 0 -3.7 0M1115.3 381.3a1.9 1.1 0 1 0 3.7 0a1.9 1.1 0 1 0 -3.7 0M1105.5 386.9a1.9 1.1 0 1 0 3.7 0a1.9 1.1 0 1 0 -3.7 0M1095.7 392.5a1.9 1.1 0 1 0 3.7 0a1.9 1.1 0 1 0 -3.7 0M1086.0 398.2a1.9 1.1 0 1 0 3.7 0a1.9 1.1 0 1 0 -3.7 0M1076.2 403.8a1.9 1.1 0 1 0 3.7 0a1.9 1.1 0 1 0 -3.7 0M1066.4 409.5a1.9 1.1 0 1 0 3.7 0a1.9 1.1 0 1 0 -3.7 0M1056.7 415.1a1.9 1.1 0 1 0 3.7 0a1.9 1.1 0 1 0 -3.7 0M1046.9 420.7a1.9 1.1 0 1 0 3.7 0a1.9 1.1 0 1 0 -3.7 0M1301.9 280.3a1.9 1.1 0 1 0 3.7 0a1.9 1.1 0 1 0 -3.7 0M1292.2 286.0a1.9 1.1 0 1 0 3.7 0a1.9 1.1 0 1 0 -3.7 0M1282.4 291.6a1.9 1.1 0 1 0 3.7 0a1.9 1.1 0 1 0 -3.7 0M1272.6 297.3a1.9 1.1 0 1 0 3.7 0a1.9 1.1 0 1 0 -3.7 0M1262.9 302.9a1.9 1.1 0 1 0 3.7 0a1.9 1.1 0 1 0 -3.7 0M1253.1 308.5a1.9 1.1 0 1 0 3.7 0a1.9 1.1 0 1 0 -3.7 0M1243.3 314.2a1.9 1.1 0 1 0 3.7 0a1.9 1.1 0 1 0 -3.7 0M1233.5 319.8a1.9 1.1 0 1 0 3.7 0a1.9 1.1 0 1 0 -3.7 0M1223.8 325.5a1.9 1.1 0 1 0 3.7 0a1.9 1.1 0 1 0 -3.7 0M1214.0 331.1a1.9 1.1 0 1 0 3.7 0a1.9 1.1 0 1 0 -3.7 0M1204.2 336.7a1.9 1.1 0 1 0 3.7 0a1.9 1.1 0 1 0 -3.7 0M1194.5 342.4a1.9 1.1 0 1 0 3.7 0a1.9 1.1 0 1 0 -3.7 0M1184.7 348.0a1.9 1.1 0 1 0 3.7 0a1.9 1.1 0 1 0 -3.7 0M1174.9 353.7a1.9 1.1 0 1 0 3.7 0a1.9 1.1 0 1 0 -3.7 0M1165.2 359.3a1.9 1.1 0 1 0 3.7 0a1.9 1.1 0 1 0 -3.7 0M1155.4 364.9a1.9 1.1 0 1 0 3.7 0a1.9 1.1 0 1 0 -3.7 0M1145.6 370.6a1.9 1.1 0 1 0 3.7 0a1.9 1.1 0 1 0 -3.7 0M1135.9 376.2a1.9 1.1 0 1 0 3.7 0a1.9 1.1 0 1 0 -3.7 0M1126.1 381.9a1.9 1.1 0 1 0 3.7 0a1.9 1.1 0 1 0 -3.7 0M1116.3 387.5a1.9 1.1 0 1 0 3.7 0a1.9 1.1 0 1 0 -3.7 0M1106.6 393.1a1.9 1.1 0 1 0 3.7 0a1.9 1.1 0 1 0 -3.7 0M1096.8 398.8a1.9 1.1 0 1 0 3.7 0a1.9 1.1 0 1 0 -3.7 0M1087.0 404.4a1.9 1.1 0 1 0 3.7 0a1.9 1.1 0 1 0 -3.7 0M1077.2 410.1a1.9 1.1 0 1 0 3.7 0a1.9 1.1 0 1 0 -3.7 0M1067.5 415.7a1.9 1.1 0 1 0 3.7 0a1.9 1.1 0 1 0 -3.7 0M1057.7 421.3a1.9 1.1 0 1 0 3.7 0a1.9 1.1 0 1 0 -3.7 0M1047.9 427.0a1.9 1.1 0 1 0 3.7 0a1.9 1.1 0 1 0 -3.7 0M1312.7 280.9a1.9 1.1 0 1 0 3.7 0a1.9 1.1 0 1 0 -3.7 0M1303.0 286.6a1.9 1.1 0 1 0 3.7 0a1.9 1.1 0 1 0 -3.7 0M1293.2 292.2a1.9 1.1 0 1 0 3.7 0a1.9 1.1 0 1 0 -3.7 0M1283.4 297.9a1.9 1.1 0 1 0 3.7 0a1.9 1.1 0 1 0 -3.7 0M1273.7 303.5a1.9 1.1 0 1 0 3.7 0a1.9 1.1 0 1 0 -3.7 0M1263.9 309.1a1.9 1.1 0 1 0 3.7 0a1.9 1.1 0 1 0 -3.7 0M1254.1 314.8a1.9 1.1 0 1 0 3.7 0a1.9 1.1 0 1 0 -3.7 0M1244.4 320.4a1.9 1.1 0 1 0 3.7 0a1.9 1.1 0 1 0 -3.7 0M1234.6 326.1a1.9 1.1 0 1 0 3.7 0a1.9 1.1 0 1 0 -3.7 0M1224.8 331.7a1.9 1.1 0 1 0 3.7 0a1.9 1.1 0 1 0 -3.7 0M1215.1 337.3a1.9 1.1 0 1 0 3.7 0a1.9 1.1 0 1 0 -3.7 0M1205.3 343.0a1.9 1.1 0 1 0 3.7 0a1.9 1.1 0 1 0 -3.7 0M1195.5 348.6a1.9 1.1 0 1 0 3.7 0a1.9 1.1 0 1 0 -3.7 0M1185.8 354.3a1.9 1.1 0 1 0 3.7 0a1.9 1.1 0 1 0 -3.7 0M1176.0 359.9a1.9 1.1 0 1 0 3.7 0a1.9 1.1 0 1 0 -3.7 0M1166.2 365.5a1.9 1.1 0 1 0 3.7 0a1.9 1.1 0 1 0 -3.7 0M1156.4 371.2a1.9 1.1 0 1 0 3.7 0a1.9 1.1 0 1 0 -3.7 0M1146.7 376.8a1.9 1.1 0 1 0 3.7 0a1.9 1.1 0 1 0 -3.7 0M1136.9 382.5a1.9 1.1 0 1 0 3.7 0a1.9 1.1 0 1 0 -3.7 0M1127.1 388.1a1.9 1.1 0 1 0 3.7 0a1.9 1.1 0 1 0 -3.7 0M1117.4 393.7a1.9 1.1 0 1 0 3.7 0a1.9 1.1 0 1 0 -3.7 0M1107.6 399.4a1.9 1.1 0 1 0 3.7 0a1.9 1.1 0 1 0 -3.7 0M1097.8 405.0a1.9 1.1 0 1 0 3.7 0a1.9 1.1 0 1 0 -3.7 0M1088.1 410.7a1.9 1.1 0 1 0 3.7 0a1.9 1.1 0 1 0 -3.7 0M1078.3 416.3a1.9 1.1 0 1 0 3.7 0a1.9 1.1 0 1 0 -3.7 0M1068.5 421.9a1.9 1.1 0 1 0 3.7 0a1.9 1.1 0 1 0 -3.7 0M1058.8 427.6a1.9 1.1 0 1 0 3.7 0a1.9 1.1 0 1 0 -3.7 0M1313.8 287.2a1.9 1.1 0 1 0 3.7 0a1.9 1.1 0 1 0 -3.7 0M1304.0 292.8a1.9 1.1 0 1 0 3.7 0a1.9 1.1 0 1 0 -3.7 0M1294.3 298.5a1.9 1.1 0 1 0 3.7 0a1.9 1.1 0 1 0 -3.7 0M1284.5 304.1a1.9 1.1 0 1 0 3.7 0a1.9 1.1 0 1 0 -3.7 0M1274.7 309.8a1.9 1.1 0 1 0 3.7 0a1.9 1.1 0 1 0 -3.7 0M1265.0 315.4a1.9 1.1 0 1 0 3.7 0a1.9 1.1 0 1 0 -3.7 0M1255.2 321.0a1.9 1.1 0 1 0 3.7 0a1.9 1.1 0 1 0 -3.7 0M1245.4 326.7a1.9 1.1 0 1 0 3.7 0a1.9 1.1 0 1 0 -3.7 0M1235.6 332.3a1.9 1.1 0 1 0 3.7 0a1.9 1.1 0 1 0 -3.7 0M1225.9 337.9a1.9 1.1 0 1 0 3.7 0a1.9 1.1 0 1 0 -3.7 0M1216.1 343.6a1.9 1.1 0 1 0 3.7 0a1.9 1.1 0 1 0 -3.7 0M1206.3 349.2a1.9 1.1 0 1 0 3.7 0a1.9 1.1 0 1 0 -3.7 0M1196.6 354.9a1.9 1.1 0 1 0 3.7 0a1.9 1.1 0 1 0 -3.7 0M1186.8 360.5a1.9 1.1 0 1 0 3.7 0a1.9 1.1 0 1 0 -3.7 0M1177.0 366.1a1.9 1.1 0 1 0 3.7 0a1.9 1.1 0 1 0 -3.7 0M1167.3 371.8a1.9 1.1 0 1 0 3.7 0a1.9 1.1 0 1 0 -3.7 0M1157.5 377.4a1.9 1.1 0 1 0 3.7 0a1.9 1.1 0 1 0 -3.7 0M1147.7 383.1a1.9 1.1 0 1 0 3.7 0a1.9 1.1 0 1 0 -3.7 0M1138.0 388.7a1.9 1.1 0 1 0 3.7 0a1.9 1.1 0 1 0 -3.7 0M1128.2 394.3a1.9 1.1 0 1 0 3.7 0a1.9 1.1 0 1 0 -3.7 0M1118.4 400.0a1.9 1.1 0 1 0 3.7 0a1.9 1.1 0 1 0 -3.7 0M1108.7 405.6a1.9 1.1 0 1 0 3.7 0a1.9 1.1 0 1 0 -3.7 0M1098.9 411.3a1.9 1.1 0 1 0 3.7 0a1.9 1.1 0 1 0 -3.7 0M1089.1 416.9a1.9 1.1 0 1 0 3.7 0a1.9 1.1 0 1 0 -3.7 0M1079.3 422.5a1.9 1.1 0 1 0 3.7 0a1.9 1.1 0 1 0 -3.7 0M1069.6 428.2a1.9 1.1 0 1 0 3.7 0a1.9 1.1 0 1 0 -3.7 0M1059.8 433.8a1.9 1.1 0 1 0 3.7 0a1.9 1.1 0 1 0 -3.7 0M1321.0 291.4a1.9 1.1 0 1 0 3.7 0a1.9 1.1 0 1 0 -3.7 0M1311.3 297.0a1.9 1.1 0 1 0 3.7 0a1.9 1.1 0 1 0 -3.7 0M1301.5 302.6a1.9 1.1 0 1 0 3.7 0a1.9 1.1 0 1 0 -3.7 0M1291.7 308.3a1.9 1.1 0 1 0 3.7 0a1.9 1.1 0 1 0 -3.7 0M1282.0 313.9a1.9 1.1 0 1 0 3.7 0a1.9 1.1 0 1 0 -3.7 0M1272.2 319.6a1.9 1.1 0 1 0 3.7 0a1.9 1.1 0 1 0 -3.7 0M1262.4 325.2a1.9 1.1 0 1 0 3.7 0a1.9 1.1 0 1 0 -3.7 0M1252.6 330.8a1.9 1.1 0 1 0 3.7 0a1.9 1.1 0 1 0 -3.7 0M1242.9 336.5a1.9 1.1 0 1 0 3.7 0a1.9 1.1 0 1 0 -3.7 0M1233.1 342.1a1.9 1.1 0 1 0 3.7 0a1.9 1.1 0 1 0 -3.7 0M1223.3 347.8a1.9 1.1 0 1 0 3.7 0a1.9 1.1 0 1 0 -3.7 0M1213.6 353.4a1.9 1.1 0 1 0 3.7 0a1.9 1.1 0 1 0 -3.7 0M1203.8 359.0a1.9 1.1 0 1 0 3.7 0a1.9 1.1 0 1 0 -3.7 0M1194.0 364.7a1.9 1.1 0 1 0 3.7 0a1.9 1.1 0 1 0 -3.7 0M1184.3 370.3a1.9 1.1 0 1 0 3.7 0a1.9 1.1 0 1 0 -3.7 0M1174.5 376.0a1.9 1.1 0 1 0 3.7 0a1.9 1.1 0 1 0 -3.7 0M1164.7 381.6a1.9 1.1 0 1 0 3.7 0a1.9 1.1 0 1 0 -3.7 0M1155.0 387.2a1.9 1.1 0 1 0 3.7 0a1.9 1.1 0 1 0 -3.7 0M1145.2 392.9a1.9 1.1 0 1 0 3.7 0a1.9 1.1 0 1 0 -3.7 0M1135.4 398.5a1.9 1.1 0 1 0 3.7 0a1.9 1.1 0 1 0 -3.7 0M1125.7 404.2a1.9 1.1 0 1 0 3.7 0a1.9 1.1 0 1 0 -3.7 0M1115.9 409.8a1.9 1.1 0 1 0 3.7 0a1.9 1.1 0 1 0 -3.7 0M1106.1 415.4a1.9 1.1 0 1 0 3.7 0a1.9 1.1 0 1 0 -3.7 0M1096.3 421.1a1.9 1.1 0 1 0 3.7 0a1.9 1.1 0 1 0 -3.7 0M1086.6 426.7a1.9 1.1 0 1 0 3.7 0a1.9 1.1 0 1 0 -3.7 0M1076.8 432.4a1.9 1.1 0 1 0 3.7 0a1.9 1.1 0 1 0 -3.7 0M1067.0 438.0a1.9 1.1 0 1 0 3.7 0a1.9 1.1 0 1 0 -3.7 0M1331.8 292.0a1.9 1.1 0 1 0 3.7 0a1.9 1.1 0 1 0 -3.7 0M1322.1 297.6a1.9 1.1 0 1 0 3.7 0a1.9 1.1 0 1 0 -3.7 0M1312.3 303.2a1.9 1.1 0 1 0 3.7 0a1.9 1.1 0 1 0 -3.7 0M1302.5 308.9a1.9 1.1 0 1 0 3.7 0a1.9 1.1 0 1 0 -3.7 0M1292.8 314.5a1.9 1.1 0 1 0 3.7 0a1.9 1.1 0 1 0 -3.7 0M1283.0 320.2a1.9 1.1 0 1 0 3.7 0a1.9 1.1 0 1 0 -3.7 0M1273.2 325.8a1.9 1.1 0 1 0 3.7 0a1.9 1.1 0 1 0 -3.7 0M1263.5 331.4a1.9 1.1 0 1 0 3.7 0a1.9 1.1 0 1 0 -3.7 0M1253.7 337.1a1.9 1.1 0 1 0 3.7 0a1.9 1.1 0 1 0 -3.7 0M1243.9 342.7a1.9 1.1 0 1 0 3.7 0a1.9 1.1 0 1 0 -3.7 0M1234.2 348.4a1.9 1.1 0 1 0 3.7 0a1.9 1.1 0 1 0 -3.7 0M1224.4 354.0a1.9 1.1 0 1 0 3.7 0a1.9 1.1 0 1 0 -3.7 0M1214.6 359.6a1.9 1.1 0 1 0 3.7 0a1.9 1.1 0 1 0 -3.7 0M1204.8 365.3a1.9 1.1 0 1 0 3.7 0a1.9 1.1 0 1 0 -3.7 0M1195.1 370.9a1.9 1.1 0 1 0 3.7 0a1.9 1.1 0 1 0 -3.7 0M1185.3 376.6a1.9 1.1 0 1 0 3.7 0a1.9 1.1 0 1 0 -3.7 0M1175.5 382.2a1.9 1.1 0 1 0 3.7 0a1.9 1.1 0 1 0 -3.7 0M1165.8 387.8a1.9 1.1 0 1 0 3.7 0a1.9 1.1 0 1 0 -3.7 0M1156.0 393.5a1.9 1.1 0 1 0 3.7 0a1.9 1.1 0 1 0 -3.7 0M1146.2 399.1a1.9 1.1 0 1 0 3.7 0a1.9 1.1 0 1 0 -3.7 0M1136.5 404.8a1.9 1.1 0 1 0 3.7 0a1.9 1.1 0 1 0 -3.7 0M1126.7 410.4a1.9 1.1 0 1 0 3.7 0a1.9 1.1 0 1 0 -3.7 0M1116.9 416.0a1.9 1.1 0 1 0 3.7 0a1.9 1.1 0 1 0 -3.7 0M1107.2 421.7a1.9 1.1 0 1 0 3.7 0a1.9 1.1 0 1 0 -3.7 0M1097.4 427.3a1.9 1.1 0 1 0 3.7 0a1.9 1.1 0 1 0 -3.7 0M1087.6 433.0a1.9 1.1 0 1 0 3.7 0a1.9 1.1 0 1 0 -3.7 0M1077.9 438.6a1.9 1.1 0 1 0 3.7 0a1.9 1.1 0 1 0 -3.7 0M1343.7 298.8a1.9 1.1 0 1 0 3.7 0a1.9 1.1 0 1 0 -3.7 0M1333.9 304.5a1.9 1.1 0 1 0 3.7 0a1.9 1.1 0 1 0 -3.7 0M1324.2 310.1a1.9 1.1 0 1 0 3.7 0a1.9 1.1 0 1 0 -3.7 0M1314.4 315.7a1.9 1.1 0 1 0 3.7 0a1.9 1.1 0 1 0 -3.7 0M1304.6 321.4a1.9 1.1 0 1 0 3.7 0a1.9 1.1 0 1 0 -3.7 0M1294.9 327.0a1.9 1.1 0 1 0 3.7 0a1.9 1.1 0 1 0 -3.7 0M1285.1 332.7a1.9 1.1 0 1 0 3.7 0a1.9 1.1 0 1 0 -3.7 0M1275.3 338.3a1.9 1.1 0 1 0 3.7 0a1.9 1.1 0 1 0 -3.7 0M1265.6 343.9a1.9 1.1 0 1 0 3.7 0a1.9 1.1 0 1 0 -3.7 0M1255.8 349.6a1.9 1.1 0 1 0 3.7 0a1.9 1.1 0 1 0 -3.7 0M1246.0 355.2a1.9 1.1 0 1 0 3.7 0a1.9 1.1 0 1 0 -3.7 0M1236.3 360.9a1.9 1.1 0 1 0 3.7 0a1.9 1.1 0 1 0 -3.7 0M1226.5 366.5a1.9 1.1 0 1 0 3.7 0a1.9 1.1 0 1 0 -3.7 0M1216.7 372.1a1.9 1.1 0 1 0 3.7 0a1.9 1.1 0 1 0 -3.7 0M1206.9 377.8a1.9 1.1 0 1 0 3.7 0a1.9 1.1 0 1 0 -3.7 0M1197.2 383.4a1.9 1.1 0 1 0 3.7 0a1.9 1.1 0 1 0 -3.7 0M1187.4 389.1a1.9 1.1 0 1 0 3.7 0a1.9 1.1 0 1 0 -3.7 0M1177.6 394.7a1.9 1.1 0 1 0 3.7 0a1.9 1.1 0 1 0 -3.7 0M1167.9 400.3a1.9 1.1 0 1 0 3.7 0a1.9 1.1 0 1 0 -3.7 0M1158.1 406.0a1.9 1.1 0 1 0 3.7 0a1.9 1.1 0 1 0 -3.7 0M1148.3 411.6a1.9 1.1 0 1 0 3.7 0a1.9 1.1 0 1 0 -3.7 0M1138.6 417.3a1.9 1.1 0 1 0 3.7 0a1.9 1.1 0 1 0 -3.7 0M1128.8 422.9a1.9 1.1 0 1 0 3.7 0a1.9 1.1 0 1 0 -3.7 0M1119.0 428.5a1.9 1.1 0 1 0 3.7 0a1.9 1.1 0 1 0 -3.7 0M1109.3 434.2a1.9 1.1 0 1 0 3.7 0a1.9 1.1 0 1 0 -3.7 0M1099.5 439.8a1.9 1.1 0 1 0 3.7 0a1.9 1.1 0 1 0 -3.7 0M1089.7 445.5a1.9 1.1 0 1 0 3.7 0a1.9 1.1 0 1 0 -3.7 0M1344.8 305.1a1.9 1.1 0 1 0 3.7 0a1.9 1.1 0 1 0 -3.7 0M1335.0 310.7a1.9 1.1 0 1 0 3.7 0a1.9 1.1 0 1 0 -3.7 0M1325.2 316.3a1.9 1.1 0 1 0 3.7 0a1.9 1.1 0 1 0 -3.7 0M1315.4 322.0a1.9 1.1 0 1 0 3.7 0a1.9 1.1 0 1 0 -3.7 0M1305.7 327.6a1.9 1.1 0 1 0 3.7 0a1.9 1.1 0 1 0 -3.7 0M1295.9 333.3a1.9 1.1 0 1 0 3.7 0a1.9 1.1 0 1 0 -3.7 0M1286.1 338.9a1.9 1.1 0 1 0 3.7 0a1.9 1.1 0 1 0 -3.7 0M1276.4 344.5a1.9 1.1 0 1 0 3.7 0a1.9 1.1 0 1 0 -3.7 0M1266.6 350.2a1.9 1.1 0 1 0 3.7 0a1.9 1.1 0 1 0 -3.7 0M1256.8 355.8a1.9 1.1 0 1 0 3.7 0a1.9 1.1 0 1 0 -3.7 0M1247.1 361.5a1.9 1.1 0 1 0 3.7 0a1.9 1.1 0 1 0 -3.7 0M1237.3 367.1a1.9 1.1 0 1 0 3.7 0a1.9 1.1 0 1 0 -3.7 0M1227.5 372.7a1.9 1.1 0 1 0 3.7 0a1.9 1.1 0 1 0 -3.7 0M1217.8 378.4a1.9 1.1 0 1 0 3.7 0a1.9 1.1 0 1 0 -3.7 0M1208.0 384.0a1.9 1.1 0 1 0 3.7 0a1.9 1.1 0 1 0 -3.7 0M1198.2 389.7a1.9 1.1 0 1 0 3.7 0a1.9 1.1 0 1 0 -3.7 0M1188.5 395.3a1.9 1.1 0 1 0 3.7 0a1.9 1.1 0 1 0 -3.7 0M1178.7 400.9a1.9 1.1 0 1 0 3.7 0a1.9 1.1 0 1 0 -3.7 0M1168.9 406.6a1.9 1.1 0 1 0 3.7 0a1.9 1.1 0 1 0 -3.7 0M1159.1 412.2a1.9 1.1 0 1 0 3.7 0a1.9 1.1 0 1 0 -3.7 0M1149.4 417.9a1.9 1.1 0 1 0 3.7 0a1.9 1.1 0 1 0 -3.7 0M1139.6 423.5a1.9 1.1 0 1 0 3.7 0a1.9 1.1 0 1 0 -3.7 0M1129.8 429.1a1.9 1.1 0 1 0 3.7 0a1.9 1.1 0 1 0 -3.7 0M1120.1 434.8a1.9 1.1 0 1 0 3.7 0a1.9 1.1 0 1 0 -3.7 0M1110.3 440.4a1.9 1.1 0 1 0 3.7 0a1.9 1.1 0 1 0 -3.7 0M1100.5 446.1a1.9 1.1 0 1 0 3.7 0a1.9 1.1 0 1 0 -3.7 0M1090.8 451.7a1.9 1.1 0 1 0 3.7 0a1.9 1.1 0 1 0 -3.7 0M1355.6 305.7a1.9 1.1 0 1 0 3.7 0a1.9 1.1 0 1 0 -3.7 0M1345.8 311.3a1.9 1.1 0 1 0 3.7 0a1.9 1.1 0 1 0 -3.7 0M1336.0 316.9a1.9 1.1 0 1 0 3.7 0a1.9 1.1 0 1 0 -3.7 0M1326.3 322.6a1.9 1.1 0 1 0 3.7 0a1.9 1.1 0 1 0 -3.7 0M1316.5 328.2a1.9 1.1 0 1 0 3.7 0a1.9 1.1 0 1 0 -3.7 0M1306.7 333.9a1.9 1.1 0 1 0 3.7 0a1.9 1.1 0 1 0 -3.7 0M1297.0 339.5a1.9 1.1 0 1 0 3.7 0a1.9 1.1 0 1 0 -3.7 0M1287.2 345.1a1.9 1.1 0 1 0 3.7 0a1.9 1.1 0 1 0 -3.7 0M1277.4 350.8a1.9 1.1 0 1 0 3.7 0a1.9 1.1 0 1 0 -3.7 0M1267.7 356.4a1.9 1.1 0 1 0 3.7 0a1.9 1.1 0 1 0 -3.7 0M1257.9 362.1a1.9 1.1 0 1 0 3.7 0a1.9 1.1 0 1 0 -3.7 0M1248.1 367.7a1.9 1.1 0 1 0 3.7 0a1.9 1.1 0 1 0 -3.7 0M1238.3 373.3a1.9 1.1 0 1 0 3.7 0a1.9 1.1 0 1 0 -3.7 0M1228.6 379.0a1.9 1.1 0 1 0 3.7 0a1.9 1.1 0 1 0 -3.7 0M1218.8 384.6a1.9 1.1 0 1 0 3.7 0a1.9 1.1 0 1 0 -3.7 0M1209.0 390.3a1.9 1.1 0 1 0 3.7 0a1.9 1.1 0 1 0 -3.7 0M1199.3 395.9a1.9 1.1 0 1 0 3.7 0a1.9 1.1 0 1 0 -3.7 0M1189.5 401.5a1.9 1.1 0 1 0 3.7 0a1.9 1.1 0 1 0 -3.7 0M1179.7 407.2a1.9 1.1 0 1 0 3.7 0a1.9 1.1 0 1 0 -3.7 0M1170.0 412.8a1.9 1.1 0 1 0 3.7 0a1.9 1.1 0 1 0 -3.7 0M1160.2 418.5a1.9 1.1 0 1 0 3.7 0a1.9 1.1 0 1 0 -3.7 0M1150.4 424.1a1.9 1.1 0 1 0 3.7 0a1.9 1.1 0 1 0 -3.7 0M1140.7 429.8a1.9 1.1 0 1 0 3.7 0a1.9 1.1 0 1 0 -3.7 0M1130.9 435.4a1.9 1.1 0 1 0 3.7 0a1.9 1.1 0 1 0 -3.7 0M1121.1 441.0a1.9 1.1 0 1 0 3.7 0a1.9 1.1 0 1 0 -3.7 0M1111.4 446.7a1.9 1.1 0 1 0 3.7 0a1.9 1.1 0 1 0 -3.7 0M1101.6 452.3a1.9 1.1 0 1 0 3.7 0a1.9 1.1 0 1 0 -3.7 0M1356.6 311.9a1.9 1.1 0 1 0 3.7 0a1.9 1.1 0 1 0 -3.7 0M1346.9 317.6a1.9 1.1 0 1 0 3.7 0a1.9 1.1 0 1 0 -3.7 0M1337.1 323.2a1.9 1.1 0 1 0 3.7 0a1.9 1.1 0 1 0 -3.7 0M1327.3 328.8a1.9 1.1 0 1 0 3.7 0a1.9 1.1 0 1 0 -3.7 0M1317.5 334.5a1.9 1.1 0 1 0 3.7 0a1.9 1.1 0 1 0 -3.7 0M1307.8 340.1a1.9 1.1 0 1 0 3.7 0a1.9 1.1 0 1 0 -3.7 0M1298.0 345.8a1.9 1.1 0 1 0 3.7 0a1.9 1.1 0 1 0 -3.7 0M1288.2 351.4a1.9 1.1 0 1 0 3.7 0a1.9 1.1 0 1 0 -3.7 0M1278.5 357.0a1.9 1.1 0 1 0 3.7 0a1.9 1.1 0 1 0 -3.7 0M1268.7 362.7a1.9 1.1 0 1 0 3.7 0a1.9 1.1 0 1 0 -3.7 0M1258.9 368.3a1.9 1.1 0 1 0 3.7 0a1.9 1.1 0 1 0 -3.7 0M1249.2 374.0a1.9 1.1 0 1 0 3.7 0a1.9 1.1 0 1 0 -3.7 0M1239.4 379.6a1.9 1.1 0 1 0 3.7 0a1.9 1.1 0 1 0 -3.7 0M1229.6 385.2a1.9 1.1 0 1 0 3.7 0a1.9 1.1 0 1 0 -3.7 0M1219.9 390.9a1.9 1.1 0 1 0 3.7 0a1.9 1.1 0 1 0 -3.7 0M1210.1 396.5a1.9 1.1 0 1 0 3.7 0a1.9 1.1 0 1 0 -3.7 0M1200.3 402.2a1.9 1.1 0 1 0 3.7 0a1.9 1.1 0 1 0 -3.7 0M1190.6 407.8a1.9 1.1 0 1 0 3.7 0a1.9 1.1 0 1 0 -3.7 0M1180.8 413.4a1.9 1.1 0 1 0 3.7 0a1.9 1.1 0 1 0 -3.7 0M1171.0 419.1a1.9 1.1 0 1 0 3.7 0a1.9 1.1 0 1 0 -3.7 0M1161.2 424.7a1.9 1.1 0 1 0 3.7 0a1.9 1.1 0 1 0 -3.7 0M1151.5 430.4a1.9 1.1 0 1 0 3.7 0a1.9 1.1 0 1 0 -3.7 0M1141.7 436.0a1.9 1.1 0 1 0 3.7 0a1.9 1.1 0 1 0 -3.7 0M1131.9 441.6a1.9 1.1 0 1 0 3.7 0a1.9 1.1 0 1 0 -3.7 0M1122.2 447.3a1.9 1.1 0 1 0 3.7 0a1.9 1.1 0 1 0 -3.7 0M1112.4 452.9a1.9 1.1 0 1 0 3.7 0a1.9 1.1 0 1 0 -3.7 0M1102.6 458.6a1.9 1.1 0 1 0 3.7 0a1.9 1.1 0 1 0 -3.7 0M1363.9 316.1a1.9 1.1 0 1 0 3.7 0a1.9 1.1 0 1 0 -3.7 0M1354.1 321.7a1.9 1.1 0 1 0 3.7 0a1.9 1.1 0 1 0 -3.7 0M1344.3 327.4a1.9 1.1 0 1 0 3.7 0a1.9 1.1 0 1 0 -3.7 0M1334.5 333.0a1.9 1.1 0 1 0 3.7 0a1.9 1.1 0 1 0 -3.7 0M1324.8 338.6a1.9 1.1 0 1 0 3.7 0a1.9 1.1 0 1 0 -3.7 0M1315.0 344.3a1.9 1.1 0 1 0 3.7 0a1.9 1.1 0 1 0 -3.7 0M1305.2 349.9a1.9 1.1 0 1 0 3.7 0a1.9 1.1 0 1 0 -3.7 0M1295.5 355.6a1.9 1.1 0 1 0 3.7 0a1.9 1.1 0 1 0 -3.7 0M1285.7 361.2a1.9 1.1 0 1 0 3.7 0a1.9 1.1 0 1 0 -3.7 0M1275.9 366.9a1.9 1.1 0 1 0 3.7 0a1.9 1.1 0 1 0 -3.7 0M1266.2 372.5a1.9 1.1 0 1 0 3.7 0a1.9 1.1 0 1 0 -3.7 0M1256.4 378.1a1.9 1.1 0 1 0 3.7 0a1.9 1.1 0 1 0 -3.7 0M1246.6 383.8a1.9 1.1 0 1 0 3.7 0a1.9 1.1 0 1 0 -3.7 0M1236.9 389.4a1.9 1.1 0 1 0 3.7 0a1.9 1.1 0 1 0 -3.7 0M1227.1 395.0a1.9 1.1 0 1 0 3.7 0a1.9 1.1 0 1 0 -3.7 0M1217.3 400.7a1.9 1.1 0 1 0 3.7 0a1.9 1.1 0 1 0 -3.7 0M1207.6 406.3a1.9 1.1 0 1 0 3.7 0a1.9 1.1 0 1 0 -3.7 0M1197.8 412.0a1.9 1.1 0 1 0 3.7 0a1.9 1.1 0 1 0 -3.7 0M1188.0 417.6a1.9 1.1 0 1 0 3.7 0a1.9 1.1 0 1 0 -3.7 0M1178.2 423.2a1.9 1.1 0 1 0 3.7 0a1.9 1.1 0 1 0 -3.7 0M1168.5 428.9a1.9 1.1 0 1 0 3.7 0a1.9 1.1 0 1 0 -3.7 0M1158.7 434.5a1.9 1.1 0 1 0 3.7 0a1.9 1.1 0 1 0 -3.7 0M1148.9 440.2a1.9 1.1 0 1 0 3.7 0a1.9 1.1 0 1 0 -3.7 0M1139.2 445.8a1.9 1.1 0 1 0 3.7 0a1.9 1.1 0 1 0 -3.7 0M1129.4 451.4a1.9 1.1 0 1 0 3.7 0a1.9 1.1 0 1 0 -3.7 0M1119.6 457.1a1.9 1.1 0 1 0 3.7 0a1.9 1.1 0 1 0 -3.7 0M1109.9 462.7a1.9 1.1 0 1 0 3.7 0a1.9 1.1 0 1 0 -3.7 0M1374.7 316.7a1.9 1.1 0 1 0 3.7 0a1.9 1.1 0 1 0 -3.7 0M1364.9 322.3a1.9 1.1 0 1 0 3.7 0a1.9 1.1 0 1 0 -3.7 0M1355.1 328.0a1.9 1.1 0 1 0 3.7 0a1.9 1.1 0 1 0 -3.7 0M1345.4 333.6a1.9 1.1 0 1 0 3.7 0a1.9 1.1 0 1 0 -3.7 0M1335.6 339.3a1.9 1.1 0 1 0 3.7 0a1.9 1.1 0 1 0 -3.7 0M1325.8 344.9a1.9 1.1 0 1 0 3.7 0a1.9 1.1 0 1 0 -3.7 0M1316.1 350.5a1.9 1.1 0 1 0 3.7 0a1.9 1.1 0 1 0 -3.7 0M1306.3 356.2a1.9 1.1 0 1 0 3.7 0a1.9 1.1 0 1 0 -3.7 0M1296.5 361.8a1.9 1.1 0 1 0 3.7 0a1.9 1.1 0 1 0 -3.7 0M1286.7 367.5a1.9 1.1 0 1 0 3.7 0a1.9 1.1 0 1 0 -3.7 0M1277.0 373.1a1.9 1.1 0 1 0 3.7 0a1.9 1.1 0 1 0 -3.7 0M1267.2 378.7a1.9 1.1 0 1 0 3.7 0a1.9 1.1 0 1 0 -3.7 0M1257.4 384.4a1.9 1.1 0 1 0 3.7 0a1.9 1.1 0 1 0 -3.7 0M1247.7 390.0a1.9 1.1 0 1 0 3.7 0a1.9 1.1 0 1 0 -3.7 0M1237.9 395.7a1.9 1.1 0 1 0 3.7 0a1.9 1.1 0 1 0 -3.7 0M1228.1 401.3a1.9 1.1 0 1 0 3.7 0a1.9 1.1 0 1 0 -3.7 0M1218.4 406.9a1.9 1.1 0 1 0 3.7 0a1.9 1.1 0 1 0 -3.7 0M1208.6 412.6a1.9 1.1 0 1 0 3.7 0a1.9 1.1 0 1 0 -3.7 0M1198.8 418.2a1.9 1.1 0 1 0 3.7 0a1.9 1.1 0 1 0 -3.7 0M1189.1 423.9a1.9 1.1 0 1 0 3.7 0a1.9 1.1 0 1 0 -3.7 0M1179.3 429.5a1.9 1.1 0 1 0 3.7 0a1.9 1.1 0 1 0 -3.7 0M1169.5 435.1a1.9 1.1 0 1 0 3.7 0a1.9 1.1 0 1 0 -3.7 0M1159.8 440.8a1.9 1.1 0 1 0 3.7 0a1.9 1.1 0 1 0 -3.7 0M1150.0 446.4a1.9 1.1 0 1 0 3.7 0a1.9 1.1 0 1 0 -3.7 0M1140.2 452.1a1.9 1.1 0 1 0 3.7 0a1.9 1.1 0 1 0 -3.7 0M1130.4 457.7a1.9 1.1 0 1 0 3.7 0a1.9 1.1 0 1 0 -3.7 0M1120.7 463.3a1.9 1.1 0 1 0 3.7 0a1.9 1.1 0 1 0 -3.7 0M1386.5 323.5a1.9 1.1 0 1 0 3.7 0a1.9 1.1 0 1 0 -3.7 0M1376.8 329.2a1.9 1.1 0 1 0 3.7 0a1.9 1.1 0 1 0 -3.7 0M1367.0 334.8a1.9 1.1 0 1 0 3.7 0a1.9 1.1 0 1 0 -3.7 0M1357.2 340.5a1.9 1.1 0 1 0 3.7 0a1.9 1.1 0 1 0 -3.7 0M1347.5 346.1a1.9 1.1 0 1 0 3.7 0a1.9 1.1 0 1 0 -3.7 0M1337.7 351.7a1.9 1.1 0 1 0 3.7 0a1.9 1.1 0 1 0 -3.7 0M1327.9 357.4a1.9 1.1 0 1 0 3.7 0a1.9 1.1 0 1 0 -3.7 0M1318.2 363.0a1.9 1.1 0 1 0 3.7 0a1.9 1.1 0 1 0 -3.7 0M1308.4 368.7a1.9 1.1 0 1 0 3.7 0a1.9 1.1 0 1 0 -3.7 0M1298.6 374.3a1.9 1.1 0 1 0 3.7 0a1.9 1.1 0 1 0 -3.7 0M1288.8 379.9a1.9 1.1 0 1 0 3.7 0a1.9 1.1 0 1 0 -3.7 0M1279.1 385.6a1.9 1.1 0 1 0 3.7 0a1.9 1.1 0 1 0 -3.7 0M1269.3 391.2a1.9 1.1 0 1 0 3.7 0a1.9 1.1 0 1 0 -3.7 0M1259.5 396.9a1.9 1.1 0 1 0 3.7 0a1.9 1.1 0 1 0 -3.7 0M1249.8 402.5a1.9 1.1 0 1 0 3.7 0a1.9 1.1 0 1 0 -3.7 0M1240.0 408.1a1.9 1.1 0 1 0 3.7 0a1.9 1.1 0 1 0 -3.7 0M1230.2 413.8a1.9 1.1 0 1 0 3.7 0a1.9 1.1 0 1 0 -3.7 0M1220.5 419.4a1.9 1.1 0 1 0 3.7 0a1.9 1.1 0 1 0 -3.7 0M1210.7 425.1a1.9 1.1 0 1 0 3.7 0a1.9 1.1 0 1 0 -3.7 0M1200.9 430.7a1.9 1.1 0 1 0 3.7 0a1.9 1.1 0 1 0 -3.7 0M1191.2 436.3a1.9 1.1 0 1 0 3.7 0a1.9 1.1 0 1 0 -3.7 0M1181.4 442.0a1.9 1.1 0 1 0 3.7 0a1.9 1.1 0 1 0 -3.7 0M1171.6 447.6a1.9 1.1 0 1 0 3.7 0a1.9 1.1 0 1 0 -3.7 0M1161.9 453.3a1.9 1.1 0 1 0 3.7 0a1.9 1.1 0 1 0 -3.7 0M1152.1 458.9a1.9 1.1 0 1 0 3.7 0a1.9 1.1 0 1 0 -3.7 0M1142.3 464.5a1.9 1.1 0 1 0 3.7 0a1.9 1.1 0 1 0 -3.7 0M1132.5 470.2a1.9 1.1 0 1 0 3.7 0a1.9 1.1 0 1 0 -3.7 0M1387.6 329.8a1.9 1.1 0 1 0 3.7 0a1.9 1.1 0 1 0 -3.7 0M1377.8 335.4a1.9 1.1 0 1 0 3.7 0a1.9 1.1 0 1 0 -3.7 0M1368.0 341.1a1.9 1.1 0 1 0 3.7 0a1.9 1.1 0 1 0 -3.7 0M1358.3 346.7a1.9 1.1 0 1 0 3.7 0a1.9 1.1 0 1 0 -3.7 0M1348.5 352.4a1.9 1.1 0 1 0 3.7 0a1.9 1.1 0 1 0 -3.7 0M1338.7 358.0a1.9 1.1 0 1 0 3.7 0a1.9 1.1 0 1 0 -3.7 0M1329.0 363.6a1.9 1.1 0 1 0 3.7 0a1.9 1.1 0 1 0 -3.7 0M1319.2 369.3a1.9 1.1 0 1 0 3.7 0a1.9 1.1 0 1 0 -3.7 0M1309.4 374.9a1.9 1.1 0 1 0 3.7 0a1.9 1.1 0 1 0 -3.7 0M1299.7 380.5a1.9 1.1 0 1 0 3.7 0a1.9 1.1 0 1 0 -3.7 0M1289.9 386.2a1.9 1.1 0 1 0 3.7 0a1.9 1.1 0 1 0 -3.7 0M1280.1 391.8a1.9 1.1 0 1 0 3.7 0a1.9 1.1 0 1 0 -3.7 0M1270.4 397.5a1.9 1.1 0 1 0 3.7 0a1.9 1.1 0 1 0 -3.7 0M1260.6 403.1a1.9 1.1 0 1 0 3.7 0a1.9 1.1 0 1 0 -3.7 0M1250.8 408.8a1.9 1.1 0 1 0 3.7 0a1.9 1.1 0 1 0 -3.7 0M1241.0 414.4a1.9 1.1 0 1 0 3.7 0a1.9 1.1 0 1 0 -3.7 0M1231.3 420.0a1.9 1.1 0 1 0 3.7 0a1.9 1.1 0 1 0 -3.7 0M1221.5 425.7a1.9 1.1 0 1 0 3.7 0a1.9 1.1 0 1 0 -3.7 0M1211.7 431.3a1.9 1.1 0 1 0 3.7 0a1.9 1.1 0 1 0 -3.7 0M1202.0 436.9a1.9 1.1 0 1 0 3.7 0a1.9 1.1 0 1 0 -3.7 0M1192.2 442.6a1.9 1.1 0 1 0 3.7 0a1.9 1.1 0 1 0 -3.7 0M1182.4 448.2a1.9 1.1 0 1 0 3.7 0a1.9 1.1 0 1 0 -3.7 0M1172.7 453.9a1.9 1.1 0 1 0 3.7 0a1.9 1.1 0 1 0 -3.7 0M1162.9 459.5a1.9 1.1 0 1 0 3.7 0a1.9 1.1 0 1 0 -3.7 0M1153.1 465.1a1.9 1.1 0 1 0 3.7 0a1.9 1.1 0 1 0 -3.7 0M1143.4 470.8a1.9 1.1 0 1 0 3.7 0a1.9 1.1 0 1 0 -3.7 0M1133.6 476.4a1.9 1.1 0 1 0 3.7 0a1.9 1.1 0 1 0 -3.7 0M1398.4 330.4a1.9 1.1 0 1 0 3.7 0a1.9 1.1 0 1 0 -3.7 0M1388.6 336.0a1.9 1.1 0 1 0 3.7 0a1.9 1.1 0 1 0 -3.7 0M1378.9 341.7a1.9 1.1 0 1 0 3.7 0a1.9 1.1 0 1 0 -3.7 0M1369.1 347.3a1.9 1.1 0 1 0 3.7 0a1.9 1.1 0 1 0 -3.7 0M1359.3 353.0a1.9 1.1 0 1 0 3.7 0a1.9 1.1 0 1 0 -3.7 0M1349.6 358.6a1.9 1.1 0 1 0 3.7 0a1.9 1.1 0 1 0 -3.7 0M1339.8 364.2a1.9 1.1 0 1 0 3.7 0a1.9 1.1 0 1 0 -3.7 0M1330.0 369.9a1.9 1.1 0 1 0 3.7 0a1.9 1.1 0 1 0 -3.7 0M1320.2 375.5a1.9 1.1 0 1 0 3.7 0a1.9 1.1 0 1 0 -3.7 0M1310.5 381.2a1.9 1.1 0 1 0 3.7 0a1.9 1.1 0 1 0 -3.7 0M1300.7 386.8a1.9 1.1 0 1 0 3.7 0a1.9 1.1 0 1 0 -3.7 0M1290.9 392.4a1.9 1.1 0 1 0 3.7 0a1.9 1.1 0 1 0 -3.7 0M1281.2 398.1a1.9 1.1 0 1 0 3.7 0a1.9 1.1 0 1 0 -3.7 0M1271.4 403.7a1.9 1.1 0 1 0 3.7 0a1.9 1.1 0 1 0 -3.7 0M1261.6 409.4a1.9 1.1 0 1 0 3.7 0a1.9 1.1 0 1 0 -3.7 0M1251.9 415.0a1.9 1.1 0 1 0 3.7 0a1.9 1.1 0 1 0 -3.7 0M1242.1 420.6a1.9 1.1 0 1 0 3.7 0a1.9 1.1 0 1 0 -3.7 0M1232.3 426.3a1.9 1.1 0 1 0 3.7 0a1.9 1.1 0 1 0 -3.7 0M1222.6 431.9a1.9 1.1 0 1 0 3.7 0a1.9 1.1 0 1 0 -3.7 0M1212.8 437.6a1.9 1.1 0 1 0 3.7 0a1.9 1.1 0 1 0 -3.7 0M1203.0 443.2a1.9 1.1 0 1 0 3.7 0a1.9 1.1 0 1 0 -3.7 0M1193.3 448.8a1.9 1.1 0 1 0 3.7 0a1.9 1.1 0 1 0 -3.7 0M1183.5 454.5a1.9 1.1 0 1 0 3.7 0a1.9 1.1 0 1 0 -3.7 0M1173.7 460.1a1.9 1.1 0 1 0 3.7 0a1.9 1.1 0 1 0 -3.7 0M1163.9 465.8a1.9 1.1 0 1 0 3.7 0a1.9 1.1 0 1 0 -3.7 0M1154.2 471.4a1.9 1.1 0 1 0 3.7 0a1.9 1.1 0 1 0 -3.7 0M1144.4 477.0a1.9 1.1 0 1 0 3.7 0a1.9 1.1 0 1 0 -3.7 0M1399.4 336.6a1.9 1.1 0 1 0 3.7 0a1.9 1.1 0 1 0 -3.7 0M1389.7 342.3a1.9 1.1 0 1 0 3.7 0a1.9 1.1 0 1 0 -3.7 0M1379.9 347.9a1.9 1.1 0 1 0 3.7 0a1.9 1.1 0 1 0 -3.7 0M1370.1 353.6a1.9 1.1 0 1 0 3.7 0a1.9 1.1 0 1 0 -3.7 0M1360.4 359.2a1.9 1.1 0 1 0 3.7 0a1.9 1.1 0 1 0 -3.7 0M1350.6 364.8a1.9 1.1 0 1 0 3.7 0a1.9 1.1 0 1 0 -3.7 0M1340.8 370.5a1.9 1.1 0 1 0 3.7 0a1.9 1.1 0 1 0 -3.7 0M1331.1 376.1a1.9 1.1 0 1 0 3.7 0a1.9 1.1 0 1 0 -3.7 0M1321.3 381.8a1.9 1.1 0 1 0 3.7 0a1.9 1.1 0 1 0 -3.7 0M1311.5 387.4a1.9 1.1 0 1 0 3.7 0a1.9 1.1 0 1 0 -3.7 0M1301.8 393.0a1.9 1.1 0 1 0 3.7 0a1.9 1.1 0 1 0 -3.7 0M1292.0 398.7a1.9 1.1 0 1 0 3.7 0a1.9 1.1 0 1 0 -3.7 0M1282.2 404.3a1.9 1.1 0 1 0 3.7 0a1.9 1.1 0 1 0 -3.7 0M1272.5 410.0a1.9 1.1 0 1 0 3.7 0a1.9 1.1 0 1 0 -3.7 0M1262.7 415.6a1.9 1.1 0 1 0 3.7 0a1.9 1.1 0 1 0 -3.7 0M1252.9 421.2a1.9 1.1 0 1 0 3.7 0a1.9 1.1 0 1 0 -3.7 0M1243.1 426.9a1.9 1.1 0 1 0 3.7 0a1.9 1.1 0 1 0 -3.7 0M1233.4 432.5a1.9 1.1 0 1 0 3.7 0a1.9 1.1 0 1 0 -3.7 0M1223.6 438.2a1.9 1.1 0 1 0 3.7 0a1.9 1.1 0 1 0 -3.7 0M1213.8 443.8a1.9 1.1 0 1 0 3.7 0a1.9 1.1 0 1 0 -3.7 0M1204.1 449.4a1.9 1.1 0 1 0 3.7 0a1.9 1.1 0 1 0 -3.7 0M1194.3 455.1a1.9 1.1 0 1 0 3.7 0a1.9 1.1 0 1 0 -3.7 0M1184.5 460.7a1.9 1.1 0 1 0 3.7 0a1.9 1.1 0 1 0 -3.7 0M1174.8 466.4a1.9 1.1 0 1 0 3.7 0a1.9 1.1 0 1 0 -3.7 0M1165.0 472.0a1.9 1.1 0 1 0 3.7 0a1.9 1.1 0 1 0 -3.7 0M1155.2 477.6a1.9 1.1 0 1 0 3.7 0a1.9 1.1 0 1 0 -3.7 0M1145.5 483.3a1.9 1.1 0 1 0 3.7 0a1.9 1.1 0 1 0 -3.7 0M1406.7 340.8a1.9 1.1 0 1 0 3.7 0a1.9 1.1 0 1 0 -3.7 0M1396.9 346.5a1.9 1.1 0 1 0 3.7 0a1.9 1.1 0 1 0 -3.7 0M1387.1 352.1a1.9 1.1 0 1 0 3.7 0a1.9 1.1 0 1 0 -3.7 0M1377.4 357.7a1.9 1.1 0 1 0 3.7 0a1.9 1.1 0 1 0 -3.7 0M1367.6 363.4a1.9 1.1 0 1 0 3.7 0a1.9 1.1 0 1 0 -3.7 0M1357.8 369.0a1.9 1.1 0 1 0 3.7 0a1.9 1.1 0 1 0 -3.7 0M1348.1 374.7a1.9 1.1 0 1 0 3.7 0a1.9 1.1 0 1 0 -3.7 0M1338.3 380.3a1.9 1.1 0 1 0 3.7 0a1.9 1.1 0 1 0 -3.7 0M1328.5 385.9a1.9 1.1 0 1 0 3.7 0a1.9 1.1 0 1 0 -3.7 0M1318.8 391.6a1.9 1.1 0 1 0 3.7 0a1.9 1.1 0 1 0 -3.7 0M1309.0 397.2a1.9 1.1 0 1 0 3.7 0a1.9 1.1 0 1 0 -3.7 0M1299.2 402.9a1.9 1.1 0 1 0 3.7 0a1.9 1.1 0 1 0 -3.7 0M1289.5 408.5a1.9 1.1 0 1 0 3.7 0a1.9 1.1 0 1 0 -3.7 0M1279.7 414.1a1.9 1.1 0 1 0 3.7 0a1.9 1.1 0 1 0 -3.7 0M1269.9 419.8a1.9 1.1 0 1 0 3.7 0a1.9 1.1 0 1 0 -3.7 0M1260.1 425.4a1.9 1.1 0 1 0 3.7 0a1.9 1.1 0 1 0 -3.7 0M1250.4 431.1a1.9 1.1 0 1 0 3.7 0a1.9 1.1 0 1 0 -3.7 0M1240.6 436.7a1.9 1.1 0 1 0 3.7 0a1.9 1.1 0 1 0 -3.7 0M1230.8 442.3a1.9 1.1 0 1 0 3.7 0a1.9 1.1 0 1 0 -3.7 0M1221.1 448.0a1.9 1.1 0 1 0 3.7 0a1.9 1.1 0 1 0 -3.7 0M1211.3 453.6a1.9 1.1 0 1 0 3.7 0a1.9 1.1 0 1 0 -3.7 0M1201.5 459.3a1.9 1.1 0 1 0 3.7 0a1.9 1.1 0 1 0 -3.7 0M1191.8 464.9a1.9 1.1 0 1 0 3.7 0a1.9 1.1 0 1 0 -3.7 0M1182.0 470.5a1.9 1.1 0 1 0 3.7 0a1.9 1.1 0 1 0 -3.7 0M1172.2 476.2a1.9 1.1 0 1 0 3.7 0a1.9 1.1 0 1 0 -3.7 0M1162.5 481.8a1.9 1.1 0 1 0 3.7 0a1.9 1.1 0 1 0 -3.7 0M1152.7 487.5a1.9 1.1 0 1 0 3.7 0a1.9 1.1 0 1 0 -3.7 0M1417.5 341.4a1.9 1.1 0 1 0 3.7 0a1.9 1.1 0 1 0 -3.7 0M1407.7 347.1a1.9 1.1 0 1 0 3.7 0a1.9 1.1 0 1 0 -3.7 0M1398.0 352.7a1.9 1.1 0 1 0 3.7 0a1.9 1.1 0 1 0 -3.7 0M1388.2 358.3a1.9 1.1 0 1 0 3.7 0a1.9 1.1 0 1 0 -3.7 0M1378.4 364.0a1.9 1.1 0 1 0 3.7 0a1.9 1.1 0 1 0 -3.7 0M1368.6 369.6a1.9 1.1 0 1 0 3.7 0a1.9 1.1 0 1 0 -3.7 0M1358.9 375.3a1.9 1.1 0 1 0 3.7 0a1.9 1.1 0 1 0 -3.7 0M1349.1 380.9a1.9 1.1 0 1 0 3.7 0a1.9 1.1 0 1 0 -3.7 0M1339.3 386.5a1.9 1.1 0 1 0 3.7 0a1.9 1.1 0 1 0 -3.7 0M1329.6 392.2a1.9 1.1 0 1 0 3.7 0a1.9 1.1 0 1 0 -3.7 0M1319.8 397.8a1.9 1.1 0 1 0 3.7 0a1.9 1.1 0 1 0 -3.7 0M1310.0 403.5a1.9 1.1 0 1 0 3.7 0a1.9 1.1 0 1 0 -3.7 0M1300.3 409.1a1.9 1.1 0 1 0 3.7 0a1.9 1.1 0 1 0 -3.7 0M1290.5 414.7a1.9 1.1 0 1 0 3.7 0a1.9 1.1 0 1 0 -3.7 0M1280.7 420.4a1.9 1.1 0 1 0 3.7 0a1.9 1.1 0 1 0 -3.7 0M1271.0 426.0a1.9 1.1 0 1 0 3.7 0a1.9 1.1 0 1 0 -3.7 0M1261.2 431.7a1.9 1.1 0 1 0 3.7 0a1.9 1.1 0 1 0 -3.7 0M1251.4 437.3a1.9 1.1 0 1 0 3.7 0a1.9 1.1 0 1 0 -3.7 0M1241.7 442.9a1.9 1.1 0 1 0 3.7 0a1.9 1.1 0 1 0 -3.7 0M1231.9 448.6a1.9 1.1 0 1 0 3.7 0a1.9 1.1 0 1 0 -3.7 0M1222.1 454.2a1.9 1.1 0 1 0 3.7 0a1.9 1.1 0 1 0 -3.7 0M1212.3 459.9a1.9 1.1 0 1 0 3.7 0a1.9 1.1 0 1 0 -3.7 0M1202.6 465.5a1.9 1.1 0 1 0 3.7 0a1.9 1.1 0 1 0 -3.7 0M1192.8 471.1a1.9 1.1 0 1 0 3.7 0a1.9 1.1 0 1 0 -3.7 0M1183.0 476.8a1.9 1.1 0 1 0 3.7 0a1.9 1.1 0 1 0 -3.7 0M1173.3 482.4a1.9 1.1 0 1 0 3.7 0a1.9 1.1 0 1 0 -3.7 0M1163.5 488.1a1.9 1.1 0 1 0 3.7 0a1.9 1.1 0 1 0 -3.7 0M1429.4 348.3a1.9 1.1 0 1 0 3.7 0a1.9 1.1 0 1 0 -3.7 0M1419.6 353.9a1.9 1.1 0 1 0 3.7 0a1.9 1.1 0 1 0 -3.7 0M1409.8 359.5a1.9 1.1 0 1 0 3.7 0a1.9 1.1 0 1 0 -3.7 0M1400.1 365.2a1.9 1.1 0 1 0 3.7 0a1.9 1.1 0 1 0 -3.7 0M1390.3 370.8a1.9 1.1 0 1 0 3.7 0a1.9 1.1 0 1 0 -3.7 0M1380.5 376.5a1.9 1.1 0 1 0 3.7 0a1.9 1.1 0 1 0 -3.7 0M1370.7 382.1a1.9 1.1 0 1 0 3.7 0a1.9 1.1 0 1 0 -3.7 0M1361.0 387.8a1.9 1.1 0 1 0 3.7 0a1.9 1.1 0 1 0 -3.7 0M1351.2 393.4a1.9 1.1 0 1 0 3.7 0a1.9 1.1 0 1 0 -3.7 0M1341.4 399.0a1.9 1.1 0 1 0 3.7 0a1.9 1.1 0 1 0 -3.7 0M1331.7 404.7a1.9 1.1 0 1 0 3.7 0a1.9 1.1 0 1 0 -3.7 0M1321.9 410.3a1.9 1.1 0 1 0 3.7 0a1.9 1.1 0 1 0 -3.7 0M1312.1 415.9a1.9 1.1 0 1 0 3.7 0a1.9 1.1 0 1 0 -3.7 0M1302.4 421.6a1.9 1.1 0 1 0 3.7 0a1.9 1.1 0 1 0 -3.7 0M1292.6 427.2a1.9 1.1 0 1 0 3.7 0a1.9 1.1 0 1 0 -3.7 0M1282.8 432.9a1.9 1.1 0 1 0 3.7 0a1.9 1.1 0 1 0 -3.7 0M1273.1 438.5a1.9 1.1 0 1 0 3.7 0a1.9 1.1 0 1 0 -3.7 0M1263.3 444.1a1.9 1.1 0 1 0 3.7 0a1.9 1.1 0 1 0 -3.7 0M1253.5 449.8a1.9 1.1 0 1 0 3.7 0a1.9 1.1 0 1 0 -3.7 0M1243.8 455.4a1.9 1.1 0 1 0 3.7 0a1.9 1.1 0 1 0 -3.7 0M1234.0 461.1a1.9 1.1 0 1 0 3.7 0a1.9 1.1 0 1 0 -3.7 0M1224.2 466.7a1.9 1.1 0 1 0 3.7 0a1.9 1.1 0 1 0 -3.7 0M1214.4 472.4a1.9 1.1 0 1 0 3.7 0a1.9 1.1 0 1 0 -3.7 0M1204.7 478.0a1.9 1.1 0 1 0 3.7 0a1.9 1.1 0 1 0 -3.7 0M1194.9 483.6a1.9 1.1 0 1 0 3.7 0a1.9 1.1 0 1 0 -3.7 0M1185.1 489.3a1.9 1.1 0 1 0 3.7 0a1.9 1.1 0 1 0 -3.7 0M1175.4 494.9a1.9 1.1 0 1 0 3.7 0a1.9 1.1 0 1 0 -3.7 0M1430.4 354.5a1.9 1.1 0 1 0 3.7 0a1.9 1.1 0 1 0 -3.7 0M1420.6 360.2a1.9 1.1 0 1 0 3.7 0a1.9 1.1 0 1 0 -3.7 0M1410.9 365.8a1.9 1.1 0 1 0 3.7 0a1.9 1.1 0 1 0 -3.7 0M1401.1 371.4a1.9 1.1 0 1 0 3.7 0a1.9 1.1 0 1 0 -3.7 0M1391.3 377.1a1.9 1.1 0 1 0 3.7 0a1.9 1.1 0 1 0 -3.7 0M1381.6 382.7a1.9 1.1 0 1 0 3.7 0a1.9 1.1 0 1 0 -3.7 0M1371.8 388.4a1.9 1.1 0 1 0 3.7 0a1.9 1.1 0 1 0 -3.7 0M1362.0 394.0a1.9 1.1 0 1 0 3.7 0a1.9 1.1 0 1 0 -3.7 0M1352.3 399.6a1.9 1.1 0 1 0 3.7 0a1.9 1.1 0 1 0 -3.7 0M1342.5 405.3a1.9 1.1 0 1 0 3.7 0a1.9 1.1 0 1 0 -3.7 0M1332.7 410.9a1.9 1.1 0 1 0 3.7 0a1.9 1.1 0 1 0 -3.7 0M1322.9 416.6a1.9 1.1 0 1 0 3.7 0a1.9 1.1 0 1 0 -3.7 0M1313.2 422.2a1.9 1.1 0 1 0 3.7 0a1.9 1.1 0 1 0 -3.7 0M1303.4 427.8a1.9 1.1 0 1 0 3.7 0a1.9 1.1 0 1 0 -3.7 0M1293.6 433.5a1.9 1.1 0 1 0 3.7 0a1.9 1.1 0 1 0 -3.7 0M1283.9 439.1a1.9 1.1 0 1 0 3.7 0a1.9 1.1 0 1 0 -3.7 0M1274.1 444.8a1.9 1.1 0 1 0 3.7 0a1.9 1.1 0 1 0 -3.7 0M1264.3 450.4a1.9 1.1 0 1 0 3.7 0a1.9 1.1 0 1 0 -3.7 0M1254.6 456.0a1.9 1.1 0 1 0 3.7 0a1.9 1.1 0 1 0 -3.7 0M1244.8 461.7a1.9 1.1 0 1 0 3.7 0a1.9 1.1 0 1 0 -3.7 0M1235.0 467.3a1.9 1.1 0 1 0 3.7 0a1.9 1.1 0 1 0 -3.7 0M1225.3 473.0a1.9 1.1 0 1 0 3.7 0a1.9 1.1 0 1 0 -3.7 0M1215.5 478.6a1.9 1.1 0 1 0 3.7 0a1.9 1.1 0 1 0 -3.7 0M1205.7 484.2a1.9 1.1 0 1 0 3.7 0a1.9 1.1 0 1 0 -3.7 0M1196.0 489.9a1.9 1.1 0 1 0 3.7 0a1.9 1.1 0 1 0 -3.7 0M1186.2 495.5a1.9 1.1 0 1 0 3.7 0a1.9 1.1 0 1 0 -3.7 0M1176.4 501.2a1.9 1.1 0 1 0 3.7 0a1.9 1.1 0 1 0 -3.7 0M1441.2 355.1a1.9 1.1 0 1 0 3.7 0a1.9 1.1 0 1 0 -3.7 0M1431.5 360.8a1.9 1.1 0 1 0 3.7 0a1.9 1.1 0 1 0 -3.7 0M1421.7 366.4a1.9 1.1 0 1 0 3.7 0a1.9 1.1 0 1 0 -3.7 0M1411.9 372.0a1.9 1.1 0 1 0 3.7 0a1.9 1.1 0 1 0 -3.7 0M1402.1 377.7a1.9 1.1 0 1 0 3.7 0a1.9 1.1 0 1 0 -3.7 0M1392.4 383.3a1.9 1.1 0 1 0 3.7 0a1.9 1.1 0 1 0 -3.7 0M1382.6 389.0a1.9 1.1 0 1 0 3.7 0a1.9 1.1 0 1 0 -3.7 0M1372.8 394.6a1.9 1.1 0 1 0 3.7 0a1.9 1.1 0 1 0 -3.7 0M1363.1 400.2a1.9 1.1 0 1 0 3.7 0a1.9 1.1 0 1 0 -3.7 0M1353.3 405.9a1.9 1.1 0 1 0 3.7 0a1.9 1.1 0 1 0 -3.7 0M1343.5 411.5a1.9 1.1 0 1 0 3.7 0a1.9 1.1 0 1 0 -3.7 0M1333.8 417.2a1.9 1.1 0 1 0 3.7 0a1.9 1.1 0 1 0 -3.7 0M1324.0 422.8a1.9 1.1 0 1 0 3.7 0a1.9 1.1 0 1 0 -3.7 0M1314.2 428.4a1.9 1.1 0 1 0 3.7 0a1.9 1.1 0 1 0 -3.7 0M1304.5 434.1a1.9 1.1 0 1 0 3.7 0a1.9 1.1 0 1 0 -3.7 0M1294.7 439.7a1.9 1.1 0 1 0 3.7 0a1.9 1.1 0 1 0 -3.7 0M1284.9 445.4a1.9 1.1 0 1 0 3.7 0a1.9 1.1 0 1 0 -3.7 0M1275.2 451.0a1.9 1.1 0 1 0 3.7 0a1.9 1.1 0 1 0 -3.7 0M1265.4 456.6a1.9 1.1 0 1 0 3.7 0a1.9 1.1 0 1 0 -3.7 0M1255.6 462.3a1.9 1.1 0 1 0 3.7 0a1.9 1.1 0 1 0 -3.7 0M1245.8 467.9a1.9 1.1 0 1 0 3.7 0a1.9 1.1 0 1 0 -3.7 0M1236.1 473.6a1.9 1.1 0 1 0 3.7 0a1.9 1.1 0 1 0 -3.7 0M1226.3 479.2a1.9 1.1 0 1 0 3.7 0a1.9 1.1 0 1 0 -3.7 0M1216.5 484.8a1.9 1.1 0 1 0 3.7 0a1.9 1.1 0 1 0 -3.7 0M1206.8 490.5a1.9 1.1 0 1 0 3.7 0a1.9 1.1 0 1 0 -3.7 0M1197.0 496.1a1.9 1.1 0 1 0 3.7 0a1.9 1.1 0 1 0 -3.7 0M1187.2 501.8a1.9 1.1 0 1 0 3.7 0a1.9 1.1 0 1 0 -3.7 0M1442.3 361.4a1.9 1.1 0 1 0 3.7 0a1.9 1.1 0 1 0 -3.7 0M1432.5 367.0a1.9 1.1 0 1 0 3.7 0a1.9 1.1 0 1 0 -3.7 0M1422.7 372.6a1.9 1.1 0 1 0 3.7 0a1.9 1.1 0 1 0 -3.7 0M1413.0 378.3a1.9 1.1 0 1 0 3.7 0a1.9 1.1 0 1 0 -3.7 0M1403.2 383.9a1.9 1.1 0 1 0 3.7 0a1.9 1.1 0 1 0 -3.7 0M1393.4 389.6a1.9 1.1 0 1 0 3.7 0a1.9 1.1 0 1 0 -3.7 0M1383.7 395.2a1.9 1.1 0 1 0 3.7 0a1.9 1.1 0 1 0 -3.7 0M1373.9 400.8a1.9 1.1 0 1 0 3.7 0a1.9 1.1 0 1 0 -3.7 0M1364.1 406.5a1.9 1.1 0 1 0 3.7 0a1.9 1.1 0 1 0 -3.7 0M1354.4 412.1a1.9 1.1 0 1 0 3.7 0a1.9 1.1 0 1 0 -3.7 0M1344.6 417.8a1.9 1.1 0 1 0 3.7 0a1.9 1.1 0 1 0 -3.7 0M1334.8 423.4a1.9 1.1 0 1 0 3.7 0a1.9 1.1 0 1 0 -3.7 0M1325.0 429.0a1.9 1.1 0 1 0 3.7 0a1.9 1.1 0 1 0 -3.7 0M1315.3 434.7a1.9 1.1 0 1 0 3.7 0a1.9 1.1 0 1 0 -3.7 0M1305.5 440.3a1.9 1.1 0 1 0 3.7 0a1.9 1.1 0 1 0 -3.7 0M1295.7 446.0a1.9 1.1 0 1 0 3.7 0a1.9 1.1 0 1 0 -3.7 0M1286.0 451.6a1.9 1.1 0 1 0 3.7 0a1.9 1.1 0 1 0 -3.7 0M1276.2 457.2a1.9 1.1 0 1 0 3.7 0a1.9 1.1 0 1 0 -3.7 0M1266.4 462.9a1.9 1.1 0 1 0 3.7 0a1.9 1.1 0 1 0 -3.7 0M1256.7 468.5a1.9 1.1 0 1 0 3.7 0a1.9 1.1 0 1 0 -3.7 0M1246.9 474.2a1.9 1.1 0 1 0 3.7 0a1.9 1.1 0 1 0 -3.7 0M1237.1 479.8a1.9 1.1 0 1 0 3.7 0a1.9 1.1 0 1 0 -3.7 0M1227.4 485.4a1.9 1.1 0 1 0 3.7 0a1.9 1.1 0 1 0 -3.7 0M1217.6 491.1a1.9 1.1 0 1 0 3.7 0a1.9 1.1 0 1 0 -3.7 0M1207.8 496.7a1.9 1.1 0 1 0 3.7 0a1.9 1.1 0 1 0 -3.7 0M1198.1 502.4a1.9 1.1 0 1 0 3.7 0a1.9 1.1 0 1 0 -3.7 0M1188.3 508.0a1.9 1.1 0 1 0 3.7 0a1.9 1.1 0 1 0 -3.7 0M1449.5 365.5a1.9 1.1 0 1 0 3.7 0a1.9 1.1 0 1 0 -3.7 0M1439.7 371.2a1.9 1.1 0 1 0 3.7 0a1.9 1.1 0 1 0 -3.7 0M1430.0 376.8a1.9 1.1 0 1 0 3.7 0a1.9 1.1 0 1 0 -3.7 0M1420.2 382.5a1.9 1.1 0 1 0 3.7 0a1.9 1.1 0 1 0 -3.7 0M1410.4 388.1a1.9 1.1 0 1 0 3.7 0a1.9 1.1 0 1 0 -3.7 0M1400.7 393.7a1.9 1.1 0 1 0 3.7 0a1.9 1.1 0 1 0 -3.7 0M1390.9 399.4a1.9 1.1 0 1 0 3.7 0a1.9 1.1 0 1 0 -3.7 0M1381.1 405.0a1.9 1.1 0 1 0 3.7 0a1.9 1.1 0 1 0 -3.7 0M1371.4 410.7a1.9 1.1 0 1 0 3.7 0a1.9 1.1 0 1 0 -3.7 0M1361.6 416.3a1.9 1.1 0 1 0 3.7 0a1.9 1.1 0 1 0 -3.7 0M1351.8 421.9a1.9 1.1 0 1 0 3.7 0a1.9 1.1 0 1 0 -3.7 0M1342.0 427.6a1.9 1.1 0 1 0 3.7 0a1.9 1.1 0 1 0 -3.7 0M1332.3 433.2a1.9 1.1 0 1 0 3.7 0a1.9 1.1 0 1 0 -3.7 0M1322.5 438.9a1.9 1.1 0 1 0 3.7 0a1.9 1.1 0 1 0 -3.7 0M1312.7 444.5a1.9 1.1 0 1 0 3.7 0a1.9 1.1 0 1 0 -3.7 0M1303.0 450.1a1.9 1.1 0 1 0 3.7 0a1.9 1.1 0 1 0 -3.7 0M1293.2 455.8a1.9 1.1 0 1 0 3.7 0a1.9 1.1 0 1 0 -3.7 0M1283.4 461.4a1.9 1.1 0 1 0 3.7 0a1.9 1.1 0 1 0 -3.7 0M1273.7 467.1a1.9 1.1 0 1 0 3.7 0a1.9 1.1 0 1 0 -3.7 0M1263.9 472.7a1.9 1.1 0 1 0 3.7 0a1.9 1.1 0 1 0 -3.7 0M1254.1 478.3a1.9 1.1 0 1 0 3.7 0a1.9 1.1 0 1 0 -3.7 0M1244.4 484.0a1.9 1.1 0 1 0 3.7 0a1.9 1.1 0 1 0 -3.7 0M1234.6 489.6a1.9 1.1 0 1 0 3.7 0a1.9 1.1 0 1 0 -3.7 0M1224.8 495.3a1.9 1.1 0 1 0 3.7 0a1.9 1.1 0 1 0 -3.7 0M1215.1 500.9a1.9 1.1 0 1 0 3.7 0a1.9 1.1 0 1 0 -3.7 0M1205.3 506.5a1.9 1.1 0 1 0 3.7 0a1.9 1.1 0 1 0 -3.7 0M1195.5 512.2a1.9 1.1 0 1 0 3.7 0a1.9 1.1 0 1 0 -3.7 0M1460.3 366.1a1.9 1.1 0 1 0 3.7 0a1.9 1.1 0 1 0 -3.7 0M1450.5 371.8a1.9 1.1 0 1 0 3.7 0a1.9 1.1 0 1 0 -3.7 0M1440.8 377.4a1.9 1.1 0 1 0 3.7 0a1.9 1.1 0 1 0 -3.7 0M1431.0 383.1a1.9 1.1 0 1 0 3.7 0a1.9 1.1 0 1 0 -3.7 0M1421.2 388.7a1.9 1.1 0 1 0 3.7 0a1.9 1.1 0 1 0 -3.7 0M1411.5 394.3a1.9 1.1 0 1 0 3.7 0a1.9 1.1 0 1 0 -3.7 0M1401.7 400.0a1.9 1.1 0 1 0 3.7 0a1.9 1.1 0 1 0 -3.7 0M1391.9 405.6a1.9 1.1 0 1 0 3.7 0a1.9 1.1 0 1 0 -3.7 0M1382.2 411.3a1.9 1.1 0 1 0 3.7 0a1.9 1.1 0 1 0 -3.7 0M1372.4 416.9a1.9 1.1 0 1 0 3.7 0a1.9 1.1 0 1 0 -3.7 0M1362.6 422.5a1.9 1.1 0 1 0 3.7 0a1.9 1.1 0 1 0 -3.7 0M1352.9 428.2a1.9 1.1 0 1 0 3.7 0a1.9 1.1 0 1 0 -3.7 0M1343.1 433.8a1.9 1.1 0 1 0 3.7 0a1.9 1.1 0 1 0 -3.7 0M1333.3 439.5a1.9 1.1 0 1 0 3.7 0a1.9 1.1 0 1 0 -3.7 0M1323.6 445.1a1.9 1.1 0 1 0 3.7 0a1.9 1.1 0 1 0 -3.7 0M1313.8 450.7a1.9 1.1 0 1 0 3.7 0a1.9 1.1 0 1 0 -3.7 0M1304.0 456.4a1.9 1.1 0 1 0 3.7 0a1.9 1.1 0 1 0 -3.7 0M1294.2 462.0a1.9 1.1 0 1 0 3.7 0a1.9 1.1 0 1 0 -3.7 0M1284.5 467.7a1.9 1.1 0 1 0 3.7 0a1.9 1.1 0 1 0 -3.7 0M1274.7 473.3a1.9 1.1 0 1 0 3.7 0a1.9 1.1 0 1 0 -3.7 0M1264.9 478.9a1.9 1.1 0 1 0 3.7 0a1.9 1.1 0 1 0 -3.7 0M1255.2 484.6a1.9 1.1 0 1 0 3.7 0a1.9 1.1 0 1 0 -3.7 0M1245.4 490.2a1.9 1.1 0 1 0 3.7 0a1.9 1.1 0 1 0 -3.7 0M1235.6 495.9a1.9 1.1 0 1 0 3.7 0a1.9 1.1 0 1 0 -3.7 0M1225.9 501.5a1.9 1.1 0 1 0 3.7 0a1.9 1.1 0 1 0 -3.7 0M1216.1 507.1a1.9 1.1 0 1 0 3.7 0a1.9 1.1 0 1 0 -3.7 0M1206.3 512.8a1.9 1.1 0 1 0 3.7 0a1.9 1.1 0 1 0 -3.7 0M1472.2 373.0a1.9 1.1 0 1 0 3.7 0a1.9 1.1 0 1 0 -3.7 0M1462.4 378.6a1.9 1.1 0 1 0 3.7 0a1.9 1.1 0 1 0 -3.7 0M1452.6 384.3a1.9 1.1 0 1 0 3.7 0a1.9 1.1 0 1 0 -3.7 0M1442.9 389.9a1.9 1.1 0 1 0 3.7 0a1.9 1.1 0 1 0 -3.7 0M1433.1 395.6a1.9 1.1 0 1 0 3.7 0a1.9 1.1 0 1 0 -3.7 0M1423.3 401.2a1.9 1.1 0 1 0 3.7 0a1.9 1.1 0 1 0 -3.7 0M1413.6 406.8a1.9 1.1 0 1 0 3.7 0a1.9 1.1 0 1 0 -3.7 0M1403.8 412.5a1.9 1.1 0 1 0 3.7 0a1.9 1.1 0 1 0 -3.7 0M1394.0 418.1a1.9 1.1 0 1 0 3.7 0a1.9 1.1 0 1 0 -3.7 0M1384.3 423.8a1.9 1.1 0 1 0 3.7 0a1.9 1.1 0 1 0 -3.7 0M1374.5 429.4a1.9 1.1 0 1 0 3.7 0a1.9 1.1 0 1 0 -3.7 0M1364.7 435.0a1.9 1.1 0 1 0 3.7 0a1.9 1.1 0 1 0 -3.7 0M1355.0 440.7a1.9 1.1 0 1 0 3.7 0a1.9 1.1 0 1 0 -3.7 0M1345.2 446.3a1.9 1.1 0 1 0 3.7 0a1.9 1.1 0 1 0 -3.7 0M1335.4 452.0a1.9 1.1 0 1 0 3.7 0a1.9 1.1 0 1 0 -3.7 0M1325.7 457.6a1.9 1.1 0 1 0 3.7 0a1.9 1.1 0 1 0 -3.7 0M1315.9 463.2a1.9 1.1 0 1 0 3.7 0a1.9 1.1 0 1 0 -3.7 0M1306.1 468.9a1.9 1.1 0 1 0 3.7 0a1.9 1.1 0 1 0 -3.7 0M1296.3 474.5a1.9 1.1 0 1 0 3.7 0a1.9 1.1 0 1 0 -3.7 0M1286.6 480.2a1.9 1.1 0 1 0 3.7 0a1.9 1.1 0 1 0 -3.7 0M1276.8 485.8a1.9 1.1 0 1 0 3.7 0a1.9 1.1 0 1 0 -3.7 0M1267.0 491.4a1.9 1.1 0 1 0 3.7 0a1.9 1.1 0 1 0 -3.7 0M1257.3 497.1a1.9 1.1 0 1 0 3.7 0a1.9 1.1 0 1 0 -3.7 0M1247.5 502.7a1.9 1.1 0 1 0 3.7 0a1.9 1.1 0 1 0 -3.7 0M1237.7 508.4a1.9 1.1 0 1 0 3.7 0a1.9 1.1 0 1 0 -3.7 0M1228.0 514.0a1.9 1.1 0 1 0 3.7 0a1.9 1.1 0 1 0 -3.7 0M1218.2 519.6a1.9 1.1 0 1 0 3.7 0a1.9 1.1 0 1 0 -3.7 0M1473.2 379.2a1.9 1.1 0 1 0 3.7 0a1.9 1.1 0 1 0 -3.7 0M1463.5 384.9a1.9 1.1 0 1 0 3.7 0a1.9 1.1 0 1 0 -3.7 0M1453.7 390.5a1.9 1.1 0 1 0 3.7 0a1.9 1.1 0 1 0 -3.7 0M1443.9 396.2a1.9 1.1 0 1 0 3.7 0a1.9 1.1 0 1 0 -3.7 0M1434.2 401.8a1.9 1.1 0 1 0 3.7 0a1.9 1.1 0 1 0 -3.7 0M1424.4 407.4a1.9 1.1 0 1 0 3.7 0a1.9 1.1 0 1 0 -3.7 0M1414.6 413.1a1.9 1.1 0 1 0 3.7 0a1.9 1.1 0 1 0 -3.7 0M1404.8 418.7a1.9 1.1 0 1 0 3.7 0a1.9 1.1 0 1 0 -3.7 0M1395.1 424.4a1.9 1.1 0 1 0 3.7 0a1.9 1.1 0 1 0 -3.7 0M1385.3 430.0a1.9 1.1 0 1 0 3.7 0a1.9 1.1 0 1 0 -3.7 0M1375.5 435.6a1.9 1.1 0 1 0 3.7 0a1.9 1.1 0 1 0 -3.7 0M1365.8 441.3a1.9 1.1 0 1 0 3.7 0a1.9 1.1 0 1 0 -3.7 0M1356.0 446.9a1.9 1.1 0 1 0 3.7 0a1.9 1.1 0 1 0 -3.7 0M1346.2 452.6a1.9 1.1 0 1 0 3.7 0a1.9 1.1 0 1 0 -3.7 0M1336.5 458.2a1.9 1.1 0 1 0 3.7 0a1.9 1.1 0 1 0 -3.7 0M1326.7 463.8a1.9 1.1 0 1 0 3.7 0a1.9 1.1 0 1 0 -3.7 0M1316.9 469.5a1.9 1.1 0 1 0 3.7 0a1.9 1.1 0 1 0 -3.7 0M1307.2 475.1a1.9 1.1 0 1 0 3.7 0a1.9 1.1 0 1 0 -3.7 0M1297.4 480.8a1.9 1.1 0 1 0 3.7 0a1.9 1.1 0 1 0 -3.7 0M1287.6 486.4a1.9 1.1 0 1 0 3.7 0a1.9 1.1 0 1 0 -3.7 0M1277.9 492.0a1.9 1.1 0 1 0 3.7 0a1.9 1.1 0 1 0 -3.7 0M1268.1 497.7a1.9 1.1 0 1 0 3.7 0a1.9 1.1 0 1 0 -3.7 0M1258.3 503.3a1.9 1.1 0 1 0 3.7 0a1.9 1.1 0 1 0 -3.7 0M1248.5 509.0a1.9 1.1 0 1 0 3.7 0a1.9 1.1 0 1 0 -3.7 0M1238.8 514.6a1.9 1.1 0 1 0 3.7 0a1.9 1.1 0 1 0 -3.7 0M1229.0 520.2a1.9 1.1 0 1 0 3.7 0a1.9 1.1 0 1 0 -3.7 0M1219.2 525.9a1.9 1.1 0 1 0 3.7 0a1.9 1.1 0 1 0 -3.7 0M1484.0 379.8a1.9 1.1 0 1 0 3.7 0a1.9 1.1 0 1 0 -3.7 0M1474.3 385.5a1.9 1.1 0 1 0 3.7 0a1.9 1.1 0 1 0 -3.7 0M1464.5 391.1a1.9 1.1 0 1 0 3.7 0a1.9 1.1 0 1 0 -3.7 0M1454.7 396.8a1.9 1.1 0 1 0 3.7 0a1.9 1.1 0 1 0 -3.7 0M1445.0 402.4a1.9 1.1 0 1 0 3.7 0a1.9 1.1 0 1 0 -3.7 0M1435.2 408.0a1.9 1.1 0 1 0 3.7 0a1.9 1.1 0 1 0 -3.7 0M1425.4 413.7a1.9 1.1 0 1 0 3.7 0a1.9 1.1 0 1 0 -3.7 0M1415.7 419.3a1.9 1.1 0 1 0 3.7 0a1.9 1.1 0 1 0 -3.7 0M1405.9 425.0a1.9 1.1 0 1 0 3.7 0a1.9 1.1 0 1 0 -3.7 0M1396.1 430.6a1.9 1.1 0 1 0 3.7 0a1.9 1.1 0 1 0 -3.7 0M1386.4 436.2a1.9 1.1 0 1 0 3.7 0a1.9 1.1 0 1 0 -3.7 0M1376.6 441.9a1.9 1.1 0 1 0 3.7 0a1.9 1.1 0 1 0 -3.7 0M1366.8 447.5a1.9 1.1 0 1 0 3.7 0a1.9 1.1 0 1 0 -3.7 0M1357.1 453.2a1.9 1.1 0 1 0 3.7 0a1.9 1.1 0 1 0 -3.7 0M1347.3 458.8a1.9 1.1 0 1 0 3.7 0a1.9 1.1 0 1 0 -3.7 0M1337.5 464.4a1.9 1.1 0 1 0 3.7 0a1.9 1.1 0 1 0 -3.7 0M1327.7 470.1a1.9 1.1 0 1 0 3.7 0a1.9 1.1 0 1 0 -3.7 0M1318.0 475.7a1.9 1.1 0 1 0 3.7 0a1.9 1.1 0 1 0 -3.7 0M1308.2 481.4a1.9 1.1 0 1 0 3.7 0a1.9 1.1 0 1 0 -3.7 0M1298.4 487.0a1.9 1.1 0 1 0 3.7 0a1.9 1.1 0 1 0 -3.7 0M1288.7 492.6a1.9 1.1 0 1 0 3.7 0a1.9 1.1 0 1 0 -3.7 0M1278.9 498.3a1.9 1.1 0 1 0 3.7 0a1.9 1.1 0 1 0 -3.7 0M1269.1 503.9a1.9 1.1 0 1 0 3.7 0a1.9 1.1 0 1 0 -3.7 0M1259.4 509.6a1.9 1.1 0 1 0 3.7 0a1.9 1.1 0 1 0 -3.7 0M1249.6 515.2a1.9 1.1 0 1 0 3.7 0a1.9 1.1 0 1 0 -3.7 0M1239.8 520.8a1.9 1.1 0 1 0 3.7 0a1.9 1.1 0 1 0 -3.7 0M1230.1 526.5a1.9 1.1 0 1 0 3.7 0a1.9 1.1 0 1 0 -3.7 0M1485.1 386.1a1.9 1.1 0 1 0 3.7 0a1.9 1.1 0 1 0 -3.7 0M1475.3 391.7a1.9 1.1 0 1 0 3.7 0a1.9 1.1 0 1 0 -3.7 0M1465.6 397.4a1.9 1.1 0 1 0 3.7 0a1.9 1.1 0 1 0 -3.7 0M1455.8 403.0a1.9 1.1 0 1 0 3.7 0a1.9 1.1 0 1 0 -3.7 0M1446.0 408.6a1.9 1.1 0 1 0 3.7 0a1.9 1.1 0 1 0 -3.7 0M1436.3 414.3a1.9 1.1 0 1 0 3.7 0a1.9 1.1 0 1 0 -3.7 0M1426.5 419.9a1.9 1.1 0 1 0 3.7 0a1.9 1.1 0 1 0 -3.7 0M1416.7 425.6a1.9 1.1 0 1 0 3.7 0a1.9 1.1 0 1 0 -3.7 0M1406.9 431.2a1.9 1.1 0 1 0 3.7 0a1.9 1.1 0 1 0 -3.7 0M1397.2 436.9a1.9 1.1 0 1 0 3.7 0a1.9 1.1 0 1 0 -3.7 0M1387.4 442.5a1.9 1.1 0 1 0 3.7 0a1.9 1.1 0 1 0 -3.7 0M1377.6 448.1a1.9 1.1 0 1 0 3.7 0a1.9 1.1 0 1 0 -3.7 0M1367.9 453.8a1.9 1.1 0 1 0 3.7 0a1.9 1.1 0 1 0 -3.7 0M1358.1 459.4a1.9 1.1 0 1 0 3.7 0a1.9 1.1 0 1 0 -3.7 0M1348.3 465.0a1.9 1.1 0 1 0 3.7 0a1.9 1.1 0 1 0 -3.7 0M1338.6 470.7a1.9 1.1 0 1 0 3.7 0a1.9 1.1 0 1 0 -3.7 0M1328.8 476.3a1.9 1.1 0 1 0 3.7 0a1.9 1.1 0 1 0 -3.7 0M1319.0 482.0a1.9 1.1 0 1 0 3.7 0a1.9 1.1 0 1 0 -3.7 0M1309.3 487.6a1.9 1.1 0 1 0 3.7 0a1.9 1.1 0 1 0 -3.7 0M1299.5 493.2a1.9 1.1 0 1 0 3.7 0a1.9 1.1 0 1 0 -3.7 0M1289.7 498.9a1.9 1.1 0 1 0 3.7 0a1.9 1.1 0 1 0 -3.7 0M1280.0 504.5a1.9 1.1 0 1 0 3.7 0a1.9 1.1 0 1 0 -3.7 0M1270.2 510.2a1.9 1.1 0 1 0 3.7 0a1.9 1.1 0 1 0 -3.7 0M1260.4 515.8a1.9 1.1 0 1 0 3.7 0a1.9 1.1 0 1 0 -3.7 0M1250.6 521.4a1.9 1.1 0 1 0 3.7 0a1.9 1.1 0 1 0 -3.7 0M1240.9 527.1a1.9 1.1 0 1 0 3.7 0a1.9 1.1 0 1 0 -3.7 0M1231.1 532.7a1.9 1.1 0 1 0 3.7 0a1.9 1.1 0 1 0 -3.7 0M1492.3 390.3a1.9 1.1 0 1 0 3.7 0a1.9 1.1 0 1 0 -3.7 0M1482.6 395.9a1.9 1.1 0 1 0 3.7 0a1.9 1.1 0 1 0 -3.7 0M1472.8 401.5a1.9 1.1 0 1 0 3.7 0a1.9 1.1 0 1 0 -3.7 0M1463.0 407.2a1.9 1.1 0 1 0 3.7 0a1.9 1.1 0 1 0 -3.7 0M1453.3 412.8a1.9 1.1 0 1 0 3.7 0a1.9 1.1 0 1 0 -3.7 0M1443.5 418.5a1.9 1.1 0 1 0 3.7 0a1.9 1.1 0 1 0 -3.7 0M1433.7 424.1a1.9 1.1 0 1 0 3.7 0a1.9 1.1 0 1 0 -3.7 0M1423.9 429.7a1.9 1.1 0 1 0 3.7 0a1.9 1.1 0 1 0 -3.7 0M1414.2 435.4a1.9 1.1 0 1 0 3.7 0a1.9 1.1 0 1 0 -3.7 0M1404.4 441.0a1.9 1.1 0 1 0 3.7 0a1.9 1.1 0 1 0 -3.7 0M1394.6 446.7a1.9 1.1 0 1 0 3.7 0a1.9 1.1 0 1 0 -3.7 0M1384.9 452.3a1.9 1.1 0 1 0 3.7 0a1.9 1.1 0 1 0 -3.7 0M1375.1 457.9a1.9 1.1 0 1 0 3.7 0a1.9 1.1 0 1 0 -3.7 0M1365.3 463.6a1.9 1.1 0 1 0 3.7 0a1.9 1.1 0 1 0 -3.7 0M1355.6 469.2a1.9 1.1 0 1 0 3.7 0a1.9 1.1 0 1 0 -3.7 0M1345.8 474.9a1.9 1.1 0 1 0 3.7 0a1.9 1.1 0 1 0 -3.7 0M1336.0 480.5a1.9 1.1 0 1 0 3.7 0a1.9 1.1 0 1 0 -3.7 0M1326.3 486.1a1.9 1.1 0 1 0 3.7 0a1.9 1.1 0 1 0 -3.7 0M1316.5 491.8a1.9 1.1 0 1 0 3.7 0a1.9 1.1 0 1 0 -3.7 0M1306.7 497.4a1.9 1.1 0 1 0 3.7 0a1.9 1.1 0 1 0 -3.7 0M1297.0 503.1a1.9 1.1 0 1 0 3.7 0a1.9 1.1 0 1 0 -3.7 0M1287.2 508.7a1.9 1.1 0 1 0 3.7 0a1.9 1.1 0 1 0 -3.7 0M1277.4 514.3a1.9 1.1 0 1 0 3.7 0a1.9 1.1 0 1 0 -3.7 0M1267.6 520.0a1.9 1.1 0 1 0 3.7 0a1.9 1.1 0 1 0 -3.7 0M1257.9 525.6a1.9 1.1 0 1 0 3.7 0a1.9 1.1 0 1 0 -3.7 0M1248.1 531.3a1.9 1.1 0 1 0 3.7 0a1.9 1.1 0 1 0 -3.7 0M1238.3 536.9a1.9 1.1 0 1 0 3.7 0a1.9 1.1 0 1 0 -3.7 0M1503.1 390.9a1.9 1.1 0 1 0 3.7 0a1.9 1.1 0 1 0 -3.7 0M1493.4 396.5a1.9 1.1 0 1 0 3.7 0a1.9 1.1 0 1 0 -3.7 0M1483.6 402.1a1.9 1.1 0 1 0 3.7 0a1.9 1.1 0 1 0 -3.7 0M1473.8 407.8a1.9 1.1 0 1 0 3.7 0a1.9 1.1 0 1 0 -3.7 0M1464.1 413.4a1.9 1.1 0 1 0 3.7 0a1.9 1.1 0 1 0 -3.7 0M1454.3 419.1a1.9 1.1 0 1 0 3.7 0a1.9 1.1 0 1 0 -3.7 0M1444.5 424.7a1.9 1.1 0 1 0 3.7 0a1.9 1.1 0 1 0 -3.7 0M1434.8 430.4a1.9 1.1 0 1 0 3.7 0a1.9 1.1 0 1 0 -3.7 0M1425.0 436.0a1.9 1.1 0 1 0 3.7 0a1.9 1.1 0 1 0 -3.7 0M1415.2 441.6a1.9 1.1 0 1 0 3.7 0a1.9 1.1 0 1 0 -3.7 0M1405.5 447.3a1.9 1.1 0 1 0 3.7 0a1.9 1.1 0 1 0 -3.7 0M1395.7 452.9a1.9 1.1 0 1 0 3.7 0a1.9 1.1 0 1 0 -3.7 0M1385.9 458.5a1.9 1.1 0 1 0 3.7 0a1.9 1.1 0 1 0 -3.7 0M1376.1 464.2a1.9 1.1 0 1 0 3.7 0a1.9 1.1 0 1 0 -3.7 0M1366.4 469.8a1.9 1.1 0 1 0 3.7 0a1.9 1.1 0 1 0 -3.7 0M1356.6 475.5a1.9 1.1 0 1 0 3.7 0a1.9 1.1 0 1 0 -3.7 0M1346.8 481.1a1.9 1.1 0 1 0 3.7 0a1.9 1.1 0 1 0 -3.7 0M1337.1 486.7a1.9 1.1 0 1 0 3.7 0a1.9 1.1 0 1 0 -3.7 0M1327.3 492.4a1.9 1.1 0 1 0 3.7 0a1.9 1.1 0 1 0 -3.7 0M1317.5 498.0a1.9 1.1 0 1 0 3.7 0a1.9 1.1 0 1 0 -3.7 0M1307.8 503.7a1.9 1.1 0 1 0 3.7 0a1.9 1.1 0 1 0 -3.7 0M1298.0 509.3a1.9 1.1 0 1 0 3.7 0a1.9 1.1 0 1 0 -3.7 0M1288.2 515.0a1.9 1.1 0 1 0 3.7 0a1.9 1.1 0 1 0 -3.7 0M1278.5 520.6a1.9 1.1 0 1 0 3.7 0a1.9 1.1 0 1 0 -3.7 0M1268.7 526.2a1.9 1.1 0 1 0 3.7 0a1.9 1.1 0 1 0 -3.7 0M1258.9 531.9a1.9 1.1 0 1 0 3.7 0a1.9 1.1 0 1 0 -3.7 0M1249.2 537.5a1.9 1.1 0 1 0 3.7 0a1.9 1.1 0 1 0 -3.7 0M1515.0 397.7a1.9 1.1 0 1 0 3.7 0a1.9 1.1 0 1 0 -3.7 0M1505.2 403.4a1.9 1.1 0 1 0 3.7 0a1.9 1.1 0 1 0 -3.7 0M1495.5 409.0a1.9 1.1 0 1 0 3.7 0a1.9 1.1 0 1 0 -3.7 0M1485.7 414.6a1.9 1.1 0 1 0 3.7 0a1.9 1.1 0 1 0 -3.7 0M1475.9 420.3a1.9 1.1 0 1 0 3.7 0a1.9 1.1 0 1 0 -3.7 0M1466.2 425.9a1.9 1.1 0 1 0 3.7 0a1.9 1.1 0 1 0 -3.7 0M1456.4 431.6a1.9 1.1 0 1 0 3.7 0a1.9 1.1 0 1 0 -3.7 0M1446.6 437.2a1.9 1.1 0 1 0 3.7 0a1.9 1.1 0 1 0 -3.7 0M1436.9 442.8a1.9 1.1 0 1 0 3.7 0a1.9 1.1 0 1 0 -3.7 0M1427.1 448.5a1.9 1.1 0 1 0 3.7 0a1.9 1.1 0 1 0 -3.7 0M1417.3 454.1a1.9 1.1 0 1 0 3.7 0a1.9 1.1 0 1 0 -3.7 0M1407.6 459.8a1.9 1.1 0 1 0 3.7 0a1.9 1.1 0 1 0 -3.7 0M1397.8 465.4a1.9 1.1 0 1 0 3.7 0a1.9 1.1 0 1 0 -3.7 0M1388.0 471.0a1.9 1.1 0 1 0 3.7 0a1.9 1.1 0 1 0 -3.7 0M1378.2 476.7a1.9 1.1 0 1 0 3.7 0a1.9 1.1 0 1 0 -3.7 0M1368.5 482.3a1.9 1.1 0 1 0 3.7 0a1.9 1.1 0 1 0 -3.7 0M1358.7 488.0a1.9 1.1 0 1 0 3.7 0a1.9 1.1 0 1 0 -3.7 0M1348.9 493.6a1.9 1.1 0 1 0 3.7 0a1.9 1.1 0 1 0 -3.7 0M1339.2 499.2a1.9 1.1 0 1 0 3.7 0a1.9 1.1 0 1 0 -3.7 0M1329.4 504.9a1.9 1.1 0 1 0 3.7 0a1.9 1.1 0 1 0 -3.7 0M1319.6 510.5a1.9 1.1 0 1 0 3.7 0a1.9 1.1 0 1 0 -3.7 0M1309.9 516.2a1.9 1.1 0 1 0 3.7 0a1.9 1.1 0 1 0 -3.7 0M1300.1 521.8a1.9 1.1 0 1 0 3.7 0a1.9 1.1 0 1 0 -3.7 0M1290.3 527.4a1.9 1.1 0 1 0 3.7 0a1.9 1.1 0 1 0 -3.7 0M1280.6 533.1a1.9 1.1 0 1 0 3.7 0a1.9 1.1 0 1 0 -3.7 0M1270.8 538.7a1.9 1.1 0 1 0 3.7 0a1.9 1.1 0 1 0 -3.7 0M1261.0 544.4a1.9 1.1 0 1 0 3.7 0a1.9 1.1 0 1 0 -3.7 0M1516.1 404.0a1.9 1.1 0 1 0 3.7 0a1.9 1.1 0 1 0 -3.7 0M1506.3 409.6a1.9 1.1 0 1 0 3.7 0a1.9 1.1 0 1 0 -3.7 0M1496.5 415.2a1.9 1.1 0 1 0 3.7 0a1.9 1.1 0 1 0 -3.7 0M1486.7 420.9a1.9 1.1 0 1 0 3.7 0a1.9 1.1 0 1 0 -3.7 0M1477.0 426.5a1.9 1.1 0 1 0 3.7 0a1.9 1.1 0 1 0 -3.7 0M1467.2 432.2a1.9 1.1 0 1 0 3.7 0a1.9 1.1 0 1 0 -3.7 0M1457.4 437.8a1.9 1.1 0 1 0 3.7 0a1.9 1.1 0 1 0 -3.7 0M1447.7 443.4a1.9 1.1 0 1 0 3.7 0a1.9 1.1 0 1 0 -3.7 0M1437.9 449.1a1.9 1.1 0 1 0 3.7 0a1.9 1.1 0 1 0 -3.7 0M1428.1 454.7a1.9 1.1 0 1 0 3.7 0a1.9 1.1 0 1 0 -3.7 0M1418.4 460.4a1.9 1.1 0 1 0 3.7 0a1.9 1.1 0 1 0 -3.7 0M1408.6 466.0a1.9 1.1 0 1 0 3.7 0a1.9 1.1 0 1 0 -3.7 0M1398.8 471.6a1.9 1.1 0 1 0 3.7 0a1.9 1.1 0 1 0 -3.7 0M1389.1 477.3a1.9 1.1 0 1 0 3.7 0a1.9 1.1 0 1 0 -3.7 0M1379.3 482.9a1.9 1.1 0 1 0 3.7 0a1.9 1.1 0 1 0 -3.7 0M1369.5 488.6a1.9 1.1 0 1 0 3.7 0a1.9 1.1 0 1 0 -3.7 0M1359.8 494.2a1.9 1.1 0 1 0 3.7 0a1.9 1.1 0 1 0 -3.7 0M1350.0 499.8a1.9 1.1 0 1 0 3.7 0a1.9 1.1 0 1 0 -3.7 0M1340.2 505.5a1.9 1.1 0 1 0 3.7 0a1.9 1.1 0 1 0 -3.7 0M1330.4 511.1a1.9 1.1 0 1 0 3.7 0a1.9 1.1 0 1 0 -3.7 0M1320.7 516.8a1.9 1.1 0 1 0 3.7 0a1.9 1.1 0 1 0 -3.7 0M1310.9 522.4a1.9 1.1 0 1 0 3.7 0a1.9 1.1 0 1 0 -3.7 0M1301.1 528.0a1.9 1.1 0 1 0 3.7 0a1.9 1.1 0 1 0 -3.7 0M1291.4 533.7a1.9 1.1 0 1 0 3.7 0a1.9 1.1 0 1 0 -3.7 0M1281.6 539.3a1.9 1.1 0 1 0 3.7 0a1.9 1.1 0 1 0 -3.7 0M1271.8 545.0a1.9 1.1 0 1 0 3.7 0a1.9 1.1 0 1 0 -3.7 0M1262.1 550.6a1.9 1.1 0 1 0 3.7 0a1.9 1.1 0 1 0 -3.7 0"/>
<path class="n" style="stroke-width:1.4;stroke:#111" d="M1118.8 174.6a1.9 1.1 0 1 0 3.7 0a1.9 1.1 0 1 0 -3.7 0M1109.0 180.2a1.9 1.1 0 1 0 3.7 0a1.9 1.1 0 1 0 -3.7 0M1099.2 185.9a1.9 1.1 0 1 0 3.7 0a1.9 1.1 0 1 0 -3.7 0M1089.5 191.5a1.9 1.1 0 1 0 3.7 0a1.9 1.1 0 1 0 -3.7 0M1079.7 197.2a1.9 1.1 0 1 0 3.7 0a1.9 1.1 0 1 0 -3.7 0M1069.9 202.8a1.9 1.1 0 1 0 3.7 0a1.9 1.1 0 1 0 -3.7 0M1060.2 208.4a1.9 1.1 0 1 0 3.7 0a1.9 1.1 0 1 0 -3.7 0M1050.4 214.1a1.9 1.1 0 1 0 3.7 0a1.9 1.1 0 1 0 -3.7 0M1040.6 219.7a1.9 1.1 0 1 0 3.7 0a1.9 1.1 0 1 0 -3.7 0M1030.8 225.3a1.9 1.1 0 1 0 3.7 0a1.9 1.1 0 1 0 -3.7 0M1021.1 231.0a1.9 1.1 0 1 0 3.7 0a1.9 1.1 0 1 0 -3.7 0M1011.3 236.6a1.9 1.1 0 1 0 3.7 0a1.9 1.1 0 1 0 -3.7 0M1001.5 242.3a1.9 1.1 0 1 0 3.7 0a1.9 1.1 0 1 0 -3.7 0M991.8 247.9a1.9 1.1 0 1 0 3.7 0a1.9 1.1 0 1 0 -3.7 0M982.0 253.5a1.9 1.1 0 1 0 3.7 0a1.9 1.1 0 1 0 -3.7 0M972.2 259.2a1.9 1.1 0 1 0 3.7 0a1.9 1.1 0 1 0 -3.7 0M962.5 264.8a1.9 1.1 0 1 0 3.7 0a1.9 1.1 0 1 0 -3.7 0M952.7 270.5a1.9 1.1 0 1 0 3.7 0a1.9 1.1 0 1 0 -3.7 0M942.9 276.1a1.9 1.1 0 1 0 3.7 0a1.9 1.1 0 1 0 -3.7 0M933.2 281.8a1.9 1.1 0 1 0 3.7 0a1.9 1.1 0 1 0 -3.7 0M923.4 287.4a1.9 1.1 0 1 0 3.7 0a1.9 1.1 0 1 0 -3.7 0M913.6 293.0a1.9 1.1 0 1 0 3.7 0a1.9 1.1 0 1 0 -3.7 0M903.9 298.7a1.9 1.1 0 1 0 3.7 0a1.9 1.1 0 1 0 -3.7 0M894.1 304.3a1.9 1.1 0 1 0 3.7 0a1.9 1.1 0 1 0 -3.7 0M884.3 309.9a1.9 1.1 0 1 0 3.7 0a1.9 1.1 0 1 0 -3.7 0M874.5 315.6a1.9 1.1 0 1 0 3.7 0a1.9 1.1 0 1 0 -3.7 0M864.8 321.2a1.9 1.1 0 1 0 3.7 0a1.9 1.1 0 1 0 -3.7 0M1161.6 199.3a1.9 1.1 0 1 0 3.7 0a1.9 1.1 0 1 0 -3.7 0M1151.8 205.0a1.9 1.1 0 1 0 3.7 0a1.9 1.1 0 1 0 -3.7 0M1142.1 210.6a1.9 1.1 0 1 0 3.7 0a1.9 1.1 0 1 0 -3.7 0M1132.3 216.2a1.9 1.1 0 1 0 3.7 0a1.9 1.1 0 1 0 -3.7 0M1122.5 221.9a1.9 1.1 0 1 0 3.7 0a1.9 1.1 0 1 0 -3.7 0M1112.7 227.5a1.9 1.1 0 1 0 3.7 0a1.9 1.1 0 1 0 -3.7 0M1103.0 233.2a1.9 1.1 0 1 0 3.7 0a1.9 1.1 0 1 0 -3.7 0M1093.2 238.8a1.9 1.1 0 1 0 3.7 0a1.9 1.1 0 1 0 -3.7 0M1083.4 244.4a1.9 1.1 0 1 0 3.7 0a1.9 1.1 0 1 0 -3.7 0M1073.7 250.1a1.9 1.1 0 1 0 3.7 0a1.9 1.1 0 1 0 -3.7 0M1063.9 255.7a1.9 1.1 0 1 0 3.7 0a1.9 1.1 0 1 0 -3.7 0M1054.1 261.4a1.9 1.1 0 1 0 3.7 0a1.9 1.1 0 1 0 -3.7 0M1044.4 267.0a1.9 1.1 0 1 0 3.7 0a1.9 1.1 0 1 0 -3.7 0M1034.6 272.6a1.9 1.1 0 1 0 3.7 0a1.9 1.1 0 1 0 -3.7 0M1024.8 278.3a1.9 1.1 0 1 0 3.7 0a1.9 1.1 0 1 0 -3.7 0M1015.1 283.9a1.9 1.1 0 1 0 3.7 0a1.9 1.1 0 1 0 -3.7 0M1005.3 289.6a1.9 1.1 0 1 0 3.7 0a1.9 1.1 0 1 0 -3.7 0M995.5 295.2a1.9 1.1 0 1 0 3.7 0a1.9 1.1 0 1 0 -3.7 0M985.8 300.8a1.9 1.1 0 1 0 3.7 0a1.9 1.1 0 1 0 -3.7 0M976.0 306.5a1.9 1.1 0 1 0 3.7 0a1.9 1.1 0 1 0 -3.7 0M966.2 312.1a1.9 1.1 0 1 0 3.7 0a1.9 1.1 0 1 0 -3.7 0M956.4 317.8a1.9 1.1 0 1 0 3.7 0a1.9 1.1 0 1 0 -3.7 0M946.7 323.4a1.9 1.1 0 1 0 3.7 0a1.9 1.1 0 1 0 -3.7 0M936.9 329.0a1.9 1.1 0 1 0 3.7 0a1.9 1.1 0 1 0 -3.7 0M927.1 334.7a1.9 1.1 0 1 0 3.7 0a1.9 1.1 0 1 0 -3.7 0M917.4 340.3a1.9 1.1 0 1 0 3.7 0a1.9 1.1 0 1 0 -3.7 0M907.6 346.0a1.9 1.1 0 1 0 3.7 0a1.9 1.1 0 1 0 -3.7 0M1204.4 224.0a1.9 1.1 0 1 0 3.7 0a1.9 1.1 0 1 0 -3.7 0M1194.6 229.7a1.9 1.1 0 1 0 3.7 0a1.9 1.1 0 1 0 -3.7 0M1184.9 235.3a1.9 1.1 0 1 0 3.7 0a1.9 1.1 0 1 0 -3.7 0M1175.1 241.0a1.9 1.1 0 1 0 3.7 0a1.9 1.1 0 1 0 -3.7 0M1165.3 246.6a1.9 1.1 0 1 0 3.7 0a1.9 1.1 0 1 0 -3.7 0M1155.6 252.2a1.9 1.1 0 1 0 3.7 0a1.9 1.1 0 1 0 -3.7 0M1145.8 257.9a1.9 1.1 0 1 0 3.7 0a1.9 1.1 0 1 0 -3.7 0M1136.0 263.5a1.9 1.1 0 1 0 3.7 0a1.9 1.1 0 1 0 -3.7 0M1126.3 269.2a1.9 1.1 0 1 0 3.7 0a1.9 1.1 0 1 0 -3.7 0M1116.5 274.8a1.9 1.1 0 1 0 3.7 0a1.9 1.1 0 1 0 -3.7 0M1106.7 280.4a1.9 1.1 0 1 0 3.7 0a1.9 1.1 0 1 0 -3.7 0M1097.0 286.1a1.9 1.1 0 1 0 3.7 0a1.9 1.1 0 1 0 -3.7 0M1087.2 291.7a1.9 1.1 0 1 0 3.7 0a1.9 1.1 0 1 0 -3.7 0M1077.4 297.4a1.9 1.1 0 1 0 3.7 0a1.9 1.1 0 1 0 -3.7 0M1067.7 303.0a1.9 1.1 0 1 0 3.7 0a1.9 1.1 0 1 0 -3.7 0M1057.9 308.6a1.9 1.1 0 1 0 3.7 0a1.9 1.1 0 1 0 -3.7 0M1048.1 314.3a1.9 1.1 0 1 0 3.7 0a1.9 1.1 0 1 0 -3.7 0M1038.3 319.9a1.9 1.1 0 1 0 3.7 0a1.9 1.1 0 1 0 -3.7 0M1028.6 325.6a1.9 1.1 0 1 0 3.7 0a1.9 1.1 0 1 0 -3.7 0M1018.8 331.2a1.9 1.1 0 1 0 3.7 0a1.9 1.1 0 1 0 -3.7 0M1009.0 336.8a1.9 1.1 0 1 0 3.7 0a1.9 1.1 0 1 0 -3.7 0M999.3 342.5a1.9 1.1 0 1 0 3.7 0a1.9 1.1 0 1 0 -3.7 0M989.5 348.1a1.9 1.1 0 1 0 3.7 0a1.9 1.1 0 1 0 -3.7 0M979.7 353.8a1.9 1.1 0 1 0 3.7 0a1.9 1.1 0 1 0 -3.7 0M970.0 359.4a1.9 1.1 0 1 0 3.7 0a1.9 1.1 0 1 0 -3.7 0M960.2 365.0a1.9 1.1 0 1 0 3.7 0a1.9 1.1 0 1 0 -3.7 0M950.4 370.7a1.9 1.1 0 1 0 3.7 0a1.9 1.1 0 1 0 -3.7 0M1247.2 248.8a1.9 1.1 0 1 0 3.7 0a1.9 1.1 0 1 0 -3.7 0M1237.5 254.4a1.9 1.1 0 1 0 3.7 0a1.9 1.1 0 1 0 -3.7 0M1227.7 260.0a1.9 1.1 0 1 0 3.7 0a1.9 1.1 0 1 0 -3.7 0M1217.9 265.7a1.9 1.1 0 1 0 3.7 0a1.9 1.1 0 1 0 -3.7 0M1208.2 271.3a1.9 1.1 0 1 0 3.7 0a1.9 1.1 0 1 0 -3.7 0M1198.4 277.0a1.9 1.1 0 1 0 3.7 0a1.9 1.1 0 1 0 -3.7 0M1188.6 282.6a1.9 1.1 0 1 0 3.7 0a1.9 1.1 0 1 0 -3.7 0M1178.9 288.2a1.9 1.1 0 1 0 3.7 0a1.9 1.1 0 1 0 -3.7 0M1169.1 293.9a1.9 1.1 0 1 0 3.7 0a1.9 1.1 0 1 0 -3.7 0M1159.3 299.5a1.9 1.1 0 1 0 3.7 0a1.9 1.1 0 1 0 -3.7 0M1149.6 305.2a1.9 1.1 0 1 0 3.7 0a1.9 1.1 0 1 0 -3.7 0M1139.8 310.8a1.9 1.1 0 1 0 3.7 0a1.9 1.1 0 1 0 -3.7 0M1130.0 316.4a1.9 1.1 0 1 0 3.7 0a1.9 1.1 0 1 0 -3.7 0M1120.2 322.1a1.9 1.1 0 1 0 3.7 0a1.9 1.1 0 1 0 -3.7 0M1110.5 327.7a1.9 1.1 0 1 0 3.7 0a1.9 1.1 0 1 0 -3.7 0M1100.7 333.4a1.9 1.1 0 1 0 3.7 0a1.9 1.1 0 1 0 -3.7 0M1090.9 339.0a1.9 1.1 0 1 0 3.7 0a1.9 1.1 0 1 0 -3.7 0M1081.2 344.6a1.9 1.1 0 1 0 3.7 0a1.9 1.1 0 1 0 -3.7 0M1071.4 350.3a1.9 1.1 0 1 0 3.7 0a1.9 1.1 0 1 0 -3.7 0M1061.6 355.9a1.9 1.1 0 1 0 3.7 0a1.9 1.1 0 1 0 -3.7 0M1051.9 361.6a1.9 1.1 0 1 0 3.7 0a1.9 1.1 0 1 0 -3.7 0M1042.1 367.2a1.9 1.1 0 1 0 3.7 0a1.9 1.1 0 1 0 -3.7 0M1032.3 372.8a1.9 1.1 0 1 0 3.7 0a1.9 1.1 0 1 0 -3.7 0M1022.6 378.5a1.9 1.1 0 1 0 3.7 0a1.9 1.1 0 1 0 -3.7 0M1012.8 384.1a1.9 1.1 0 1 0 3.7 0a1.9 1.1 0 1 0 -3.7 0M1003.0 389.8a1.9 1.1 0 1 0 3.7 0a1.9 1.1 0 1 0 -3.7 0M993.3 395.4a1.9 1.1 0 1 0 3.7 0a1.9 1.1 0 1 0 -3.7 0M1290.1 273.5a1.9 1.1 0 1 0 3.7 0a1.9 1.1 0 1 0 -3.7 0M1280.3 279.1a1.9 1.1 0 1 0 3.7 0a1.9 1.1 0 1 0 -3.7 0M1270.5 284.8a1.9 1.1 0 1 0 3.7 0a1.9 1.1 0 1 0 -3.7 0M1260.8 290.4a1.9 1.1 0 1 0 3.7 0a1.9 1.1 0 1 0 -3.7 0M1251.0 296.1a1.9 1.1 0 1 0 3.7 0a1.9 1.1 0 1 0 -3.7 0M1241.2 301.7a1.9 1.1 0 1 0 3.7 0a1.9 1.1 0 1 0 -3.7 0M1231.5 307.3a1.9 1.1 0 1 0 3.7 0a1.9 1.1 0 1 0 -3.7 0M1221.7 313.0a1.9 1.1 0 1 0 3.7 0a1.9 1.1 0 1 0 -3.7 0M1211.9 318.6a1.9 1.1 0 1 0 3.7 0a1.9 1.1 0 1 0 -3.7 0M1202.1 324.2a1.9 1.1 0 1 0 3.7 0a1.9 1.1 0 1 0 -3.7 0M1192.4 329.9a1.9 1.1 0 1 0 3.7 0a1.9 1.1 0 1 0 -3.7 0M1182.6 335.5a1.9 1.1 0 1 0 3.7 0a1.9 1.1 0 1 0 -3.7 0M1172.8 341.2a1.9 1.1 0 1 0 3.7 0a1.9 1.1 0 1 0 -3.7 0M1163.1 346.8a1.9 1.1 0 1 0 3.7 0a1.9 1.1 0 1 0 -3.7 0M1153.3 352.4a1.9 1.1 0 1 0 3.7 0a1.9 1.1 0 1 0 -3.7 0M1143.5 358.1a1.9 1.1 0 1 0 3.7 0a1.9 1.1 0 1 0 -3.7 0M1133.8 363.7a1.9 1.1 0 1 0 3.7 0a1.9 1.1 0 1 0 -3.7 0M1124.0 369.4a1.9 1.1 0 1 0 3.7 0a1.9 1.1 0 1 0 -3.7 0M1114.2 375.0a1.9 1.1 0 1 0 3.7 0a1.9 1.1 0 1 0 -3.7 0M1104.5 380.6a1.9 1.1 0 1 0 3.7 0a1.9 1.1 0 1 0 -3.7 0M1094.7 386.3a1.9 1.1 0 1 0 3.7 0a1.9 1.1 0 1 0 -3.7 0M1084.9 391.9a1.9 1.1 0 1 0 3.7 0a1.9 1.1 0 1 0 -3.7 0M1075.2 397.6a1.9 1.1 0 1 0 3.7 0a1.9 1.1 0 1 0 -3.7 0M1065.4 403.2a1.9 1.1 0 1 0 3.7 0a1.9 1.1 0 1 0 -3.7 0M1055.6 408.8a1.9 1.1 0 1 0 3.7 0a1.9 1.1 0 1 0 -3.7 0M1045.8 414.5a1.9 1.1 0 1 0 3.7 0a1.9 1.1 0 1 0 -3.7 0M1036.1 420.1a1.9 1.1 0 1 0 3.7 0a1.9 1.1 0 1 0 -3.7 0M1332.9 298.2a1.9 1.1 0 1 0 3.7 0a1.9 1.1 0 1 0 -3.7 0M1323.1 303.9a1.9 1.1 0 1 0 3.7 0a1.9 1.1 0 1 0 -3.7 0M1313.4 309.5a1.9 1.1 0 1 0 3.7 0a1.9 1.1 0 1 0 -3.7 0M1303.6 315.1a1.9 1.1 0 1 0 3.7 0a1.9 1.1 0 1 0 -3.7 0M1293.8 320.8a1.9 1.1 0 1 0 3.7 0a1.9 1.1 0 1 0 -3.7 0M1284.0 326.4a1.9 1.1 0 1 0 3.7 0a1.9 1.1 0 1 0 -3.7 0M1274.3 332.1a1.9 1.1 0 1 0 3.7 0a1.9 1.1 0 1 0 -3.7 0M1264.5 337.7a1.9 1.1 0 1 0 3.7 0a1.9 1.1 0 1 0 -3.7 0M1254.7 343.3a1.9 1.1 0 1 0 3.7 0a1.9 1.1 0 1 0 -3.7 0M1245.0 349.0a1.9 1.1 0 1 0 3.7 0a1.9 1.1 0 1 0 -3.7 0M1235.2 354.6a1.9 1.1 0 1 0 3.7 0a1.9 1.1 0 1 0 -3.7 0M1225.4 360.3a1.9 1.1 0 1 0 3.7 0a1.9 1.1 0 1 0 -3.7 0M1215.7 365.9a1.9 1.1 0 1 0 3.7 0a1.9 1.1 0 1 0 -3.7 0M1205.9 371.5a1.9 1.1 0 1 0 3.7 0a1.9 1.1 0 1 0 -3.7 0M1196.1 377.2a1.9 1.1 0 1 0 3.7 0a1.9 1.1 0 1 0 -3.7 0M1186.4 382.8a1.9 1.1 0 1 0 3.7 0a1.9 1.1 0 1 0 -3.7 0M1176.6 388.5a1.9 1.1 0 1 0 3.7 0a1.9 1.1 0 1 0 -3.7 0M1166.8 394.1a1.9 1.1 0 1 0 3.7 0a1.9 1.1 0 1 0 -3.7 0M1157.1 399.7a1.9 1.1 0 1 0 3.7 0a1.9 1.1 0 1 0 -3.7 0M1147.3 405.4a1.9 1.1 0 1 0 3.7 0a1.9 1.1 0 1 0 -3.7 0M1137.5 411.0a1.9 1.1 0 1 0 3.7 0a1.9 1.1 0 1 0 -3.7 0M1127.7 416.7a1.9 1.1 0 1 0 3.7 0a1.9 1.1 0 1 0 -3.7 0M1118.0 422.3a1.9 1.1 0 1 0 3.7 0a1.9 1.1 0 1 0 -3.7 0M1108.2 427.9a1.9 1.1 0 1 0 3.7 0a1.9 1.1 0 1 0 -3.7 0M1098.4 433.6a1.9 1.1 0 1 0 3.7 0a1.9 1.1 0 1 0 -3.7 0M1088.7 439.2a1.9 1.1 0 1 0 3.7 0a1.9 1.1 0 1 0 -3.7 0M1078.9 444.9a1.9 1.1 0 1 0 3.7 0a1.9 1.1 0 1 0 -3.7 0M1375.7 322.9a1.9 1.1 0 1 0 3.7 0a1.9 1.1 0 1 0 -3.7 0M1365.9 328.6a1.9 1.1 0 1 0 3.7 0a1.9 1.1 0 1 0 -3.7 0M1356.2 334.2a1.9 1.1 0 1 0 3.7 0a1.9 1.1 0 1 0 -3.7 0M1346.4 339.9a1.9 1.1 0 1 0 3.7 0a1.9 1.1 0 1 0 -3.7 0M1336.6 345.5a1.9 1.1 0 1 0 3.7 0a1.9 1.1 0 1 0 -3.7 0M1326.9 351.1a1.9 1.1 0 1 0 3.7 0a1.9 1.1 0 1 0 -3.7 0M1317.1 356.8a1.9 1.1 0 1 0 3.7 0a1.9 1.1 0 1 0 -3.7 0M1307.3 362.4a1.9 1.1 0 1 0 3.7 0a1.9 1.1 0 1 0 -3.7 0M1297.6 368.1a1.9 1.1 0 1 0 3.7 0a1.9 1.1 0 1 0 -3.7 0M1287.8 373.7a1.9 1.1 0 1 0 3.7 0a1.9 1.1 0 1 0 -3.7 0M1278.0 379.3a1.9 1.1 0 1 0 3.7 0a1.9 1.1 0 1 0 -3.7 0M1268.3 385.0a1.9 1.1 0 1 0 3.7 0a1.9 1.1 0 1 0 -3.7 0M1258.5 390.6a1.9 1.1 0 1 0 3.7 0a1.9 1.1 0 1 0 -3.7 0M1248.7 396.3a1.9 1.1 0 1 0 3.7 0a1.9 1.1 0 1 0 -3.7 0M1239.0 401.9a1.9 1.1 0 1 0 3.7 0a1.9 1.1 0 1 0 -3.7 0M1229.2 407.5a1.9 1.1 0 1 0 3.7 0a1.9 1.1 0 1 0 -3.7 0M1219.4 413.2a1.9 1.1 0 1 0 3.7 0a1.9 1.1 0 1 0 -3.7 0M1209.6 418.8a1.9 1.1 0 1 0 3.7 0a1.9 1.1 0 1 0 -3.7 0M1199.9 424.5a1.9 1.1 0 1 0 3.7 0a1.9 1.1 0 1 0 -3.7 0M1190.1 430.1a1.9 1.1 0 1 0 3.7 0a1.9 1.1 0 1 0 -3.7 0M1180.3 435.7a1.9 1.1 0 1 0 3.7 0a1.9 1.1 0 1 0 -3.7 0M1170.6 441.4a1.9 1.1 0 1 0 3.7 0a1.9 1.1 0 1 0 -3.7 0M1160.8 447.0a1.9 1.1 0 1 0 3.7 0a1.9 1.1 0 1 0 -3.7 0M1151.0 452.7a1.9 1.1 0 1 0 3.7 0a1.9 1.1 0 1 0 -3.7 0M1141.3 458.3a1.9 1.1 0 1 0 3.7 0a1.9 1.1 0 1 0 -3.7 0M1131.5 463.9a1.9 1.1 0 1 0 3.7 0a1.9 1.1 0 1 0 -3.7 0M1121.7 469.6a1.9 1.1 0 1 0 3.7 0a1.9 1.1 0 1 0 -3.7 0M1418.5 347.7a1.9 1.1 0 1 0 3.7 0a1.9 1.1 0 1 0 -3.7 0M1408.8 353.3a1.9 1.1 0 1 0 3.7 0a1.9 1.1 0 1 0 -3.7 0M1399.0 358.9a1.9 1.1 0 1 0 3.7 0a1.9 1.1 0 1 0 -3.7 0M1389.2 364.6a1.9 1.1 0 1 0 3.7 0a1.9 1.1 0 1 0 -3.7 0M1379.5 370.2a1.9 1.1 0 1 0 3.7 0a1.9 1.1 0 1 0 -3.7 0M1369.7 375.9a1.9 1.1 0 1 0 3.7 0a1.9 1.1 0 1 0 -3.7 0M1359.9 381.5a1.9 1.1 0 1 0 3.7 0a1.9 1.1 0 1 0 -3.7 0M1350.2 387.1a1.9 1.1 0 1 0 3.7 0a1.9 1.1 0 1 0 -3.7 0M1340.4 392.8a1.9 1.1 0 1 0 3.7 0a1.9 1.1 0 1 0 -3.7 0M1330.6 398.4a1.9 1.1 0 1 0 3.7 0a1.9 1.1 0 1 0 -3.7 0M1320.9 404.1a1.9 1.1 0 1 0 3.7 0a1.9 1.1 0 1 0 -3.7 0M1311.1 409.7a1.9 1.1 0 1 0 3.7 0a1.9 1.1 0 1 0 -3.7 0M1301.3 415.3a1.9 1.1 0 1 0 3.7 0a1.9 1.1 0 1 0 -3.7 0M1291.5 421.0a1.9 1.1 0 1 0 3.7 0a1.9 1.1 0 1 0 -3.7 0M1281.8 426.6a1.9 1.1 0 1 0 3.7 0a1.9 1.1 0 1 0 -3.7 0M1272.0 432.3a1.9 1.1 0 1 0 3.7 0a1.9 1.1 0 1 0 -3.7 0M1262.2 437.9a1.9 1.1 0 1 0 3.7 0a1.9 1.1 0 1 0 -3.7 0M1252.5 443.5a1.9 1.1 0 1 0 3.7 0a1.9 1.1 0 1 0 -3.7 0M1242.7 449.2a1.9 1.1 0 1 0 3.7 0a1.9 1.1 0 1 0 -3.7 0M1232.9 454.8a1.9 1.1 0 1 0 3.7 0a1.9 1.1 0 1 0 -3.7 0M1223.2 460.5a1.9 1.1 0 1 0 3.7 0a1.9 1.1 0 1 0 -3.7 0M1213.4 466.1a1.9 1.1 0 1 0 3.7 0a1.9 1.1 0 1 0 -3.7 0M1203.6 471.7a1.9 1.1 0 1 0 3.7 0a1.9 1.1 0 1 0 -3.7 0M1193.9 477.4a1.9 1.1 0 1 0 3.7 0a1.9 1.1 0 1 0 -3.7 0M1184.1 483.0a1.9 1.1 0 1 0 3.7 0a1.9 1.1 0 1 0 -3.7 0M1174.3 488.7a1.9 1.1 0 1 0 3.7 0a1.9 1.1 0 1 0 -3.7 0M1164.6 494.3a1.9 1.1 0 1 0 3.7 0a1.9 1.1 0 1 0 -3.7 0M1461.4 372.4a1.9 1.1 0 1 0 3.7 0a1.9 1.1 0 1 0 -3.7 0M1451.6 378.0a1.9 1.1 0 1 0 3.7 0a1.9 1.1 0 1 0 -3.7 0M1441.8 383.7a1.9 1.1 0 1 0 3.7 0a1.9 1.1 0 1 0 -3.7 0M1432.1 389.3a1.9 1.1 0 1 0 3.7 0a1.9 1.1 0 1 0 -3.7 0M1422.3 394.9a1.9 1.1 0 1 0 3.7 0a1.9 1.1 0 1 0 -3.7 0M1412.5 400.6a1.9 1.1 0 1 0 3.7 0a1.9 1.1 0 1 0 -3.7 0M1402.8 406.2a1.9 1.1 0 1 0 3.7 0a1.9 1.1 0 1 0 -3.7 0M1393.0 411.9a1.9 1.1 0 1 0 3.7 0a1.9 1.1 0 1 0 -3.7 0M1383.2 417.5a1.9 1.1 0 1 0 3.7 0a1.9 1.1 0 1 0 -3.7 0M1373.4 423.1a1.9 1.1 0 1 0 3.7 0a1.9 1.1 0 1 0 -3.7 0M1363.7 428.8a1.9 1.1 0 1 0 3.7 0a1.9 1.1 0 1 0 -3.7 0M1353.9 434.4a1.9 1.1 0 1 0 3.7 0a1.9 1.1 0 1 0 -3.7 0M1344.1 440.1a1.9 1.1 0 1 0 3.7 0a1.9 1.1 0 1 0 -3.7 0M1334.4 445.7a1.9 1.1 0 1 0 3.7 0a1.9 1.1 0 1 0 -3.7 0M1324.6 451.3a1.9 1.1 0 1 0 3.7 0a1.9 1.1 0 1 0 -3.7 0M1314.8 457.0a1.9 1.1 0 1 0 3.7 0a1.9 1.1 0 1 0 -3.7 0M1305.1 462.6a1.9 1.1 0 1 0 3.7 0a1.9 1.1 0 1 0 -3.7 0M1295.3 468.3a1.9 1.1 0 1 0 3.7 0a1.9 1.1 0 1 0 -3.7 0M1285.5 473.9a1.9 1.1 0 1 0 3.7 0a1.9 1.1 0 1 0 -3.7 0M1275.8 479.5a1.9 1.1 0 1 0 3.7 0a1.9 1.1 0 1 0 -3.7 0M1266.0 485.2a1.9 1.1 0 1 0 3.7 0a1.9 1.1 0 1 0 -3.7 0M1256.2 490.8a1.9 1.1 0 1 0 3.7 0a1.9 1.1 0 1 0 -3.7 0M1246.5 496.5a1.9 1.1 0 1 0 3.7 0a1.9 1.1 0 1 0 -3.7 0M1236.7 502.1a1.9 1.1 0 1 0 3.7 0a1.9 1.1 0 1 0 -3.7 0M1226.9 507.7a1.9 1.1 0 1 0 3.7 0a1.9 1.1 0 1 0 -3.7 0M1217.1 513.4a1.9 1.1 0 1 0 3.7 0a1.9 1.1 0 1 0 -3.7 0M1207.4 519.0a1.9 1.1 0 1 0 3.7 0a1.9 1.1 0 1 0 -3.7 0M1504.2 397.1a1.9 1.1 0 1 0 3.7 0a1.9 1.1 0 1 0 -3.7 0M1494.4 402.8a1.9 1.1 0 1 0 3.7 0a1.9 1.1 0 1 0 -3.7 0M1484.7 408.4a1.9 1.1 0 1 0 3.7 0a1.9 1.1 0 1 0 -3.7 0M1474.9 414.0a1.9 1.1 0 1 0 3.7 0a1.9 1.1 0 1 0 -3.7 0M1465.1 419.7a1.9 1.1 0 1 0 3.7 0a1.9 1.1 0 1 0 -3.7 0M1455.3 425.3a1.9 1.1 0 1 0 3.7 0a1.9 1.1 0 1 0 -3.7 0M1445.6 431.0a1.9 1.1 0 1 0 3.7 0a1.9 1.1 0 1 0 -3.7 0M1435.8 436.6a1.9 1.1 0 1 0 3.7 0a1.9 1.1 0 1 0 -3.7 0M1426.0 442.2a1.9 1.1 0 1 0 3.7 0a1.9 1.1 0 1 0 -3.7 0M1416.3 447.9a1.9 1.1 0 1 0 3.7 0a1.9 1.1 0 1 0 -3.7 0M1406.5 453.5a1.9 1.1 0 1 0 3.7 0a1.9 1.1 0 1 0 -3.7 0M1396.7 459.2a1.9 1.1 0 1 0 3.7 0a1.9 1.1 0 1 0 -3.7 0M1387.0 464.8a1.9 1.1 0 1 0 3.7 0a1.9 1.1 0 1 0 -3.7 0M1377.2 470.4a1.9 1.1 0 1 0 3.7 0a1.9 1.1 0 1 0 -3.7 0M1367.4 476.1a1.9 1.1 0 1 0 3.7 0a1.9 1.1 0 1 0 -3.7 0M1357.7 481.7a1.9 1.1 0 1 0 3.7 0a1.9 1.1 0 1 0 -3.7 0M1347.9 487.4a1.9 1.1 0 1 0 3.7 0a1.9 1.1 0 1 0 -3.7 0M1338.1 493.0a1.9 1.1 0 1 0 3.7 0a1.9 1.1 0 1 0 -3.7 0M1328.4 498.6a1.9 1.1 0 1 0 3.7 0a1.9 1.1 0 1 0 -3.7 0M1318.6 504.3a1.9 1.1 0 1 0 3.7 0a1.9 1.1 0 1 0 -3.7 0M1308.8 509.9a1.9 1.1 0 1 0 3.7 0a1.9 1.1 0 1 0 -3.7 0M1299.0 515.6a1.9 1.1 0 1 0 3.7 0a1.9 1.1 0 1 0 -3.7 0M1289.3 521.2a1.9 1.1 0 1 0 3.7 0a1.9 1.1 0 1 0 -3.7 0M1279.5 526.8a1.9 1.1 0 1 0 3.7 0a1.9 1.1 0 1 0 -3.7 0M1269.7 532.5a1.9 1.1 0 1 0 3.7 0a1.9 1.1 0 1 0 -3.7 0M1260.0 538.1a1.9 1.1 0 1 0 3.7 0a1.9 1.1 0 1 0 -3.7 0M1250.2 543.8a1.9 1.1 0 1 0 3.7 0a1.9 1.1 0 1 0 -3.7 0"/>
</g>

<g id="clip" transform="translate(920 460) scale(.144)" style="stroke-width:7.4">
<!-- tube cap behind arm -->
<path class="w" d="M1085 560L1130 520C1160 520 1200 550 1200 590C1200 630 1170 665 1130 670L1100 650Z"/>
<path d="M1100 560C1110 540 1140 530 1150 545M1150 545C1175 560 1170 620 1135 660"/>
<path class="w" d="M200 120L460 70L490 80L510 45L580 -40L1180 300L1110 275L1030 340C1020 360 1025 380 1055 420L1045 500L1120 610L1085 800L1075 830L1045 855L850 740L850 715L835 700L665 755L360 580L380 430L265 365L250 340L160 375L145 350L190 140C192 128 196 122 200 120Z"/>
<path d="M165 360L210 150C212 138 216 132 222 130M205 290L235 180L250 175L262 190L290 200L310 180L440 255L470 210C520 170 580 180 610 210L650 220L600 255L650 290L740 270L780 300L850 320L820 460M205 290L230 305L250 340M245 180L275 198M320 188L440 260"/>
<path d="M460 75L430 175M400 230C405 190 440 170 445 190C470 220 440 240 400 230ZM630 40C630 10 660 10 670 30C690 50 650 70 630 40ZM975 250C980 210 1010 200 1015 220C1040 250 1000 265 975 250Z"/>
<path d="M520 50L640 118M720 160L830 222M880 252L1090 370M690 118L715 108M668 180L680 160M870 222L890 212M840 282L855 262M640 230L660 280M655 225C670 240 680 260 700 265"/>
<path d="M1110 275L1030 340M1055 420L900 480L1120 610M1050 450L925 497L1105 600M780 300C760 350 740 390 755 430L1100 635M760 450L1080 640M1120 610L1085 800M1105 600L1075 790M850 715L1045 830L1085 800M850 740L850 715"/>
<path class="w" d="M690 615L655 750L835 690Z"/><path d="M700 640L675 735L810 690"/>
<ellipse class="w" cx="975" cy="690" rx="62" ry="85" transform="rotate(-12 975 690)"/>
<path d="M1000 610C1040 640 1045 720 1010 765"/>
<path d="M940 660L960 665L965 645L985 660L975 680L1000 690L980 700L985 725L960 715L945 735L945 705L925 695L945 685Z" style="stroke-width:5"/>
</g>
<g id="bracket" transform="translate(920 340) scale(.144)" style="stroke-width:7.4">
<!-- gusset right of bracket -->
<path class="w" d="M1112 1035L1160 920L1215 965L1250 950L1310 1020V1190L1280 1200L1100 1100Z"/>
<path d="M1120 1035L1305 1022M1135 1010L1165 935"/>
<!-- main plate -->
<path class="w" d="M236 212C260 165 310 135 365 150L1085 535C1130 565 1165 620 1180 700L1183 730L1112 1035L1030 985C1000 1010 960 990 940 955C925 925 915 895 940 870L862 782C800 800 760 850 690 850C600 850 520 760 500 620C495 540 520 450 545 370C550 330 520 305 490 318C460 330 450 400 435 460C425 490 370 530 348 575L355 592L180 497C170 490 168 480 172 470Z"/>
<path d="M348 575L500 550M360 590L500 572M440 490C450 510 480 520 500 520M940 955C950 975 965 975 960 950M940 870L880 790M850 815C850 800 860 795 875 800L940 825L920 840L870 835Z"/>
<ellipse class="w" cx="320" cy="388" rx="56" ry="76" transform="rotate(-8 320 388)"/>
<ellipse cx="346" cy="386" rx="30" ry="41" transform="rotate(-8 346 386)"/>
<ellipse class="w" cx="1045" cy="810" rx="56" ry="78" transform="rotate(-8 1045 810)"/>
<ellipse cx="1071" cy="808" rx="30" ry="42" transform="rotate(-8 1071 808)"/>
<ellipse class="w" cx="683" cy="600" rx="121" ry="166" transform="rotate(-10 683 600)"/>
<path d="M590 490L800 610M640 440L790 525M575 620L770 730M620 740C640 690 700 690 720 750"/>
<ellipse cx="687" cy="478" rx="16" ry="10"/><ellipse cx="742" cy="508" rx="16" ry="10"/>
<path d="M460 400L520 435M470 340L540 380"/>
<ellipse cx="517" cy="340" rx="15" ry="9"/><ellipse cx="525" cy="382" rx="15" ry="9" style="stroke-width:12"/>
</g>

<g id="under" class="T3" transform="translate(1180 380) scale(.28802)">
<!-- second line under right face, lines along right face -->
<path d="M590 800L1005 563M1130 480L1270 400M910 610L1000 560"/>
<!-- tube 6 (plate with slot + cylinder) -->
<path class="w" style="stroke:none" d="M435 880H727V1200L545 1290L435 1330Z"/>
<path d="M435 880V1340M560 930V1180M725 760V1170"/>
<path d="M482 940C455 940 448 962 448 990V1120C448 1155 465 1165 485 1160C505 1155 516 1130 516 1100V970C516 948 505 940 482 940Z"/>
<path d="M560 1180C558 1210 552 1240 548 1255C590 1290 700 1285 748 1230C752 1215 745 1190 727 1170"/>
<path d="M562 1188C600 1210 690 1205 725 1170"/>
<path d="M515 1210C525 1195 538 1200 530 1222C524 1235 512 1230 515 1210Z"/>
<path d="M440 1250C452 1240 458 1255 450 1270"/>
<path d="M340 1210L352 1218L362 1208L365 1220L378 1222L366 1230L364 1242L354 1232L342 1238L348 1226Z" style="stroke-width:2.5"/>
<!-- slotted plate + cylinder under U-bend -->
<path class="w" style="stroke:none" d="M725 690H1012V1040L840 1090L725 1150Z"/>
<path d="M725 700V1150M850 740V1000M1010 740V985M1045 745V830M1100 700V760"/>
<path d="M772 768C745 768 738 790 738 820V950C738 985 755 995 775 990C795 985 806 960 806 930V800C806 778 795 768 772 768Z"/>
<path d="M750 775L800 800M748 970C770 985 795 965 800 940"/>
<path d="M850 1000C848 1030 842 1050 840 1062C880 1095 990 1090 1035 1040C1040 1025 1030 1000 1012 985"/>
<path d="M852 1008C890 1030 980 1020 1010 985"/>
<path d="M870 1085L885 1100L905 1092"/>
<path d="M800 1030C810 1020 822 1025 815 1045C810 1055 800 1050 800 1030Z"/>
<path d="M730 1075C742 1065 748 1080 740 1095"/>
<path d="M725 1150L840 1090M1040 900L1260 1030"/>
</g>

<g id="rbracket" transform="translate(1440 500) scale(.144)" style="stroke-width:7.3">
<path class="w" style="stroke:none" d="M515 225L985 320L1250 380L1330 395L1545 515L1555 535V1000L1530 1020L1430 965L1325 905L1060 850L340 690L300 660L405 560L510 420Z"/>
<path d="M515 225L985 320M518 238L985 333M1250 380L1330 395L1545 515C1552 520 1555 527 1555 535V720C1548 740 1545 760 1550 780C1555 790 1555 800 1555 810V1000L1530 1020L1430 965"/>
<path d="M1260 392L1325 405L1538 525C1540 528 1541 532 1541 536V1005"/>
<path d="M1325 400V905"/>
<path d="M510 420L895 497M435 535L830 615M1180 560L1310 585L1535 710M1110 675L1320 715L1530 835M1060 850L1325 905L1345 915"/>
<path d="M405 560V710M300 660C310 650 325 665 340 690L790 795"/>
<path d="M1435 545C1440 535 1450 535 1460 540L1495 575C1505 585 1510 600 1505 615C1500 630 1490 630 1480 622L1440 598C1430 590 1428 565 1435 545Z"/>
<path d="M1445 552L1497 585C1503 595 1503 612 1497 620"/>
<path d="M1430 870C1425 850 1435 835 1450 840L1495 870C1508 885 1512 905 1508 925C1503 940 1490 940 1480 925"/>
<path d="M1440 868C1440 855 1450 850 1460 858"/>
<!-- small clamp -->
<path class="w" d="M215 770L300 720C305 690 325 690 335 710V880L215 940Z"/>
<path d="M215 785L318 730M300 720C300 700 318 700 318 730V870"/>
<ellipse cx="255" cy="840" rx="38" ry="58" transform="rotate(25 255 840)"/>
<ellipse cx="260" cy="860" rx="13" ry="20" transform="rotate(25 260 860)"/>
<path d="M290 950L720 1195"/>
<path d="M235 1020C260 1010 285 1010 290 1030V1100" style="stroke-width:12"/>
</g>

<g id="ubend">
<path class="w" d="M1454.8 482.9L1484.2 499.9L1462.9 536.7L1433.4 519.7Z" style="stroke:none"/><ellipse cx="1444.1" cy="501.3" rx="12.3" ry="21.3" transform="rotate(30 1444.1 501.3)" class="w" style="stroke:none"/><path d="M1454.8 482.9L1484.2 499.9M1433.4 519.7L1462.9 536.7"/><path d="M1454.8 482.9C1454.2 482.7 1452.8 482.0 1451.6 481.9C1450.5 481.8 1449.3 481.9 1448.0 482.3C1446.7 482.6 1445.4 483.2 1444.1 483.9C1442.8 484.7 1441.5 485.6 1440.2 486.8C1439.0 487.9 1437.7 489.2 1436.6 490.6C1435.5 492.0 1434.4 493.6 1433.5 495.2C1432.5 496.7 1431.7 498.5 1431.1 500.1C1430.4 501.8 1429.9 503.6 1429.6 505.2C1429.2 506.8 1429.0 508.5 1429.0 510.0C1429.0 511.5 1429.2 512.9 1429.6 514.2C1429.9 515.5 1430.4 516.6 1431.1 517.5C1431.7 518.5 1433.1 519.4 1433.4 519.7"/><path d="M1457.0 484.5C1456.5 484.4 1455.1 483.7 1454.0 483.6C1452.8 483.5 1451.6 483.6 1450.4 483.9C1449.1 484.3 1447.8 484.8 1446.5 485.6C1445.2 486.3 1443.9 487.3 1442.7 488.4C1441.4 489.5 1440.2 490.8 1439.1 492.1C1438.0 493.5 1436.9 495.1 1436.0 496.6C1435.1 498.2 1434.3 499.9 1433.7 501.6C1433.0 503.2 1432.5 504.9 1432.2 506.5C1431.9 508.2 1431.7 509.8 1431.7 511.3C1431.7 512.8 1431.9 514.2 1432.2 515.4C1432.5 516.7 1433.0 517.8 1433.7 518.7C1434.3 519.6 1435.6 520.5 1436.0 520.9" style="stroke-width:.9"/>
<path d="M1394.0 564.2L1397.8 565.8L1400.6 567.3L1403.5 568.7L1406.6 570.0L1409.8 571.2L1413.2 572.3L1416.6 573.2L1420.2 574.0L1423.8 574.7L1427.4 575.3L1431.1 575.7L1434.8 575.9L1438.6 576.1L1442.3 576.1L1446.0 575.9L1449.7 575.6L1453.3 575.2L1456.8 574.6L1460.3 573.9L1463.7 573.1L1466.9 572.1L1470.0 571.0L1473.0 569.8L1475.8 568.5L1478.5 567.0L1480.9 565.5L1483.2 563.9L1485.3 562.2L1487.2 560.4L1488.9 558.5L1490.3 556.5L1491.6 554.6L1492.5 552.5L1493.3 550.4L1493.8 548.3L1494.1 546.2L1494.1 544.0L1493.9 541.9L1493.4 539.7L1492.7 537.6L1491.8 535.5L1490.6 533.4L1489.2 531.3L1487.5 529.3L1485.7 527.4L1483.6 525.6L1481.4 523.8L1478.9 522.1L1476.3 520.5L1471.5 517.1" style="stroke:#111;stroke-width:40.55;stroke-linecap:butt;stroke-linejoin:round;fill:none"/><path d="M1392.6 563.6L1394.0 564.2L1397.8 565.8L1400.6 567.3L1403.5 568.7L1406.6 570.0L1409.8 571.2L1413.2 572.3L1416.6 573.2L1420.2 574.0L1423.8 574.7L1427.4 575.3L1431.1 575.7L1434.8 575.9L1438.6 576.1L1442.3 576.1L1446.0 575.9L1449.7 575.6L1453.3 575.2L1456.8 574.6L1460.3 573.9L1463.7 573.1L1466.9 572.1L1470.0 571.0L1473.0 569.8L1475.8 568.5L1478.5 567.0L1480.9 565.5L1483.2 563.9L1485.3 562.2L1487.2 560.4L1488.9 558.5L1490.3 556.5L1491.6 554.6L1492.5 552.5L1493.3 550.4L1493.8 548.3L1494.1 546.2L1494.1 544.0L1493.9 541.9L1493.4 539.7L1492.7 537.6L1491.8 535.5L1490.6 533.4L1489.2 531.3L1487.5 529.3L1485.7 527.4L1483.6 525.6L1481.4 523.8L1478.9 522.1L1476.3 520.5L1471.5 517.1L1470.2 516.2" style="stroke:#fff;stroke-width:38.45;stroke-linecap:butt;stroke-linejoin:round;fill:none"/>
<path d="M1482.0 499.8C1481.6 499.6 1480.2 498.9 1479.1 498.9C1478.0 498.8 1476.8 498.9 1475.6 499.2C1474.4 499.5 1473.1 500.1 1471.9 500.8C1470.7 501.5 1469.4 502.4 1468.2 503.5C1467.0 504.5 1465.8 505.8 1464.7 507.1C1463.7 508.5 1462.6 510.0 1461.8 511.5C1460.9 513.0 1460.1 514.6 1459.5 516.2C1458.9 517.8 1458.4 519.5 1458.0 521.1C1457.7 522.6 1457.5 524.2 1457.5 525.6C1457.5 527.1 1457.7 528.5 1458.0 529.6C1458.4 530.8 1458.9 531.9 1459.5 532.8C1460.1 533.7 1461.4 534.6 1461.7 534.9"/><path class="w" d="M1375.2 528.8L1404.7 545.8L1383.4 582.6L1353.9 565.6Z" style="stroke:none"/><ellipse cx="1364.6" cy="547.2" rx="12.3" ry="21.3" transform="rotate(30 1364.6 547.2)" class="w" style="stroke:none"/><path d="M1375.2 528.8L1404.7 545.8M1353.9 565.6L1383.4 582.6"/><path d="M1375.2 528.8C1374.7 528.6 1373.3 527.9 1372.1 527.8C1371.0 527.7 1369.8 527.8 1368.5 528.2C1367.2 528.5 1365.9 529.1 1364.6 529.8C1363.3 530.6 1362.0 531.5 1360.7 532.7C1359.5 533.8 1358.2 535.1 1357.1 536.5C1356.0 537.9 1354.9 539.5 1354.0 541.1C1353.0 542.6 1352.2 544.4 1351.6 546.0C1350.9 547.7 1350.4 549.5 1350.1 551.1C1349.7 552.7 1349.5 554.4 1349.5 555.9C1349.5 557.4 1349.7 558.8 1350.1 560.1C1350.4 561.4 1350.9 562.5 1351.6 563.4C1352.2 564.4 1353.6 565.3 1353.9 565.6"/><path d="M1377.5 530.4C1377.0 530.3 1375.6 529.6 1374.5 529.5C1373.3 529.4 1372.1 529.5 1370.9 529.8C1369.6 530.2 1368.3 530.7 1367.0 531.5C1365.7 532.2 1364.4 533.2 1363.2 534.3C1361.9 535.4 1360.7 536.7 1359.6 538.0C1358.5 539.4 1357.4 541.0 1356.5 542.5C1355.6 544.1 1354.8 545.8 1354.2 547.5C1353.5 549.1 1353.0 550.8 1352.7 552.4C1352.4 554.1 1352.2 555.7 1352.2 557.2C1352.2 558.7 1352.4 560.1 1352.7 561.3C1353.0 562.6 1353.5 563.7 1354.2 564.6C1354.8 565.5 1356.1 566.4 1356.5 566.8" style="stroke-width:.9"/>
<path d="M1404.5 546.8C1404.0 546.7 1402.6 546.0 1401.6 545.9C1400.5 545.8 1399.3 545.9 1398.1 546.2C1396.9 546.6 1395.6 547.1 1394.4 547.8C1393.2 548.5 1391.9 549.5 1390.7 550.5C1389.5 551.6 1388.3 552.9 1387.2 554.2C1386.1 555.5 1385.1 557.0 1384.2 558.5C1383.4 560.1 1382.6 561.7 1382.0 563.3C1381.3 564.9 1380.9 566.6 1380.5 568.1C1380.2 569.7 1380.0 571.3 1380.0 572.7C1380.0 574.1 1380.2 575.5 1380.5 576.7C1380.8 577.9 1381.3 579.0 1382.0 579.9C1382.6 580.7 1383.9 581.6 1384.2 582.0"/></g>

<g id="spipe">
<path class="w" d="M1529.1 436.5L1557.6 453.0L1536.3 489.8L1507.8 473.3Z" style="stroke:none"/><ellipse cx="1518.4" cy="454.9" rx="12.3" ry="21.3" transform="rotate(30 1518.4 454.9)" class="w" style="stroke:none"/><path d="M1529.1 436.5L1557.6 453.0M1507.8 473.3L1536.3 489.8"/><path d="M1529.1 436.5C1528.5 436.3 1527.1 435.6 1525.9 435.5C1524.8 435.4 1523.6 435.5 1522.3 435.9C1521.0 436.2 1519.7 436.8 1518.4 437.5C1517.1 438.3 1515.8 439.2 1514.5 440.4C1513.3 441.5 1512.0 442.8 1510.9 444.2C1509.8 445.6 1508.7 447.2 1507.8 448.8C1506.8 450.3 1506.0 452.1 1505.4 453.7C1504.7 455.4 1504.2 457.2 1503.9 458.8C1503.5 460.4 1503.3 462.1 1503.3 463.6C1503.3 465.1 1503.5 466.5 1503.9 467.8C1504.2 469.1 1504.7 470.2 1505.4 471.1C1506.0 472.1 1507.4 473.0 1507.8 473.3"/><path d="M1531.3 438.1C1530.8 438.0 1529.4 437.3 1528.3 437.2C1527.1 437.1 1525.9 437.2 1524.7 437.5C1523.4 437.9 1522.1 438.4 1520.8 439.2C1519.5 439.9 1518.2 440.9 1517.0 442.0C1515.7 443.1 1514.5 444.4 1513.4 445.7C1512.3 447.1 1511.2 448.7 1510.3 450.2C1509.4 451.8 1508.6 453.5 1508.0 455.2C1507.3 456.8 1506.8 458.5 1506.5 460.1C1506.2 461.8 1506.0 463.4 1506.0 464.9C1506.0 466.4 1506.2 467.8 1506.5 469.0C1506.8 470.3 1507.3 471.4 1508.0 472.3C1508.6 473.2 1509.9 474.1 1510.3 474.5" style="stroke-width:.9"/>
<path d="M1548.0 470.5C1548.6 470.8 1546.6 468.9 1551.5 472.5C1556.4 476.1 1570.2 484.4 1577.5 492.3C1584.8 500.2 1591.6 510.6 1595.3 519.7C1599.0 528.8 1600.6 537.4 1599.6 547.0C1598.5 556.6 1592.8 567.9 1589.0 577.3C1585.2 586.7 1579.3 595.5 1576.6 603.2C1573.9 610.9 1573.5 616.4 1572.9 623.4C1572.3 630.4 1572.9 639.6 1572.9 645.0C1572.9 650.4 1572.9 654.2 1572.9 656.0" style="stroke:#111;stroke-width:39.55;stroke-linecap:butt;stroke-linejoin:round;fill:none"/><path d="M1546.7 469.8C1546.9 469.9 1547.2 470.0 1548.0 470.5C1548.8 471.0 1546.6 468.9 1551.5 472.5C1556.4 476.1 1570.2 484.4 1577.5 492.3C1584.8 500.2 1591.6 510.6 1595.3 519.7C1599.0 528.8 1600.6 537.4 1599.6 547.0C1598.5 556.6 1592.8 567.9 1589.0 577.3C1585.2 586.7 1579.3 595.5 1576.6 603.2C1573.9 610.9 1573.5 616.4 1572.9 623.4C1572.3 630.4 1572.9 639.6 1572.9 645.0C1572.9 650.4 1572.9 653.9 1572.9 656.0C1572.9 658.1 1572.9 657.2 1572.9 657.5" style="stroke:#fff;stroke-width:37.45;stroke-linecap:butt;stroke-linejoin:round;fill:none"/>
<path d="M1557.5 453.0C1557.0 452.8 1555.6 452.2 1554.6 452.1C1553.5 452.0 1552.3 452.1 1551.2 452.4C1550.0 452.7 1548.7 453.3 1547.5 454.0C1546.3 454.7 1545.0 455.6 1543.8 456.6C1542.7 457.7 1541.5 458.9 1540.4 460.2C1539.4 461.6 1538.4 463.0 1537.5 464.5C1536.6 466.0 1535.9 467.6 1535.3 469.2C1534.6 470.8 1534.2 472.4 1533.8 474.0C1533.5 475.5 1533.4 477.1 1533.4 478.5C1533.4 479.9 1533.5 481.2 1533.8 482.4C1534.2 483.6 1534.6 484.7 1535.3 485.5C1535.9 486.4 1537.1 487.3 1537.5 487.6"/><ellipse class="w" cx="1573.1" cy="688.3" rx="36" ry="15.8"/><path class="w" d="M1545.7 657.6V685.3A27.4 12 0 0 0 1600.5 685.3V657.6C1599.5 651.6 1594.1 648.6 1592.4 644.6H1553.8C1552.1 648.6 1546.7 651.6 1545.7 657.6Z"/><path d="M1554.7 644.6H1591.5" style="stroke:#fff;stroke-width:2.5"/><path d="M1545.7 657.6A27.4 11.5 0 0 0 1600.5 657.6"/>
</g>

</g>
<g class="T3" transform="translate(1180 380) scale(.28802)">
<!-- spring clip installed -->
<path d="M455 880C470 900 500 930 505 960C480 990 450 1040 470 1090C490 1130 530 1120 535 1080C540 1040 500 1000 470 990M480 890C500 905 520 930 520 960V1090" style="stroke-width:3.2"/>
<path d="M440 1000C430 1050 440 1120 480 1160C500 1150 520 1130 530 1110"/>
</g>

<g id="fpipeTop">
<path class="w" d="M1292.9 574.7L1321.4 591.2L1300.1 628.0L1271.5 611.5Z" style="stroke:none"/><ellipse cx="1282.2" cy="593.1" rx="12.3" ry="21.3" transform="rotate(30 1282.2 593.1)" class="w" style="stroke:none"/><path d="M1292.9 574.7L1321.4 591.2M1271.5 611.5L1300.1 628.0"/><path d="M1292.9 574.7C1292.3 574.5 1290.9 573.8 1289.7 573.7C1288.6 573.6 1287.4 573.7 1286.1 574.1C1284.8 574.4 1283.5 575.0 1282.2 575.7C1280.9 576.5 1279.6 577.4 1278.3 578.6C1277.1 579.7 1275.8 581.0 1274.7 582.4C1273.6 583.8 1272.5 585.4 1271.6 587.0C1270.6 588.5 1269.8 590.3 1269.2 591.9C1268.5 593.6 1268.0 595.4 1267.7 597.0C1267.3 598.6 1267.1 600.3 1267.1 601.8C1267.1 603.3 1267.3 604.7 1267.7 606.0C1268.0 607.3 1268.5 608.4 1269.2 609.3C1269.8 610.3 1271.2 611.2 1271.5 611.5"/><path d="M1295.1 576.3C1294.6 576.2 1293.2 575.5 1292.1 575.4C1290.9 575.3 1289.7 575.4 1288.5 575.7C1287.2 576.1 1285.9 576.6 1284.6 577.4C1283.3 578.1 1282.0 579.1 1280.8 580.2C1279.5 581.3 1278.3 582.6 1277.2 583.9C1276.1 585.3 1275.0 586.9 1274.1 588.4C1273.2 590.0 1272.4 591.7 1271.8 593.4C1271.1 595.0 1270.6 596.7 1270.3 598.3C1270.0 600.0 1269.8 601.6 1269.8 603.1C1269.8 604.6 1270.0 606.0 1270.3 607.2C1270.6 608.5 1271.1 609.6 1271.8 610.5C1272.4 611.4 1273.7 612.3 1274.1 612.7" style="stroke-width:.9"/>
<path d="M1308.0 608.0C1308.3 608.2 1304.0 605.5 1309.6 609.0C1315.1 612.5 1333.0 619.8 1341.3 629.1C1349.5 638.5 1355.7 654.8 1359.1 665.1C1362.5 675.4 1363.0 682.0 1361.5 691.1C1360.0 700.2 1353.7 710.8 1349.9 719.9C1346.2 729.0 1341.4 735.8 1339.0 745.8C1336.6 755.8 1336.2 771.9 1335.7 780.1C1335.2 788.3 1335.7 792.5 1335.7 795.0" style="stroke:#111;stroke-width:39.55;stroke-linecap:butt;stroke-linejoin:round;fill:none"/><path d="M1306.7 607.2C1306.9 607.3 1307.5 607.7 1308.0 608.0C1308.5 608.3 1304.0 605.5 1309.6 609.0C1315.1 612.5 1333.0 619.8 1341.3 629.1C1349.5 638.5 1355.7 654.8 1359.1 665.1C1362.5 675.4 1363.0 682.0 1361.5 691.1C1360.0 700.2 1353.7 710.8 1349.9 719.9C1346.2 729.0 1341.4 735.8 1339.0 745.8C1336.6 755.8 1336.2 771.9 1335.7 780.1C1335.2 788.3 1335.7 792.3 1335.7 795.0C1335.7 797.7 1335.7 796.2 1335.7 796.5" style="stroke:#fff;stroke-width:37.45;stroke-linecap:butt;stroke-linejoin:round;fill:none"/>
<path d="M1319.0 591.3C1318.5 591.1 1317.1 590.5 1316.1 590.4C1315.0 590.3 1313.8 590.4 1312.7 590.7C1311.5 591.0 1310.2 591.6 1309.0 592.3C1307.8 593.0 1306.5 593.9 1305.3 594.9C1304.2 596.0 1303.0 597.2 1301.9 598.5C1300.9 599.9 1299.9 601.3 1299.0 602.8C1298.1 604.3 1297.4 605.9 1296.8 607.5C1296.1 609.1 1295.7 610.7 1295.3 612.3C1295.0 613.8 1294.9 615.4 1294.9 616.8C1294.9 618.2 1295.0 619.5 1295.3 620.7C1295.7 621.9 1296.1 623.0 1296.8 623.8C1297.4 624.7 1298.6 625.6 1299.0 625.9"/><ellipse class="w" cx="1335.7" cy="829.6" rx="36" ry="15.8"/><path class="w" d="M1308.3 796.0V826.6A27.4 12 0 0 0 1363.1 826.6V796.0C1362.1 790.0 1356.7 787.0 1355.0 783.0H1316.4C1314.7 787.0 1309.3 790.0 1308.3 796.0Z"/><path d="M1317.3 783.0H1354.1" style="stroke:#fff;stroke-width:2.5"/><path d="M1308.3 796.0A27.4 11.5 0 0 0 1363.1 796.0"/>
</g>

<use href="#part2" y="964.4"/>
<use href="#U" y="916"/>
<g id="jpipe" transform="translate(0 916)">
<path class="w" d="M1292.9 574.7L1321.4 591.2L1300.1 628.0L1271.5 611.5Z" style="stroke:none"/><ellipse cx="1282.2" cy="593.1" rx="12.3" ry="21.3" transform="rotate(30 1282.2 593.1)" class="w" style="stroke:none"/><path d="M1292.9 574.7L1321.4 591.2M1271.5 611.5L1300.1 628.0"/><path d="M1292.9 574.7C1292.3 574.5 1290.9 573.8 1289.7 573.7C1288.6 573.6 1287.4 573.7 1286.1 574.1C1284.8 574.4 1283.5 575.0 1282.2 575.7C1280.9 576.5 1279.6 577.4 1278.3 578.6C1277.1 579.7 1275.8 581.0 1274.7 582.4C1273.6 583.8 1272.5 585.4 1271.6 587.0C1270.6 588.5 1269.8 590.3 1269.2 591.9C1268.5 593.6 1268.0 595.4 1267.7 597.0C1267.3 598.6 1267.1 600.3 1267.1 601.8C1267.1 603.3 1267.3 604.7 1267.7 606.0C1268.0 607.3 1268.5 608.4 1269.2 609.3C1269.8 610.3 1271.2 611.2 1271.5 611.5"/><path d="M1295.1 576.3C1294.6 576.2 1293.2 575.5 1292.1 575.4C1290.9 575.3 1289.7 575.4 1288.5 575.7C1287.2 576.1 1285.9 576.6 1284.6 577.4C1283.3 578.1 1282.0 579.1 1280.8 580.2C1279.5 581.3 1278.3 582.6 1277.2 583.9C1276.1 585.3 1275.0 586.9 1274.1 588.4C1273.2 590.0 1272.4 591.7 1271.8 593.4C1271.1 595.0 1270.6 596.7 1270.3 598.3C1270.0 600.0 1269.8 601.6 1269.8 603.1C1269.8 604.6 1270.0 606.0 1270.3 607.2C1270.6 608.5 1271.1 609.6 1271.8 610.5C1272.4 611.4 1273.7 612.3 1274.1 612.7" style="stroke-width:.9"/>
<path d="M1306.7 607.5C1307.4 607.9 1307.7 608.1 1311.0 609.8C1314.4 611.6 1321.8 615.6 1326.9 617.9C1331.9 620.2 1337.2 623.2 1341.3 623.4C1345.4 623.6 1349.3 621.7 1351.4 619.1C1353.4 616.4 1353.3 613.8 1353.7 607.5C1354.1 601.3 1353.7 589.3 1353.7 581.6C1353.7 573.9 1353.7 564.8 1353.7 561.5" style="stroke:#111;stroke-width:39.05;stroke-linecap:butt;stroke-linejoin:round;fill:none"/><path d="M1305.4 606.8C1305.6 606.9 1305.8 607.0 1306.7 607.5C1307.7 608.0 1307.7 608.1 1311.0 609.8C1314.4 611.6 1321.8 615.6 1326.9 617.9C1331.9 620.2 1337.2 623.2 1341.3 623.4C1345.4 623.6 1349.3 621.7 1351.4 619.1C1353.4 616.4 1353.3 613.8 1353.7 607.5C1354.1 601.3 1353.7 589.3 1353.7 581.6C1353.7 573.9 1353.7 565.1 1353.7 561.5C1353.7 557.8 1353.7 560.2 1353.7 560.0" style="stroke:#fff;stroke-width:36.95;stroke-linecap:butt;stroke-linejoin:round;fill:none"/>
<path d="M1319.0 591.3C1318.5 591.1 1317.1 590.5 1316.1 590.4C1315.0 590.3 1313.8 590.4 1312.7 590.7C1311.5 591.0 1310.2 591.6 1309.0 592.3C1307.8 593.0 1306.5 593.9 1305.3 594.9C1304.2 596.0 1303.0 597.2 1301.9 598.5C1300.9 599.9 1299.9 601.3 1299.0 602.8C1298.1 604.3 1297.4 605.9 1296.8 607.5C1296.1 609.1 1295.7 610.7 1295.3 612.3C1295.0 613.8 1294.9 615.4 1294.9 616.8C1294.9 618.2 1295.0 619.5 1295.3 620.7C1295.7 621.9 1296.1 623.0 1296.8 623.8C1297.4 624.7 1298.6 625.6 1299.0 625.9"/><path class="w" d="M1328.4 531.2V564.2A25.3 9 0 0 0 1379.0 564.2V531.2Z"/><ellipse class="w" cx="1353.7" cy="531.2" rx="25.3" ry="14.4"/><ellipse cx="1353.7" cy="531.7" rx="18" ry="9.5"/><path d="M1336.7 536.2A18 9 0 0 0 1370.7 536.2"/><path d="M1328.4 543.2A25.3 9 0 0 0 1379.0 543.2"/></g>

<g id="botmisc" transform="translate(0 916)">
<!-- box edge differences in bottom unit -->
<path d="M1118 159.4L1534.5 398.4" style="stroke:#fff;stroke-width:3.4;stroke-linecap:butt"/>
<path d="M1119 157L1534.5 395.6M1118 159.4L1122 161.5" class="th"/>
<path d="M1534.5 398.4L1259.5 556.5" style="stroke-width:2.2;stroke-dasharray:1.1 .7;stroke-linecap:butt"/>
<path d="M828 309.7L1108.3 143.6" style="stroke-width:2.2;stroke-dasharray:1.1 .7;stroke-linecap:butt"/>
<!-- screws on tray front face -->
<g id="ascrew"><ellipse class="w" cx="866.4" cy="629.7" rx="8.6" ry="10.3" transform="rotate(-20 866.4 629.7)"/><path d="M861 632C863 626 868 624 871 628C872 632 870 634 868 633M866 627L869 636"/></g>
<use href="#ascrew" x="360.8" y="208.1"/>
<!-- pin replaces washer -->
<path class="w" style="stroke:none" d="M1205 750h24v18h-24z"/>
<ellipse class="w" cx="1217" cy="767" rx="8" ry="3.8"/>
<path class="w" d="M1211 766V749C1212 744 1222 744 1223 749V766C1221 769 1213 769 1211 766Z"/><path d="M1211 752C1214 755 1220 755 1223 752"/>
<path class="w" style="stroke:none" d="M950 602h20v17h-20z"/>
</g>
<!-- bottom dashed diag -->
<g class="th"><path d="M1383.6 1586.3L1404 1598M1424 1610L1445 1622M1465 1633.5L1486 1645.5M1506 1657L1527 1669L1539.5 1677"/></g>

<g id="global" class="th">
<!-- bracket 1 -->
<path d="M852 183.4L782.7 223.7V788.4M782.7 802V855.2L869 905.3"/>
<!-- bracket 16 -->
<path d="M868.5 1138.8L782.6 1188.5V1750.9M782.6 1766.7V1818.6L869.4 1869.6"/>
<!-- leaders left -->
<path d="M414.7 696.5L664.5 840.3M335.5 757.8L664.5 946.5M520.7 950L664.5 1033.4M183.4 850.9L664.5 1129.9"/>
<!-- leader 7 bottom, 3 bottom -->
<path d="M708.5 1716.6L794.8 1766.7M1627.9 1672.4L1698.3 1712.8"/>
<!-- dashes screw 3 top -->
<g id="dash3"><path d="M1639.8 737L1660.2 725.7M1680.2 714.4L1706.1 699.2L1697.3 694.3M1679.6 684L1658.6 671.7M1637.6 660.1L1617.5 648.4L1637.6 636.8M1645.6 632.3L1653.7 628.1"/></g>
<use href="#dash3" y="916"/>
<!-- diag 1 top -->
<path d="M1383.8 721.1L1404.1 732.2M1424.3 744.1L1445.5 756.1M1464.9 768.1L1486.1 780.1M1506.4 792.1L1527.6 804.1L1539.5 810.5"/>
<!-- vertical -->
<path d="M1539.6 812V1676" style="stroke:#fff;stroke-width:10.5;stroke-linecap:butt"/>
<path d="M1539.5 810V872.7"/><path d="M1539.5 897.7V1679" style="stroke-dasharray:24 23.45"/>
<!-- diag 2 -->
<path d="M1539.6 954.9L1550.2 960.6M1569 972.2L1589.1 983.7M1609.1 995.5L1629.5 1007.8M1649.8 1019.4L1670.8 1031.4M1690.9 1042.7L1711.9 1055M1731.3 1065.8L1753 1078.4M1772.3 1089.7L1794 1102"/>
<!-- 12 ring axis -->
<path d="M1077.7 2298.7V2321.3M1077.7 2337V2354.2"/>
</g>
<text x="1707.5" y="1741.2">3</text>

<g id="rod">
<path d="M511.8 661.6L397.7 1212.5M516.4 662.5L402.6 1213.1M405.5 1174.8L409.5 1176.5"/>
<g transform="translate(360 1150) scale(.0576)" style="stroke-width:18">
<path class="w" d="M580 1115L650 1085L795 1125L740 1330C780 1340 800 1380 810 1410L765 1640L650 1660L540 1650C515 1620 505 1590 505 1570Z"/>
<path d="M580 1115L700 1160L795 1125M700 1160L660 1170L620 1400M640 1340L740 1325M640 1340L700 1440L810 1410M700 1440L650 1660"/>
<path class="k" d="M515 1590L590 1640L560 1660L525 1640Z"/>
</g>
</g>
<g id="p9_13" transform="translate(30 650) scale(.18433)" style="stroke-width:5.7">
<defs><g id="p9">
<path class="w" d="M925 150C930 135 960 128 985 140L1000 155L1020 135L1130 190L1150 165C1180 135 1240 125 1275 150L1280 165L1245 185L1265 210C1300 215 1340 190 1385 215L1395 240C1385 280 1360 300 1385 335L1630 480C1650 495 1660 520 1655 545L1640 600C1630 625 1610 630 1590 620L1000 280L990 265L985 235L945 215C915 200 915 170 925 150Z"/>
<path d="M1020 142L1130 197M1385 342L1625 487C1642 500 1650 520 1646 545L1632 598M1150 165L1380 300"/>
<path d="M1060 210L1440 425C1455 435 1455 465 1445 480C1435 490 1420 490 1410 482L1045 268C1035 255 1040 215 1060 210Z"/>
<ellipse cx="1560" cy="530" rx="36" ry="47" transform="rotate(-15 1560 530)"/>
<path class="w" d="M1470 568L1520 535C1530 525 1540 520 1550 522C1562 526 1560 545 1545 552L1500 600Z"/>
<path d="M1520 535L1530 560M1535 525C1548 530 1548 545 1538 553"/>
<ellipse class="w" cx="1432" cy="610" rx="44" ry="56" transform="rotate(-20 1432 610)"/>
<path d="M1462 562C1485 580 1488 625 1462 655"/>
<path d="M1405 590L1422 600L1428 580L1438 602L1455 605L1438 618L1435 640L1422 622L1402 625L1415 610Z" style="stroke-width:4"/>
</g></defs>
<use href="#p9"/>
<!-- part 13 extra body -->
<path class="w" d="M265 810L250 915L490 1052L600 1010L640 930L300 760Z"/>
<path d="M510 948L487 1052L600 1012M520 965L500 1040M510 948C515 940 525 940 530 948L600 990"/>
<use href="#p9" x="-805" y="475"/>
</g>
<g id="p6_8" transform="translate(380 480) scale(.18433)" style="stroke-width:5.7">
<!-- rod (long) -->

<!-- part 8 tube -->
<path class="w" d="M255 530L215 640L150 1000L75 1300C55 1380 60 1420 80 1470L232 1800V2395H312V1760L185 1460C165 1420 160 1400 175 1330L245 1020L310 680L355 570Z"/>
<ellipse class="w" cx="272" cy="2420" rx="72" ry="36"/><ellipse cx="272" cy="2412" rx="56" ry="26"/>
<path class="w" d="M232 2300V2405C250 2420 295 2420 312 2405V2300Z" style="stroke:none"/><path d="M232 2300V2405C250 2420 295 2420 312 2405V2300"/>
<path d="M222 855C235 845 265 845 265 860L240 975C235 995 200 995 192 980Z"/>
<!-- cap -->
<path class="w" d="M250 500C270 540 350 560 385 535L380 515L260 480Z"/>
<path class="w" d="M190 410C180 425 190 440 215 445L400 515C440 530 480 520 490 500C495 480 480 465 460 455L445 410C420 375 340 350 290 365L262 350L240 385Z"/>
<path d="M245 400C270 370 350 360 400 385C430 400 440 420 445 440C430 455 410 465 405 480M215 430L300 460C320 465 330 455 320 445L245 415M290 470C285 480 295 490 305 480M400 470C420 455 450 460 465 480C470 495 455 505 440 500M260 500C300 530 350 540 385 520"/>
<!-- part 6 -->
<path class="w" d="M880 545L1095 665L1010 1060L765 905Z"/>
<path class="w" d="M822 245L933 258L792 962C770 985 700 975 680 948Z"/>
<ellipse class="w" cx="878" cy="250" rx="56" ry="22"/>
<path d="M868 240L872 215C880 208 888 210 890 215L895 242"/>
<path class="w" d="M1128 520L1238 535L1110 1160C1090 1180 1020 1175 1003 1140Z"/>
<ellipse class="w" cx="1183" cy="527" rx="56" ry="22"/>
<path class="w" d="M1030 1170L1015 1285L1025 1300L1045 1290L1065 1175Z"/>
<path class="w" d="M1172 520L1190 400C1200 350 1230 330 1260 320L1600 215L1405 100C1395 85 1405 70 1420 72L1620 185C1640 200 1640 240 1615 250L1275 352C1250 360 1235 370 1225 410L1205 525Z"/>
<path class="w" d="M800 600L850 585L915 620L905 675L855 690L800 660Z"/><path d="M850 585L848 640L800 655M848 640L905 675"/>
<path class="w" d="M935 685L990 670L1050 705L1045 755L990 770L935 740Z"/><path d="M990 670L985 725L935 738M985 725L1045 755"/>
<path d="M850 585L840 570C845 560 855 558 862 562M915 620L960 645L990 670"/>
<path d="M862 765L1000 845L985 935L842 850ZM875 790L985 853M848 835L870 770"/>
</g>
<g id="p10" transform="translate(440 880) scale(.0691)" style="stroke-width:16">
<path class="w" d="M455 625L605 645C630 600 680 570 740 555L850 540L870 575L850 600L980 520C1050 490 1150 465 1230 460C1265 465 1275 500 1275 540L1270 650C1230 700 1180 760 1120 790L1020 830C1000 850 1030 870 1010 900C980 960 920 1000 850 1005L840 1090L810 1100L775 1030L770 800C700 810 660 840 640 880C610 910 570 905 540 895L455 875C430 830 425 780 430 740C425 700 440 650 455 625Z"/>
<path d="M800 770C880 750 950 710 985 650L1010 680L1120 630C1180 590 1220 540 1250 490M780 780L835 860L845 1000M810 800L825 1080M870 590L985 530C1060 500 1150 478 1225 472"/>
</g>

<g id="p5" transform="translate(1960 1140) scale(0.08817)">
<path d="M295.0 1062.0C302.5 1057.5 315.8 1034.5 340.0 1035.0C364.2 1035.5 410.0 1050.8 440.0 1065.0C470.0 1079.2 500.0 1102.5 520.0 1120.0C540.0 1137.5 550.3 1154.2 560.0 1170.0C569.7 1185.8 575.0 1207.5 578.0 1215.0" style="stroke:#111;stroke-width:67.00;stroke-linecap:butt;stroke-linejoin:round;fill:none"/><path d="M293.7 1062.8C293.9 1062.6 287.3 1066.6 295.0 1062.0C302.7 1057.4 315.8 1034.5 340.0 1035.0C364.2 1035.5 410.0 1050.8 440.0 1065.0C470.0 1079.2 500.0 1102.5 520.0 1120.0C540.0 1137.5 550.3 1154.2 560.0 1170.0C569.7 1185.8 574.9 1207.3 578.0 1215.0C581.1 1222.7 578.5 1216.2 578.6 1216.4" style="stroke:#fff;stroke-width:43.00;stroke-linecap:butt;stroke-linejoin:round;fill:none"/>
<path d="M380.0 445.0C390.0 459.2 413.3 506.7 440.0 530.0C466.7 553.3 506.7 566.7 540.0 585.0C573.3 603.3 612.5 620.8 640.0 640.0C667.5 659.2 693.0 680.0 705.0 700.0C717.0 720.0 717.8 735.0 712.0 760.0C706.2 785.0 686.2 818.3 670.0 850.0C653.8 881.7 627.0 921.7 615.0 950.0C603.0 978.3 600.8 986.7 598.0 1020.0C595.2 1053.3 597.7 1111.7 598.0 1150.0C598.3 1188.3 589.7 1224.2 600.0 1250.0C610.3 1275.8 638.3 1286.7 660.0 1305.0C681.7 1323.3 714.7 1340.8 730.0 1360.0C745.3 1379.2 749.0 1400.0 752.0 1420.0C755.0 1440.0 754.2 1466.3 748.0 1480.0C741.8 1493.7 729.7 1507.0 715.0 1502.0C700.3 1497.0 685.8 1478.7 660.0 1450.0C634.2 1421.3 595.0 1372.5 560.0 1330.0C525.0 1287.5 480.0 1228.3 450.0 1195.0C420.0 1161.7 405.0 1145.8 380.0 1130.0C355.0 1114.2 322.5 1106.3 300.0 1100.0C277.5 1093.7 258.0 1087.0 245.0 1092.0C232.0 1097.0 222.8 1110.3 222.0 1130.0C221.2 1149.7 230.3 1178.3 240.0 1210.0C249.7 1241.7 261.7 1280.0 280.0 1320.0C298.3 1360.0 325.8 1408.3 350.0 1450.0C374.2 1491.7 408.0 1536.7 425.0 1570.0C442.0 1603.3 444.5 1620.0 452.0 1650.0C459.5 1680.0 458.7 1713.3 470.0 1750.0C481.3 1786.7 498.3 1836.7 520.0 1870.0C541.7 1903.3 568.3 1932.5 600.0 1950.0C631.7 1967.5 678.3 1977.5 710.0 1975.0C741.7 1972.5 772.5 1957.5 790.0 1935.0C807.5 1912.5 816.7 1872.5 815.0 1840.0C813.3 1807.5 800.8 1773.3 780.0 1740.0C759.2 1706.7 720.0 1669.7 690.0 1640.0C660.0 1610.3 630.0 1582.8 600.0 1562.0C570.0 1541.2 535.8 1538.7 510.0 1515.0C484.2 1491.3 465.0 1454.2 445.0 1420.0C425.0 1385.8 406.7 1342.5 390.0 1310.0C373.3 1277.5 360.0 1251.7 345.0 1225.0C330.0 1198.3 313.3 1167.5 300.0 1150.0C286.7 1132.5 270.8 1125.0 265.0 1120.0" style="stroke:#111;stroke-width:67.00;stroke-linecap:butt;stroke-linejoin:round;fill:none"/><path d="M379.1 443.8C379.3 444.0 369.9 430.6 380.0 445.0C390.1 459.4 413.3 506.7 440.0 530.0C466.7 553.3 506.7 566.7 540.0 585.0C573.3 603.3 612.5 620.8 640.0 640.0C667.5 659.2 693.0 680.0 705.0 700.0C717.0 720.0 717.8 735.0 712.0 760.0C706.2 785.0 686.2 818.3 670.0 850.0C653.8 881.7 627.0 921.7 615.0 950.0C603.0 978.3 600.8 986.7 598.0 1020.0C595.2 1053.3 597.7 1111.7 598.0 1150.0C598.3 1188.3 589.7 1224.2 600.0 1250.0C610.3 1275.8 638.3 1286.7 660.0 1305.0C681.7 1323.3 714.7 1340.8 730.0 1360.0C745.3 1379.2 749.0 1400.0 752.0 1420.0C755.0 1440.0 754.2 1466.3 748.0 1480.0C741.8 1493.7 729.7 1507.0 715.0 1502.0C700.3 1497.0 685.8 1478.7 660.0 1450.0C634.2 1421.3 595.0 1372.5 560.0 1330.0C525.0 1287.5 480.0 1228.3 450.0 1195.0C420.0 1161.7 405.0 1145.8 380.0 1130.0C355.0 1114.2 322.5 1106.3 300.0 1100.0C277.5 1093.7 258.0 1087.0 245.0 1092.0C232.0 1097.0 222.8 1110.3 222.0 1130.0C221.2 1149.7 230.3 1178.3 240.0 1210.0C249.7 1241.7 261.7 1280.0 280.0 1320.0C298.3 1360.0 325.8 1408.3 350.0 1450.0C374.2 1491.7 408.0 1536.7 425.0 1570.0C442.0 1603.3 444.5 1620.0 452.0 1650.0C459.5 1680.0 458.7 1713.3 470.0 1750.0C481.3 1786.7 498.3 1836.7 520.0 1870.0C541.7 1903.3 568.3 1932.5 600.0 1950.0C631.7 1967.5 678.3 1977.5 710.0 1975.0C741.7 1972.5 772.5 1957.5 790.0 1935.0C807.5 1912.5 816.7 1872.5 815.0 1840.0C813.3 1807.5 800.8 1773.3 780.0 1740.0C759.2 1706.7 720.0 1669.7 690.0 1640.0C660.0 1610.3 630.0 1582.8 600.0 1562.0C570.0 1541.2 535.8 1538.7 510.0 1515.0C484.2 1491.3 465.0 1454.2 445.0 1420.0C425.0 1385.8 406.7 1342.5 390.0 1310.0C373.3 1277.5 360.0 1251.7 345.0 1225.0C330.0 1198.3 313.3 1167.5 300.0 1150.0C286.7 1132.5 271.0 1125.2 265.0 1120.0C259.0 1114.8 264.1 1119.2 263.9 1119.0" style="stroke:#fff;stroke-width:43.00;stroke-linecap:butt;stroke-linejoin:round;fill:none"/>
<path d="M768.0 215.0C765.3 227.5 755.8 270.8 752.0 290.0C748.2 309.2 742.0 314.2 745.0 330.0C748.0 345.8 759.2 370.8 770.0 385.0C780.8 399.2 793.3 403.3 810.0 415.0C826.7 426.7 855.8 439.2 870.0 455.0C884.2 470.8 893.3 489.2 895.0 510.0C896.7 530.8 886.2 556.7 880.0 580.0C873.8 603.3 858.8 630.0 858.0 650.0C857.2 670.0 861.3 684.2 875.0 700.0C888.7 715.8 924.8 730.0 940.0 745.0C955.2 760.0 961.3 764.2 966.0 790.0C970.7 815.8 967.7 858.3 968.0 900.0C968.3 941.7 972.7 1005.0 968.0 1040.0C963.3 1075.0 954.7 1080.0 940.0 1110.0C925.3 1140.0 896.7 1188.3 880.0 1220.0C863.3 1251.7 850.0 1275.0 840.0 1300.0C830.0 1325.0 823.7 1348.3 820.0 1370.0C816.3 1391.7 821.3 1412.0 818.0 1430.0C814.7 1448.0 803.0 1470.0 800.0 1478.0" style="stroke:#111;stroke-width:67.00;stroke-linecap:butt;stroke-linejoin:round;fill:none"/><path d="M768.3 213.5C768.3 213.8 770.7 202.3 768.0 215.0C765.3 227.7 755.8 270.8 752.0 290.0C748.2 309.2 742.0 314.2 745.0 330.0C748.0 345.8 759.2 370.8 770.0 385.0C780.8 399.2 793.3 403.3 810.0 415.0C826.7 426.7 855.8 439.2 870.0 455.0C884.2 470.8 893.3 489.2 895.0 510.0C896.7 530.8 886.2 556.7 880.0 580.0C873.8 603.3 858.8 630.0 858.0 650.0C857.2 670.0 861.3 684.2 875.0 700.0C888.7 715.8 924.8 730.0 940.0 745.0C955.2 760.0 961.3 764.2 966.0 790.0C970.7 815.8 967.7 858.3 968.0 900.0C968.3 941.7 972.7 1005.0 968.0 1040.0C963.3 1075.0 954.7 1080.0 940.0 1110.0C925.3 1140.0 896.7 1188.3 880.0 1220.0C863.3 1251.7 850.0 1275.0 840.0 1300.0C830.0 1325.0 823.7 1348.3 820.0 1370.0C816.3 1391.7 821.3 1412.0 818.0 1430.0C814.7 1448.0 803.1 1469.8 800.0 1478.0C796.9 1486.2 799.6 1479.2 799.5 1479.4" style="stroke:#fff;stroke-width:43.00;stroke-linecap:butt;stroke-linejoin:round;fill:none"/>
<ellipse cx="380" cy="445" rx="27" ry="22" transform="rotate(-30 380 445)" style="fill:#fff;stroke:#111;stroke-width:12"/><path d="M740 212L796 225" style="stroke:#111;stroke-width:14"/></g>

<g id="p4_15" transform="translate(1780 1070) scale(.10369)" style="stroke-width:10.2">
<!-- part 4 -->
<path class="w" d="M290 200C340 150 400 130 440 130C500 135 560 170 600 215L750 310L800 320L820 400L980 470C1000 480 1005 500 1000 580L965 595L790 500L770 510V600L830 640L800 720L625 770L620 810L580 825L400 740L320 670C280 670 230 650 200 610C160 560 150 470 180 400L200 390C210 350 240 300 280 250L270 235Z"/>
<path d="M560 180C450 180 330 260 270 400C240 480 245 580 270 640M350 315L590 440L750 350M590 440L640 480L600 520L460 450L400 510L370 540V700L400 740M370 540L600 660L620 810M600 520V660M600 660L640 640V480M400 510L420 530L540 600V470M460 450L430 500M770 360V500M750 350L770 360L800 330M700 460L720 420L760 400M700 460V620L760 650L800 720M700 620L625 770M760 650L830 640M790 500L800 420L820 400M640 760L780 700"/>
<ellipse cx="908" cy="495" rx="14" ry="17"/><ellipse cx="520" cy="718" rx="15" ry="19"/>
<ellipse cx="488" cy="525" rx="10" ry="18" transform="rotate(20 488 525)"/>
<!-- part 15 -->
<path class="w" d="M1110 605L1230 545L1290 660L1380 710C1390 720 1395 735 1395 750L1405 980L1285 1045L1275 820C1270 800 1265 795 1260 790L1165 740Z"/>
<path d="M1125 610L1178 735L1268 785"/>
<path class="w" d="M935 905C940 890 960 885 975 880L1075 825C1120 830 1150 880 1160 940V1020L1235 985L1280 1040L1230 1060L1225 1190L1090 1275L1060 1270L1068 1580L1090 1605L1180 1622C1200 1625 1230 1640 1240 1680V1730L1120 1800L1110 1745L1080 1725L990 1710C960 1700 945 1690 940 1650Z"/>
<path d="M950 920C960 895 1000 900 1020 940C1035 970 1035 1000 1035 1100C1035 1200 1050 1250 1090 1275M1105 1050L1090 1275M1105 1050L1230 1062M1105 1050L1160 1020M950 920L955 1650C958 1680 970 1690 995 1698L1085 1712L1118 1738L1125 1790"/>
</g>

<g id="p11" transform="translate(860 1980) scale(0.39171)" style="stroke-width:3">
<path class="w" d="M110 410L640 100L1635 665L1055 1005L945 945L1045 885L940 825L840 885L730 815L830 755L720 695L620 755L510 700L610 640L500 575L400 640L290 565L385 505L275 440L180 505Z"/>
<path d="M185 490L270 440M195 502L278 452L290 447"/><path d="M368 492C385 495 385 510 372 512"/><path d="M402 616L488 566M412 628L496 578L508 572"/><path d="M586 618C602 620 602 636 590 638"/><path d="M620 741L705 691M630 753L713 703L725 698"/><path d="M803 743C820 746 820 761 807 763"/><path d="M838 866L922 816M848 878L930 828L942 824"/><path d="M1020 868C1038 872 1038 886 1024 888"/><path d="M660 215L715 185C730 178 740 182 750 190L780 212C790 222 788 270 778 280L580 392C565 400 555 395 545 388L470 345"/><path d="M668 228L722 198C735 193 760 215 768 225L768 268"/><path class="w" d="M549 301L649 244A17 28 -30 0 0 621 195L521 252A17 28 -30 0 0 549 301Z"/><path class="w" d="M658 370L775 303A10 17 -30 0 0 758 274L641 341A10 17 -30 0 0 658 370Z"/><path class="w" d="M457 363L526 403A10 17 30 0 0 543 373L474 333A10 17 30 0 0 457 363Z"/><path d="M545 300L465 345"/><path d="M878 340L932 310C948 304 958 308 968 316L998 338C1008 348 1006 396 996 406L798 518C782 526 772 520 762 514L688 470"/><path d="M886 354L940 324C952 318 978 340 986 350L986 394"/><path class="w" d="M766 427L867 370A17 28 -30 0 0 839 320L738 377A17 28 -30 0 0 766 427Z"/><path class="w" d="M875 496L992 429A10 17 -30 0 0 976 399L859 466A10 17 -30 0 0 875 496Z"/><path class="w" d="M675 488L743 528A10 17 30 0 0 760 499L692 459A10 17 30 0 0 675 488Z"/><path d="M762 426L682 470"/><path d="M1095 466L1150 436C1165 429 1175 433 1185 441L1215 463C1225 473 1223 521 1213 531L1015 643C1000 651 990 646 980 639L905 596"/><path d="M1103 479L1157 449C1170 444 1195 466 1203 476L1203 519"/><path class="w" d="M984 552L1084 495A17 28 -30 0 0 1056 446L956 503A17 28 -30 0 0 984 552Z"/><path class="w" d="M1093 621L1210 554A10 17 -30 0 0 1193 525L1076 592A10 17 -30 0 0 1093 621Z"/><path class="w" d="M892 614L961 654A10 17 30 0 0 978 624L909 584A10 17 30 0 0 892 614Z"/><path d="M980 551L900 596"/><path d="M1312 592L1368 562C1382 554 1392 558 1402 566L1432 588C1442 598 1440 646 1430 656L1232 768C1218 776 1208 772 1198 764L1122 722"/><path d="M1320 604L1374 574C1388 570 1412 592 1420 602L1420 644"/><path class="w" d="M1201 678L1302 621A17 28 -30 0 0 1274 571L1173 628A17 28 -30 0 0 1201 678Z"/><path class="w" d="M1310 747L1427 680A10 17 -30 0 0 1411 650L1294 717A10 17 -30 0 0 1310 747Z"/><path class="w" d="M1110 739L1178 779A10 17 30 0 0 1195 750L1127 710A10 17 30 0 0 1110 739Z"/><path d="M1198 676L1118 722"/><path class="w" d="M208 374L312 315A10 17 -30 0 0 296 286L192 345A10 17 -30 0 0 208 374Z"/><path class="w" d="M446 239L550 180A10 17 -30 0 0 534 151L430 210A10 17 -30 0 0 446 239Z"/><path d="M320 285C320 265 350 255 375 262"/><path class="w" d="M651 119L742 171A10 17 30 0 0 759 141L668 89A10 17 30 0 0 651 119Z"/><path class="w" d="M869 244L959 296A10 17 30 0 0 976 267L886 215A10 17 30 0 0 869 244Z"/><path class="w" d="M1086 370L1177 422A10 17 30 0 0 1194 392L1103 340A10 17 30 0 0 1086 370Z"/><path class="w" d="M1304 495L1394 547A10 17 30 0 0 1411 518L1321 466A10 17 30 0 0 1304 495Z"/><path class="w" d="M1515 617L1618 677A10 17 30 0 0 1635 647L1532 587A10 17 30 0 0 1515 617Z"/><path class="w" d="M82 457L170 508A17 28 30 0 0 198 459L110 408A17 28 30 0 0 82 457Z"/><path class="w" d="M299 583L387 634A17 28 30 0 0 416 584L328 533A17 28 30 0 0 299 583Z"/><path class="w" d="M517 708L605 759A17 28 30 0 0 633 710L545 659A17 28 30 0 0 517 708Z"/><path class="w" d="M734 834L822 885A17 28 30 0 0 851 835L763 784A17 28 30 0 0 734 834Z"/><path class="w" d="M952 959L1040 1010A17 28 30 0 0 1068 961L980 910A17 28 30 0 0 952 959Z"/><path class="w" d="M284 473L351 512A17 28 30 0 0 380 463L313 424A17 28 30 0 0 284 473Z"/><path class="w" d="M502 599L569 638A17 28 30 0 0 597 588L530 549A17 28 30 0 0 502 599Z"/><path class="w" d="M719 724L786 763A17 28 30 0 0 815 714L748 675A17 28 30 0 0 719 724Z"/><path class="w" d="M937 850L1004 889A17 28 30 0 0 1032 839L965 800A17 28 30 0 0 937 850Z"/><path d="M1060 1000L1635 668M1070 1008L1625 690C1645 678 1640 660 1625 655"/><path class="w" d="M1424 801L1524 744A17 28 -30 0 0 1496 695L1396 752A17 28 -30 0 0 1424 801Z"/><path class="w" d="M1200 936L1284 889A17 28 -30 0 0 1256 840L1172 887A17 28 -30 0 0 1200 936Z"/><ellipse class="w" cx="1125" cy="995" rx="38" ry="22"/><path d="M1088 995V1003C1095 1025 1155 1025 1162 1003V995"/><ellipse cx="815" cy="245" rx="12" ry="9"/><ellipse cx="1462" cy="625" rx="18" ry="9" transform="rotate(28 1462 625)"/><ellipse class="w" cx="555" cy="752" rx="97" ry="52"/><ellipse class="w" cx="555" cy="742" rx="97" ry="52"/><ellipse cx="555" cy="735" rx="88" ry="45"/><path class="w" d="M465 740V700C470 660 500 640 540 640L640 700V745Z" style="stroke:none"/><path d="M462 742V700C465 670 480 655 500 648"/><path class="k" d="M482 600L489 716L499 706L493 598Z" style="stroke-width:1"/><path d="M455 610L480 600L495 598L560 640M520 628L560 632M490 720L510 700L560 720"/><path class="w" d="M517 708L605 759A17 28 30 0 0 633 710L545 659A17 28 30 0 0 517 708Z"/><path class="w" d="M502 599L569 638A17 28 30 0 0 597 588L530 549A17 28 30 0 0 502 599Z"/><defs><g id="noz"><path class="w" d="M-33 -2V14C-25 30 25 30 33 14V-2Z"/><path class="w" d="M-33 -2L-18 -16L18 -16L33 -2L15 10L-15 10Z"/><path d="M-15 10V26M15 10V26"/><path class="w" d="M-17 -14L-8 -50C-4 -58 4 -58 8 -50L17 -14C8 -6 -8 -6 -17 -14Z"/><ellipse cx="0" cy="-50" rx="3" ry="2"/></g></defs><use href="#noz" x="203" y="400"/><use href="#noz" x="420" y="526"/><use href="#noz" x="638" y="651"/><use href="#noz" x="856" y="776"/><use href="#noz" x="1073" y="902"/><use href="#noz" x="416" y="279"/><use href="#noz" x="633" y="404"/><use href="#noz" x="850" y="530"/><use href="#noz" x="1068" y="656"/><use href="#noz" x="1286" y="781"/><use href="#noz" x="628" y="158"/><use href="#noz" x="846" y="284"/><use href="#noz" x="1063" y="409"/><use href="#noz" x="1280" y="534"/><use href="#noz" x="1498" y="660"/>
</g>
<ellipse cx="1077.7" cy="2360.6" rx="36.5" ry="23.2"/><ellipse cx="1077.7" cy="2359.8" rx="25.8" ry="13.4"/>
<path class="w" d="M1076 2335h3.4v22h-3.4z" style="stroke:none"/><path class="th" d="M1077.7 2337V2354.2"/>
<path class="th" d="M962.6 2080L1107.6 1995.7L1148.7 2018.4"/>

<g id="screw3"><g transform="translate(1590 720) scale(.04608)" style="stroke-width:24">
<path class="w" d="M560 540L790 425L900 372C960 360 1040 450 1030 545L905 640L690 780Z"/>
<path d="M790 425C870 480 910 560 905 640"/>
<ellipse class="w" cx="500" cy="745" rx="180" ry="262" transform="rotate(-24 500 745)"/>
<ellipse class="w" cx="440" cy="765" rx="165" ry="245" transform="rotate(-24 440 765)"/>
<path d="M325 700L380 745L420 690L440 770L505 850L435 850L400 885L370 810L325 720Z" style="stroke-width:18"/>
</g></g>
<use href="#screw3" y="916"/>

<text x="1838" y="2603.8" style="font-size:25.8px;letter-spacing:2.27px;stroke:none">6720907930.ac</text>
<path d="M2121 2594.5C2119 2595 2118.8 2601 2121 2601.5" style="stroke-width:1.6"/>

<g id="labels">
<text x="668.5" y="425.5">1</text>
<text x="679.7" y="649">6</text>
<text x="679.7" y="755">7</text>
<text x="679.7" y="861.5">8</text>
<text x="679.7" y="969">9</text>
<text x="668.5" y="1063">10</text>
<text x="668.5" y="1149.4">13</text>
<text x="668.5" y="1390.5">16</text>
<text x="679.7" y="1719.6">7</text>
<text x="668.5" y="2151.9">11</text>
<text x="938.7" y="2314.5">12</text>
<text x="1704.5" y="1196.4">4</text>
<text x="1681.5" y="1329.2">15</text>
<text x="1705.5" y="1438.7">5</text>
<text x="1707.5" y="825.2">3</text>
</g>
<g id="leaders" class="th">
<path d="M716.8 421.2L782.7 458.5"/>
<path d="M599.9 591.2L664.9 628.2"/>
<path d="M708.5 752.2L794.8 802.3"/>
<path d="M716.8 1385.1L782.7 1423"/>
<path d="M726.1 2151.6L864.8 2231.6"/>
<path d="M962.6 2080L864.8 2134.8V2325.8L905.5 2349.4"/>
<path d="M993.2 2316.5L1048 2347.7"/>
<path d="M1736.1 1179.6L1807.2 1138.5"/>
<path d="M1736.1 1299.8L1876 1219.3"/>
<path d="M1736.1 1413.9L1983.3 1271.7"/>
<path d="M1627.9 756.4L1698.3 796.8"/>
</g>

<g style="fill:#fff;stroke:none"><circle cx="706" cy="1049.8" r="3"/><circle cx="1899.0" cy="2595.3" r="1.9"/><circle cx="1934.5" cy="2595.3" r="1.9"/><circle cx="2005.5" cy="2595.3" r="1.9"/></g>


</g>
</svg>
</body></html>
